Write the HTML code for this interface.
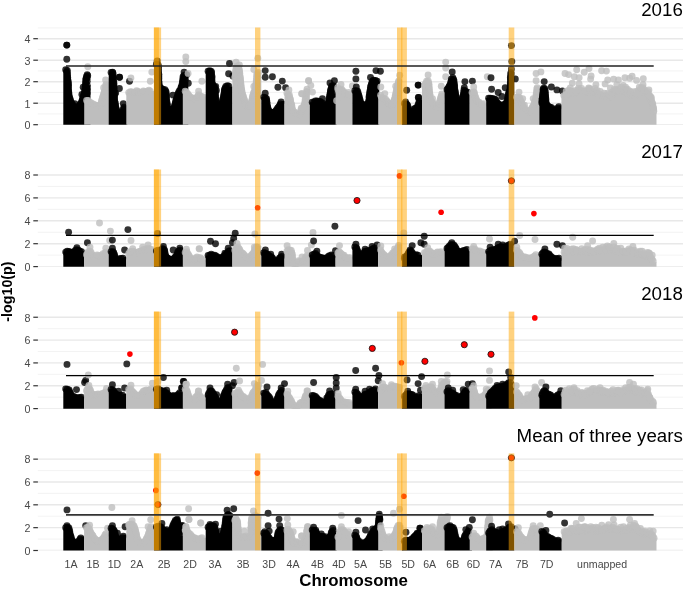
<!DOCTYPE html>
<html><head><meta charset="utf-8"><title>GWAS Manhattan plots</title>
<style>html,body{margin:0;padding:0;background:#fff}body{width:685px;height:589px;overflow:hidden}</style>
</head><body>
<svg width="685" height="589" viewBox="0 0 685 589" style="display:block">
<rect width="685" height="589" fill="#fff"/>
<defs>
<clipPath id="c0"><rect x="37" y="19.5" width="648" height="105.3"/></clipPath>
<clipPath id="c1"><rect x="37" y="161.5" width="648" height="105.2"/></clipPath>
<clipPath id="c2"><rect x="37" y="303.6" width="648" height="105.1"/></clipPath>
<clipPath id="c3"><rect x="37" y="445.4" width="648" height="105.2"/></clipPath>
</defs>
<g clip-path="url(#c0)">
<path d="M37.8 113.95H683" stroke="#f0f0f0" stroke-width="0.8"/>
<path d="M37.8 92.45H683" stroke="#f0f0f0" stroke-width="0.8"/>
<path d="M37.8 70.95H683" stroke="#f0f0f0" stroke-width="0.8"/>
<path d="M37.8 49.45H683" stroke="#f0f0f0" stroke-width="0.8"/>
<path d="M37.8 27.95H683" stroke="#f0f0f0" stroke-width="0.8"/>
<path d="M37.8 124.70H683" stroke="#e8e8e8" stroke-width="1.4"/>
<path d="M37.8 103.20H683" stroke="#e8e8e8" stroke-width="1.4"/>
<path d="M37.8 81.70H683" stroke="#e8e8e8" stroke-width="1.4"/>
<path d="M37.8 60.20H683" stroke="#e8e8e8" stroke-width="1.4"/>
<path d="M37.8 38.70H683" stroke="#e8e8e8" stroke-width="1.4"/>
<g fill="#000"><path d="M63.3 125.8L63.3 69.7L64.1 69.7L64.9 69.7L65.7 69.7L66.5 70.1L67.3 70.3L68.1 70.3L68.9 94.5L69.7 97.4L70.5 100L71.3 102.4L72.1 103.5L72.9 104.1L73.7 105.9L74.5 107.3L75.3 107.7L76.1 108L76.9 107.8L77.7 107.4L78.5 106.6L79.3 105.4L80.1 103.8L80.9 102.9L81.7 101.4L82.5 98.8L83.3 96.3L84.1 93.5L84.9 90L85.7 84.4L86.5 75.5L87.3 75.4L88.1 85.3L88.9 85.3L89.7 85.3L90.5 85.3L90.5 85.3L90.5 125.8Z"/>
</g>
<g fill="#000" fill-opacity="0.8">
<circle cx="65.7" cy="69.8" r="3.45"/>
<circle cx="67.3" cy="70.5" r="3.45"/>
<circle cx="67.2" cy="72.3" r="3.45"/>
<circle cx="67.3" cy="74" r="3.45"/>
<circle cx="67.5" cy="75.4" r="3.45"/>
<circle cx="67.7" cy="77.6" r="3.45"/>
<circle cx="67.7" cy="78.9" r="3.45"/>
<circle cx="68.1" cy="81" r="3.45"/>
<circle cx="68.2" cy="82.4" r="3.45"/>
<circle cx="68.4" cy="83.9" r="3.45"/>
<circle cx="68.5" cy="85.7" r="3.45"/>
<circle cx="68.3" cy="87.3" r="3.45"/>
<circle cx="68.5" cy="89.4" r="3.45"/>
<circle cx="68.6" cy="91" r="3.45"/>
<circle cx="68.8" cy="92.6" r="3.45"/>
<circle cx="68.9" cy="94.1" r="3.45"/>
<circle cx="69" cy="95.8" r="3.45"/>
<circle cx="69.7" cy="97.6" r="3.45"/>
<circle cx="70.1" cy="99.3" r="3.45"/>
<circle cx="70.6" cy="100.8" r="3.45"/>
<circle cx="71.3" cy="102.6" r="3.45"/>
<circle cx="72.1" cy="103.9" r="3.45"/>
<circle cx="73.3" cy="105.4" r="3.45"/>
<circle cx="74" cy="106.7" r="3.45"/>
<circle cx="75.3" cy="107.8" r="3.45"/>
<circle cx="76.7" cy="108.2" r="3.45"/>
<circle cx="78.1" cy="107.2" r="3.45"/>
<circle cx="79" cy="105.9" r="3.45"/>
<circle cx="80.1" cy="104.3" r="3.45"/>
<circle cx="81.2" cy="102.9" r="3.45"/>
<circle cx="81.8" cy="101.5" r="3.45"/>
<circle cx="82.3" cy="99.8" r="3.45"/>
<circle cx="82.9" cy="98.5" r="3.45"/>
<circle cx="83.3" cy="96.7" r="3.45"/>
<circle cx="83.6" cy="95.1" r="3.45"/>
<circle cx="84.2" cy="93.6" r="3.45"/>
<circle cx="84.7" cy="91.5" r="3.45"/>
<circle cx="84.9" cy="90.1" r="3.45"/>
<circle cx="85.1" cy="88.3" r="3.45"/>
<circle cx="85.3" cy="86.4" r="3.45"/>
<circle cx="85.5" cy="85.1" r="3.45"/>
<circle cx="85.6" cy="83.1" r="3.45"/>
<circle cx="85.8" cy="81.8" r="3.45"/>
<circle cx="85.8" cy="79.8" r="3.45"/>
<circle cx="86.1" cy="78.4" r="3.45"/>
<circle cx="86.4" cy="76.7" r="3.45"/>
<circle cx="87.7" cy="75.8" r="3.45"/>
</g>
<g fill="#000" fill-opacity="0.8">
<circle cx="66.8" cy="45.1" r="3.45"/>
<circle cx="66.8" cy="45.1" r="3.45"/>
<circle cx="66.8" cy="59.2" r="3.45"/>
<circle cx="87.2" cy="74.7" r="3.45"/>
<circle cx="87.2" cy="78" r="3.45"/>
<circle cx="87.2" cy="81.3" r="3.45"/>
<circle cx="87.2" cy="85.2" r="3.45"/>
<circle cx="87.2" cy="89.2" r="3.45"/>
<circle cx="87.2" cy="93.1" r="3.45"/>
<circle cx="83.2" cy="87.2" r="3.45"/>
<circle cx="81.9" cy="94.4" r="3.45"/>
<circle cx="74.7" cy="103.6" r="3.45"/>
</g>
<g fill="#bebebe"><path d="M84.2 125.8L84.2 100.3L85 100.3L85.8 100.3L86.6 100.3L87.4 100.2L88.2 99.9L89 101.3L89.8 102.1L90.6 102.5L91.4 102.8L92.2 103.4L93 103.6L93.8 103.8L94.6 104.6L95.4 105.2L96.2 105.5L97 105.5L97.8 105.4L98.6 105.5L99.4 105.1L100.2 104.6L101 102.7L101.8 100.6L102.6 98L103.4 95.2L104.2 92.8L105 90.1L105.8 86L106.6 82.1L107.4 82.1L108.2 82.1L108.9 82.1L108.9 125.8Z"/>
</g>
<g fill="#bebebe" fill-opacity="0.8">
<circle cx="86.6" cy="100.4" r="3.45"/>
<circle cx="88.2" cy="100.5" r="3.45"/>
<circle cx="89.3" cy="102" r="3.45"/>
<circle cx="90.8" cy="102.7" r="3.45"/>
<circle cx="92.1" cy="103.6" r="3.45"/>
<circle cx="93.8" cy="104.3" r="3.45"/>
<circle cx="95.4" cy="105.5" r="3.45"/>
<circle cx="96.8" cy="105.9" r="3.45"/>
<circle cx="98.6" cy="105.5" r="3.45"/>
<circle cx="100.2" cy="105.1" r="3.45"/>
<circle cx="101" cy="103.6" r="3.45"/>
<circle cx="101.4" cy="101.8" r="3.45"/>
<circle cx="101.8" cy="100.3" r="3.45"/>
<circle cx="102.3" cy="98.4" r="3.45"/>
<circle cx="102.8" cy="96.8" r="3.45"/>
<circle cx="103.4" cy="95.1" r="3.45"/>
<circle cx="103.8" cy="93.5" r="3.45"/>
<circle cx="104.3" cy="92" r="3.45"/>
<circle cx="104.8" cy="90.7" r="3.45"/>
<circle cx="105.5" cy="88.6" r="3.45"/>
<circle cx="105.6" cy="87.1" r="3.45"/>
<circle cx="105.8" cy="85.3" r="3.45"/>
<circle cx="106.2" cy="84.1" r="3.45"/>
</g>
<g fill="#bebebe" fill-opacity="0.8">
<circle cx="87.8" cy="66.8" r="3.45"/>
<circle cx="105.6" cy="80" r="3.45"/>
<circle cx="103.6" cy="87.8" r="3.45"/>
</g>
<g fill="#000"><path d="M108.7 125.8L108.7 72.5L109.5 72.5L110.3 72.5L111.1 72.5L111.9 72.3L112.7 72.3L113.5 72.7L114.3 95.3L115.1 103.1L115.9 108.2L116.7 109.3L117.5 110.9L118.3 112.1L119.1 112.8L119.9 113.2L120.7 113.3L121.5 113.1L122.3 112.6L123.1 110.6L123.9 107.4L124.7 105.8L125.5 105.6L126.3 105.6L127.1 105.6L127.3 105.6L127.3 125.8Z"/>
</g>
<g fill="#000" fill-opacity="0.8">
<circle cx="111.1" cy="72.5" r="3.45"/>
<circle cx="112.8" cy="72.6" r="3.45"/>
<circle cx="113.1" cy="74.2" r="3.45"/>
<circle cx="112.9" cy="76.4" r="3.45"/>
<circle cx="113.3" cy="77.6" r="3.45"/>
<circle cx="113.4" cy="79.2" r="3.45"/>
<circle cx="113.6" cy="81.5" r="3.45"/>
<circle cx="113.9" cy="83" r="3.45"/>
<circle cx="113.8" cy="84.5" r="3.45"/>
<circle cx="113.9" cy="86.4" r="3.45"/>
<circle cx="114.1" cy="88.1" r="3.45"/>
<circle cx="114" cy="89.5" r="3.45"/>
<circle cx="114.3" cy="91.6" r="3.45"/>
<circle cx="114.4" cy="93.2" r="3.45"/>
<circle cx="114.4" cy="94.9" r="3.45"/>
<circle cx="114.3" cy="96.5" r="3.45"/>
<circle cx="114.5" cy="97.9" r="3.45"/>
<circle cx="114.5" cy="99.7" r="3.45"/>
<circle cx="114.8" cy="101.6" r="3.45"/>
<circle cx="115.3" cy="103.2" r="3.45"/>
<circle cx="115.4" cy="105.2" r="3.45"/>
<circle cx="115.6" cy="106.5" r="3.45"/>
<circle cx="115.7" cy="108.1" r="3.45"/>
<circle cx="116.6" cy="109.5" r="3.45"/>
<circle cx="117.5" cy="111.4" r="3.45"/>
<circle cx="118.6" cy="112.6" r="3.45"/>
<circle cx="120" cy="113.6" r="3.45"/>
<circle cx="121.5" cy="113.4" r="3.45"/>
<circle cx="122.9" cy="112.1" r="3.45"/>
<circle cx="123.3" cy="110.3" r="3.45"/>
<circle cx="123.5" cy="108.8" r="3.45"/>
<circle cx="124" cy="107.2" r="3.45"/>
</g>
<g fill="#000" fill-opacity="0.8">
<circle cx="112.5" cy="72.1" r="3.45"/>
<circle cx="119.4" cy="77.3" r="3.45"/>
<circle cx="119.6" cy="77.3" r="3.45"/>
<circle cx="119.4" cy="88.5" r="3.45"/>
<circle cx="115.7" cy="93.1" r="3.45"/>
<circle cx="129.5" cy="81.3" r="3.45"/>
<circle cx="123.3" cy="103.6" r="3.45"/>
</g>
<g fill="#bebebe"><path d="M126.3 125.8L126.3 92L127.1 92L127.9 92L128.7 92L129.5 91.5L130.3 91.4L131.1 91.8L131.9 91.9L132.7 91.8L133.5 92.1L134.3 92.1L135.1 91.7L135.9 90.9L136.7 90.1L137.5 90.1L138.3 91.4L139.1 92.2L139.9 92.6L140.7 92.6L141.5 92.3L142.3 91.7L143.1 90.8L143.9 90.3L144.7 91.3L145.5 91.7L146.3 91.9L147.1 91.8L147.9 91.3L148.7 90.3L149.5 90.1L150.3 90.7L151.1 91L151.9 91.1L152.7 91.1L153.5 91.1L154 91.1L154 125.8Z"/>
</g>
<g fill="#bebebe" fill-opacity="0.8">
<circle cx="128.7" cy="92.6" r="3.45"/>
<circle cx="130.4" cy="91.6" r="3.45"/>
<circle cx="131.8" cy="91.9" r="3.45"/>
<circle cx="133.8" cy="92.5" r="3.45"/>
<circle cx="135.1" cy="92.1" r="3.45"/>
<circle cx="136.6" cy="90.7" r="3.45"/>
<circle cx="137.9" cy="91.4" r="3.45"/>
<circle cx="139.1" cy="92.2" r="3.45"/>
<circle cx="141" cy="92.9" r="3.45"/>
<circle cx="142.3" cy="92.2" r="3.45"/>
<circle cx="143.4" cy="90.9" r="3.45"/>
<circle cx="144.9" cy="91.5" r="3.45"/>
<circle cx="146.3" cy="92.1" r="3.45"/>
<circle cx="147.8" cy="91.5" r="3.45"/>
<circle cx="148.9" cy="90.1" r="3.45"/>
<circle cx="150.3" cy="91.3" r="3.45"/>
</g>
<g fill="#bebebe" fill-opacity="0.8">
<circle cx="130.9" cy="78" r="3.45"/>
<circle cx="151.8" cy="72.1" r="3.45"/>
<circle cx="150.3" cy="81.3" r="3.45"/>
</g>
<g fill="#000"><path d="M154 125.8L154 63.7L154.8 63.7L155.6 63.7L156.4 63.7L157.2 64L158 64.1L158.8 73.5L159.6 86.6L160.4 87.4L161.2 87.8L162 88.6L162.8 89.1L163.6 89.3L164.4 89.2L165.2 89L166 92.5L166.8 100.2L167.6 107.6L168.4 109.1L169.2 109.8L170 109.8L170.8 109.6L171.6 109.2L172.4 109L173.2 108.7L174 107.8L174.8 105.2L175.6 101.7L176.4 99L177.2 96.6L178 93.9L178.8 91.7L179.6 90.5L180.4 89.2L181.2 87.1L182 84.6L182.8 81.3L183.6 74.9L184.4 75.9L185.2 79.3L186 81.6L186.8 81.6L187.6 81.6L188.3 81.6L188.3 125.8Z"/>
</g>
<g fill="#000" fill-opacity="0.8">
<circle cx="156.4" cy="64.2" r="3.45"/>
<circle cx="158" cy="64.6" r="3.45"/>
<circle cx="158.2" cy="66.1" r="3.45"/>
<circle cx="158.3" cy="67.5" r="3.45"/>
<circle cx="158.4" cy="69.3" r="3.45"/>
<circle cx="158.3" cy="71.3" r="3.45"/>
<circle cx="158.5" cy="72.8" r="3.45"/>
<circle cx="158.9" cy="74.6" r="3.45"/>
<circle cx="158.7" cy="76.3" r="3.45"/>
<circle cx="158.9" cy="78.1" r="3.45"/>
<circle cx="158.7" cy="79.7" r="3.45"/>
<circle cx="158.8" cy="81.2" r="3.45"/>
<circle cx="159.1" cy="83" r="3.45"/>
<circle cx="159" cy="84.9" r="3.45"/>
<circle cx="159.4" cy="86.4" r="3.45"/>
<circle cx="160.4" cy="87.7" r="3.45"/>
<circle cx="161.7" cy="88.8" r="3.45"/>
<circle cx="163.2" cy="89.5" r="3.45"/>
<circle cx="164.9" cy="89.6" r="3.45"/>
<circle cx="165.8" cy="91.1" r="3.45"/>
<circle cx="166.1" cy="92.4" r="3.45"/>
<circle cx="166.2" cy="94.5" r="3.45"/>
<circle cx="166.5" cy="95.7" r="3.45"/>
<circle cx="166.4" cy="97.6" r="3.45"/>
<circle cx="166.5" cy="99.2" r="3.45"/>
<circle cx="166.7" cy="101.1" r="3.45"/>
<circle cx="167.1" cy="102.9" r="3.45"/>
<circle cx="167.1" cy="104.5" r="3.45"/>
<circle cx="167.5" cy="105.9" r="3.45"/>
<circle cx="167.8" cy="108.1" r="3.45"/>
<circle cx="168.2" cy="109.6" r="3.45"/>
<circle cx="169.9" cy="110" r="3.45"/>
<circle cx="171.7" cy="109.7" r="3.45"/>
<circle cx="173" cy="108.9" r="3.45"/>
<circle cx="174.1" cy="107.4" r="3.45"/>
<circle cx="174.5" cy="105.8" r="3.45"/>
<circle cx="175.2" cy="104" r="3.45"/>
<circle cx="175.5" cy="102.6" r="3.45"/>
<circle cx="175.7" cy="100.9" r="3.45"/>
<circle cx="176.4" cy="99.4" r="3.45"/>
<circle cx="176.7" cy="98" r="3.45"/>
<circle cx="177.5" cy="96.4" r="3.45"/>
<circle cx="177.8" cy="94.4" r="3.45"/>
<circle cx="178.3" cy="93.1" r="3.45"/>
<circle cx="179.1" cy="91.1" r="3.45"/>
<circle cx="180.1" cy="90.2" r="3.45"/>
<circle cx="181" cy="88.2" r="3.45"/>
<circle cx="181.2" cy="87" r="3.45"/>
<circle cx="182" cy="85.3" r="3.45"/>
<circle cx="182.3" cy="83.3" r="3.45"/>
<circle cx="182.8" cy="81.8" r="3.45"/>
<circle cx="182.7" cy="80.4" r="3.45"/>
<circle cx="183.1" cy="78.7" r="3.45"/>
<circle cx="183" cy="77" r="3.45"/>
<circle cx="183.8" cy="75.5" r="3.45"/>
<circle cx="184.5" cy="76.8" r="3.45"/>
<circle cx="185" cy="78.8" r="3.45"/>
<circle cx="185.3" cy="80" r="3.45"/>
</g>
<g fill="#000" fill-opacity="0.8">
<circle cx="157.2" cy="60.9" r="3.45"/>
<circle cx="172.9" cy="95.1" r="3.45"/>
<circle cx="184.1" cy="72.1" r="3.45"/>
<circle cx="186.7" cy="74.7" r="3.45"/>
<circle cx="188.3" cy="83.2" r="3.45"/>
</g>
<g fill="#bebebe"><path d="M182.8 125.8L182.8 91.2L183.6 91.2L184.4 91.2L185.2 91.2L186 91.4L186.8 92.4L187.6 93.2L188.4 94.3L189.2 95.9L190 96.9L190.8 97.6L191.6 97.9L192.4 98L193.2 97.9L194 98.4L194.8 98.4L195.6 98.3L196.4 97.7L197.2 96.7L198 95.3L198.8 94.1L199.6 95L200.4 95.6L201.2 95.9L202 96.1L202.8 96.3L203.6 96.5L204.4 96.5L205.2 96.5L205.9 96.5L205.9 125.8Z"/>
</g>
<g fill="#bebebe" fill-opacity="0.8">
<circle cx="185.2" cy="91.3" r="3.45"/>
<circle cx="186.4" cy="92.3" r="3.45"/>
<circle cx="187.7" cy="93.6" r="3.45"/>
<circle cx="188.7" cy="95.1" r="3.45"/>
<circle cx="189.5" cy="96.4" r="3.45"/>
<circle cx="190.7" cy="97.5" r="3.45"/>
<circle cx="192.3" cy="98" r="3.45"/>
<circle cx="194.1" cy="98.7" r="3.45"/>
<circle cx="195.6" cy="98.4" r="3.45"/>
<circle cx="197.1" cy="97.1" r="3.45"/>
<circle cx="198" cy="95.8" r="3.45"/>
<circle cx="198.8" cy="94.6" r="3.45"/>
<circle cx="199.9" cy="95.6" r="3.45"/>
<circle cx="201.6" cy="96.6" r="3.45"/>
<circle cx="203.1" cy="96.9" r="3.45"/>
</g>
<g fill="#bebebe" fill-opacity="0.8">
<circle cx="185.8" cy="57" r="3.45"/>
<circle cx="185.8" cy="61.6" r="3.45"/>
<circle cx="188.1" cy="73.4" r="3.45"/>
<circle cx="201.9" cy="81.3" r="3.45"/>
<circle cx="198.6" cy="91.1" r="3.45"/>
</g>
<g fill="#000"><path d="M205.7 125.8L205.7 71L206.5 71L207.3 71L208.1 71L208.9 71.3L209.7 71.3L210.5 71.2L211.3 71L212.1 82.5L212.9 84.8L213.7 85.8L214.5 86.4L215.3 90.7L216.1 101.5L216.9 105.2L217.7 106.2L218.5 106.1L219.3 106.1L220.1 105.7L220.9 104.6L221.7 102.8L222.5 100.9L223.3 97.1L224.1 92.6L224.9 88.7L225.7 86.3L226.5 85.5L227.3 85.4L228.1 85.8L228.9 86.4L229.7 86.7L230.5 86.7L231.3 86.7L232.1 86.7L232.4 86.7L232.4 125.8Z"/>
</g>
<g fill="#000" fill-opacity="0.8">
<circle cx="208.1" cy="71.2" r="3.45"/>
<circle cx="209.6" cy="71.4" r="3.45"/>
<circle cx="211.3" cy="71.4" r="3.45"/>
<circle cx="211.5" cy="72.7" r="3.45"/>
<circle cx="211.5" cy="74.8" r="3.45"/>
<circle cx="212" cy="76.4" r="3.45"/>
<circle cx="211.8" cy="77.9" r="3.45"/>
<circle cx="211.9" cy="79.7" r="3.45"/>
<circle cx="211.9" cy="81.4" r="3.45"/>
<circle cx="212" cy="83.4" r="3.45"/>
<circle cx="212.9" cy="84.7" r="3.45"/>
<circle cx="213.6" cy="86.4" r="3.45"/>
<circle cx="214.7" cy="87.3" r="3.45"/>
<circle cx="214.8" cy="89" r="3.45"/>
<circle cx="215.2" cy="90.7" r="3.45"/>
<circle cx="215.2" cy="92.4" r="3.45"/>
<circle cx="215.3" cy="94" r="3.45"/>
<circle cx="215.4" cy="95.8" r="3.45"/>
<circle cx="215.6" cy="97.2" r="3.45"/>
<circle cx="215.8" cy="99.1" r="3.45"/>
<circle cx="216.1" cy="100.9" r="3.45"/>
<circle cx="216.3" cy="102.7" r="3.45"/>
<circle cx="216.4" cy="104.5" r="3.45"/>
<circle cx="217.1" cy="105.7" r="3.45"/>
<circle cx="218.9" cy="106.2" r="3.45"/>
<circle cx="220.4" cy="105.9" r="3.45"/>
<circle cx="220.9" cy="104.5" r="3.45"/>
<circle cx="222" cy="102.9" r="3.45"/>
<circle cx="222.6" cy="101.4" r="3.45"/>
<circle cx="222.7" cy="99.6" r="3.45"/>
<circle cx="223.2" cy="98.1" r="3.45"/>
<circle cx="223.6" cy="96.4" r="3.45"/>
<circle cx="223.8" cy="94.8" r="3.45"/>
<circle cx="224.2" cy="93" r="3.45"/>
<circle cx="224.3" cy="90.9" r="3.45"/>
<circle cx="224.6" cy="89.4" r="3.45"/>
<circle cx="225.1" cy="88.1" r="3.45"/>
<circle cx="225.8" cy="86.4" r="3.45"/>
<circle cx="227.4" cy="85.8" r="3.45"/>
<circle cx="228.8" cy="86.3" r="3.45"/>
</g>
<g fill="#000" fill-opacity="0.8">
<circle cx="209.8" cy="70.8" r="3.45"/>
<circle cx="209.8" cy="76" r="3.45"/>
<circle cx="209.8" cy="80" r="3.45"/>
<circle cx="211.8" cy="85.2" r="3.45"/>
<circle cx="215.7" cy="86.5" r="3.45"/>
<circle cx="216.4" cy="90.5" r="3.45"/>
<circle cx="229.5" cy="63.5" r="3.45"/>
<circle cx="228.6" cy="73.8" r="3.45"/>
<circle cx="232.8" cy="76" r="3.45"/>
</g>
<g fill="#bebebe"><path d="M232.4 125.8L232.4 77.5L233.2 77.5L234 77.5L234.8 77.5L235.6 71.9L236.4 65.7L237.2 65.3L238 65.6L238.8 68.5L239.6 72L240.4 79.5L241.2 87L242 91.3L242.8 94.7L243.6 97.7L244.4 99.8L245.2 102L246 103.9L246.8 105.2L247.6 105.8L248.4 105.9L249.2 105.9L250 105.5L250.8 104.1L251.6 100.4L252.4 96.8L253.2 94.1L254 92.2L254.8 90.8L255.6 87.7L256.4 78.7L257.2 71.8L258 72.2L258.8 72.4L259.6 72.5L260.4 72.5L261.2 72.5L261.3 72.5L261.3 125.8Z"/>
</g>
<g fill="#bebebe" fill-opacity="0.8">
<circle cx="234.8" cy="77.8" r="3.45"/>
<circle cx="235.2" cy="75.9" r="3.45"/>
<circle cx="235.5" cy="74.3" r="3.45"/>
<circle cx="235.4" cy="72.6" r="3.45"/>
<circle cx="235.8" cy="70.9" r="3.45"/>
<circle cx="236" cy="69.7" r="3.45"/>
<circle cx="236.1" cy="67.6" r="3.45"/>
<circle cx="236.6" cy="66.2" r="3.45"/>
<circle cx="238.1" cy="67" r="3.45"/>
<circle cx="238.7" cy="68.3" r="3.45"/>
<circle cx="239" cy="70" r="3.45"/>
<circle cx="239.6" cy="71.7" r="3.45"/>
<circle cx="239.8" cy="73.2" r="3.45"/>
<circle cx="239.8" cy="75.1" r="3.45"/>
<circle cx="240.2" cy="77" r="3.45"/>
<circle cx="240.4" cy="78.5" r="3.45"/>
<circle cx="240.5" cy="80.3" r="3.45"/>
<circle cx="240.6" cy="81.7" r="3.45"/>
<circle cx="240.9" cy="83.5" r="3.45"/>
<circle cx="241.1" cy="85.6" r="3.45"/>
<circle cx="241" cy="87" r="3.45"/>
<circle cx="241.6" cy="89" r="3.45"/>
<circle cx="241.7" cy="90.2" r="3.45"/>
<circle cx="242" cy="92.3" r="3.45"/>
<circle cx="242.4" cy="93.8" r="3.45"/>
<circle cx="242.8" cy="95.4" r="3.45"/>
<circle cx="243.5" cy="96.8" r="3.45"/>
<circle cx="243.9" cy="98.6" r="3.45"/>
<circle cx="244.6" cy="100.3" r="3.45"/>
<circle cx="244.9" cy="102" r="3.45"/>
<circle cx="245.6" cy="103.1" r="3.45"/>
<circle cx="246.2" cy="104.9" r="3.45"/>
<circle cx="247.5" cy="106" r="3.45"/>
<circle cx="249.1" cy="106" r="3.45"/>
<circle cx="250.3" cy="105" r="3.45"/>
<circle cx="250.8" cy="103.4" r="3.45"/>
<circle cx="251.5" cy="101.4" r="3.45"/>
<circle cx="251.9" cy="100.1" r="3.45"/>
<circle cx="252.3" cy="98.1" r="3.45"/>
<circle cx="252.5" cy="96.5" r="3.45"/>
<circle cx="253.2" cy="95" r="3.45"/>
<circle cx="253.5" cy="93.3" r="3.45"/>
<circle cx="254.2" cy="91.6" r="3.45"/>
<circle cx="255" cy="90.6" r="3.45"/>
<circle cx="255.4" cy="89" r="3.45"/>
<circle cx="255.6" cy="86.9" r="3.45"/>
<circle cx="255.8" cy="85.1" r="3.45"/>
<circle cx="255.9" cy="83.9" r="3.45"/>
<circle cx="256.3" cy="82.1" r="3.45"/>
<circle cx="256.3" cy="80.5" r="3.45"/>
<circle cx="256.6" cy="78.6" r="3.45"/>
<circle cx="256.7" cy="76.6" r="3.45"/>
<circle cx="256.8" cy="75.1" r="3.45"/>
<circle cx="257" cy="73.6" r="3.45"/>
<circle cx="258.3" cy="72.4" r="3.45"/>
</g>
<g fill="#bebebe" fill-opacity="0.8">
<circle cx="236.1" cy="62.2" r="3.45"/>
<circle cx="239.4" cy="64.9" r="3.45"/>
<circle cx="239.1" cy="69.5" r="3.45"/>
<circle cx="253.8" cy="69.5" r="3.45"/>
<circle cx="253.8" cy="86.5" r="3.45"/>
<circle cx="257.8" cy="58.3" r="3.45"/>
</g>
<g fill="#000"><path d="M261.3 125.8L261.3 96.9L262.1 96.9L262.9 96.9L263.7 96.9L264.5 96.8L265.3 97.1L266.1 97.3L266.9 102.1L267.7 107.1L268.5 110.3L269.3 111L270.1 111.8L270.9 112.2L271.7 112.4L272.5 112.4L273.3 112.2L274.1 111.9L274.9 111.6L275.7 110.7L276.5 109.7L277.3 108.5L278.1 107.5L278.9 106.7L279.7 105.3L280.5 103.2L281.3 101.4L282.1 100.9L282.9 100.9L283.7 100.9L284.5 100.9L284.5 100.9L284.5 125.8Z"/>
</g>
<g fill="#000" fill-opacity="0.8">
<circle cx="263.7" cy="97.1" r="3.45"/>
<circle cx="265.3" cy="97.6" r="3.45"/>
<circle cx="266.5" cy="98.8" r="3.45"/>
<circle cx="266.7" cy="100.5" r="3.45"/>
<circle cx="266.9" cy="102.2" r="3.45"/>
<circle cx="267" cy="103.7" r="3.45"/>
<circle cx="267.3" cy="105.9" r="3.45"/>
<circle cx="267.7" cy="107.1" r="3.45"/>
<circle cx="268.2" cy="109.3" r="3.45"/>
<circle cx="268.5" cy="110.4" r="3.45"/>
<circle cx="269.6" cy="111.5" r="3.45"/>
<circle cx="271.2" cy="112.4" r="3.45"/>
<circle cx="272.8" cy="112.4" r="3.45"/>
<circle cx="274.6" cy="112.3" r="3.45"/>
<circle cx="275.9" cy="110.8" r="3.45"/>
<circle cx="276.8" cy="109.5" r="3.45"/>
<circle cx="277.8" cy="108" r="3.45"/>
<circle cx="278.8" cy="106.7" r="3.45"/>
<circle cx="279.9" cy="105.1" r="3.45"/>
<circle cx="280.4" cy="103.9" r="3.45"/>
<circle cx="281.1" cy="102" r="3.45"/>
</g>
<g fill="#000" fill-opacity="0.8">
<circle cx="265.2" cy="70.6" r="3.45"/>
<circle cx="265.2" cy="77.2" r="3.45"/>
<circle cx="272.4" cy="76.7" r="3.45"/>
<circle cx="282.3" cy="81.1" r="3.45"/>
<circle cx="277.9" cy="87.3" r="3.45"/>
<circle cx="285.6" cy="87.7" r="3.45"/>
<circle cx="265.2" cy="93.2" r="3.45"/>
</g>
<g fill="#bebebe"><path d="M284.5 125.8L284.5 92.9L285.3 92.9L286.1 92.9L286.9 92.9L287.7 93.7L288.5 94.5L289.3 94.9L290.1 98.4L290.9 102L291.7 105.5L292.5 109.1L293.3 111.2L294.1 112.1L294.9 111.9L295.7 112.2L296.5 113.1L297.3 114.2L298.1 114.4L298.9 114.6L299.7 114.1L300.5 113.7L301.3 107.6L302.1 107.3L302.9 107.5L303.7 106.7L304.5 104.3L305.3 99.1L306.1 94.5L306.9 89.9L307.7 89L308.5 89L309.3 89L309.8 89L309.8 125.8Z"/>
</g>
<g fill="#bebebe" fill-opacity="0.8">
<circle cx="286.9" cy="93.1" r="3.45"/>
<circle cx="288.2" cy="94.6" r="3.45"/>
<circle cx="289.4" cy="95.3" r="3.45"/>
<circle cx="289.6" cy="97.4" r="3.45"/>
<circle cx="290.3" cy="98.9" r="3.45"/>
<circle cx="290.5" cy="100.3" r="3.45"/>
<circle cx="290.8" cy="102.5" r="3.45"/>
<circle cx="291.4" cy="104.1" r="3.45"/>
<circle cx="291.8" cy="105.4" r="3.45"/>
<circle cx="291.8" cy="107" r="3.45"/>
<circle cx="292.4" cy="109" r="3.45"/>
<circle cx="292.9" cy="110.6" r="3.45"/>
<circle cx="293.8" cy="112" r="3.45"/>
<circle cx="295.4" cy="112.4" r="3.45"/>
<circle cx="296.4" cy="113.8" r="3.45"/>
<circle cx="297.8" cy="114.9" r="3.45"/>
<circle cx="299.6" cy="114.3" r="3.45"/>
<circle cx="300.4" cy="112.9" r="3.45"/>
<circle cx="301" cy="111.5" r="3.45"/>
<circle cx="301" cy="109.4" r="3.45"/>
<circle cx="301.3" cy="108.1" r="3.45"/>
<circle cx="302.9" cy="107.5" r="3.45"/>
<circle cx="304" cy="106" r="3.45"/>
<circle cx="304.4" cy="104.6" r="3.45"/>
<circle cx="304.9" cy="103" r="3.45"/>
<circle cx="305.1" cy="101.3" r="3.45"/>
<circle cx="305.2" cy="99.5" r="3.45"/>
<circle cx="305.7" cy="98" r="3.45"/>
<circle cx="305.8" cy="96" r="3.45"/>
<circle cx="306.1" cy="94.7" r="3.45"/>
<circle cx="306.4" cy="92.8" r="3.45"/>
<circle cx="306.8" cy="91.5" r="3.45"/>
<circle cx="307" cy="89.3" r="3.45"/>
</g>
<g fill="#bebebe" fill-opacity="0.8">
<circle cx="288.9" cy="89.9" r="3.45"/>
<circle cx="301.6" cy="93.8" r="3.45"/>
<circle cx="308.6" cy="80.7" r="3.45"/>
<circle cx="310.8" cy="85.5" r="3.45"/>
<circle cx="312.5" cy="92.1" r="3.45"/>
<circle cx="308.6" cy="80.7" r="3.45"/>
<circle cx="302" cy="93.8" r="3.45"/>
</g>
<g fill="#000"><path d="M309.8 125.8L309.8 102.2L310.6 102.2L311.4 102.2L312.2 102.2L313 101.8L313.8 101.6L314.6 101.3L315.4 100.6L316.2 100.2L317 100.8L317.8 101.2L318.6 101.4L319.4 101.2L320.2 100.9L321 100.5L321.8 101.4L322.6 104L323.4 105.9L324.2 107L325 107.4L325.8 107.5L326.6 107.3L327.4 106.5L328.2 103.8L329 99.2L329.8 95L330.6 91L331.4 87L332.2 85.1L333 85.3L333.8 88.4L334.6 93.4L335.4 93.4L336.2 93.4L336.6 93.4L336.6 125.8Z"/>
</g>
<g fill="#000" fill-opacity="0.8">
<circle cx="312.2" cy="102.3" r="3.45"/>
<circle cx="313.9" cy="102.1" r="3.45"/>
<circle cx="315.3" cy="100.9" r="3.45"/>
<circle cx="317.1" cy="101" r="3.45"/>
<circle cx="318.7" cy="101.5" r="3.45"/>
<circle cx="320.1" cy="101.4" r="3.45"/>
<circle cx="321.5" cy="102.4" r="3.45"/>
<circle cx="322.4" cy="103.5" r="3.45"/>
<circle cx="322.9" cy="105.2" r="3.45"/>
<circle cx="323.8" cy="107.1" r="3.45"/>
<circle cx="325" cy="107.7" r="3.45"/>
<circle cx="326.7" cy="107.8" r="3.45"/>
<circle cx="327.7" cy="105.8" r="3.45"/>
<circle cx="328" cy="104.4" r="3.45"/>
<circle cx="328.6" cy="103" r="3.45"/>
<circle cx="328.8" cy="101.4" r="3.45"/>
<circle cx="329.2" cy="99.3" r="3.45"/>
<circle cx="329.2" cy="98" r="3.45"/>
<circle cx="329.8" cy="95.8" r="3.45"/>
<circle cx="330" cy="94.3" r="3.45"/>
<circle cx="330.3" cy="92.7" r="3.45"/>
<circle cx="330.5" cy="90.8" r="3.45"/>
<circle cx="330.9" cy="89.3" r="3.45"/>
<circle cx="331.5" cy="87.5" r="3.45"/>
<circle cx="331.8" cy="85.9" r="3.45"/>
<circle cx="333.2" cy="85.8" r="3.45"/>
<circle cx="333.7" cy="87.3" r="3.45"/>
<circle cx="333.6" cy="89" r="3.45"/>
<circle cx="333.9" cy="91" r="3.45"/>
</g>
<g fill="#000" fill-opacity="0.8">
<circle cx="322.4" cy="98.6" r="3.45"/>
<circle cx="330" cy="82.9" r="3.45"/>
<circle cx="334.4" cy="80.7" r="3.45"/>
<circle cx="327.4" cy="103.5" r="3.45"/>
</g>
<g fill="#bebebe"><path d="M335.6 125.8L335.6 89.8L336.4 89.8L337.2 89.8L338 89.8L338.8 89.7L339.6 89.5L340.4 89.1L341.2 88.9L342 89.8L342.8 90.7L343.6 91.4L344.4 91.9L345.2 92.8L346 94L346.8 94.4L347.6 94.7L348.4 94.5L349.2 94L350 93.2L350.8 93.2L351.6 93.2L352.4 93.2L352.4 93.2L352.4 125.8Z"/>
</g>
<g fill="#bebebe" fill-opacity="0.8">
<circle cx="338" cy="89.8" r="3.45"/>
<circle cx="339.7" cy="89.9" r="3.45"/>
<circle cx="341.5" cy="89.2" r="3.45"/>
<circle cx="342.3" cy="90.4" r="3.45"/>
<circle cx="343.9" cy="91.7" r="3.45"/>
<circle cx="345.1" cy="93.2" r="3.45"/>
<circle cx="346" cy="94.2" r="3.45"/>
<circle cx="347.9" cy="95" r="3.45"/>
<circle cx="349.1" cy="94.4" r="3.45"/>
</g>
<g fill="#bebebe" fill-opacity="0.8">
<circle cx="341" cy="84.4" r="3.45"/>
<circle cx="337.7" cy="87.7" r="3.45"/>
<circle cx="348.6" cy="92.5" r="3.45"/>
<circle cx="336.6" cy="100.8" r="3.45"/>
<circle cx="352.4" cy="85.9" r="3.45"/>
</g>
<g fill="#000"><path d="M352.4 125.8L352.4 90.3L353.2 90.3L354 90.3L354.8 90.3L355.6 89.7L356.4 90.2L357.2 90.4L358 92.3L358.8 95.2L359.6 98.4L360.4 101.6L361.2 103.4L362 104.1L362.8 104.3L363.6 104.2L364.4 104.8L365.2 105.4L366 105.5L366.8 105.5L367.6 105L368.4 103.3L369.2 97.5L370 91L370.8 85.7L371.6 83.3L372.4 81.4L373.2 80.1L374 79.4L374.8 78.9L375.6 80.4L376.4 83.1L377.2 85L378 85L378.8 85L379.3 85L379.3 125.8Z"/>
</g>
<g fill="#000" fill-opacity="0.8">
<circle cx="354.8" cy="90.7" r="3.45"/>
<circle cx="356.7" cy="90.6" r="3.45"/>
<circle cx="357.8" cy="91.5" r="3.45"/>
<circle cx="358.1" cy="93.4" r="3.45"/>
<circle cx="358.8" cy="95.3" r="3.45"/>
<circle cx="359" cy="96.5" r="3.45"/>
<circle cx="359.5" cy="98.3" r="3.45"/>
<circle cx="360" cy="99.8" r="3.45"/>
<circle cx="360.4" cy="101.8" r="3.45"/>
<circle cx="361" cy="103.4" r="3.45"/>
<circle cx="362.2" cy="104.3" r="3.45"/>
<circle cx="363.7" cy="104.6" r="3.45"/>
<circle cx="365.3" cy="105.4" r="3.45"/>
<circle cx="366.8" cy="105.8" r="3.45"/>
<circle cx="367.8" cy="104" r="3.45"/>
<circle cx="368.4" cy="102.7" r="3.45"/>
<circle cx="368.7" cy="101.3" r="3.45"/>
<circle cx="369.1" cy="99.6" r="3.45"/>
<circle cx="369.1" cy="97.4" r="3.45"/>
<circle cx="369.2" cy="96" r="3.45"/>
<circle cx="369.7" cy="94.2" r="3.45"/>
<circle cx="369.7" cy="92.5" r="3.45"/>
<circle cx="370.1" cy="91" r="3.45"/>
<circle cx="370.3" cy="89.4" r="3.45"/>
<circle cx="370.5" cy="87.3" r="3.45"/>
<circle cx="371" cy="85.7" r="3.45"/>
<circle cx="371.4" cy="84.2" r="3.45"/>
<circle cx="372" cy="82.5" r="3.45"/>
<circle cx="372.6" cy="81" r="3.45"/>
<circle cx="373.7" cy="80.1" r="3.45"/>
<circle cx="375.4" cy="80.5" r="3.45"/>
<circle cx="375.9" cy="82.5" r="3.45"/>
<circle cx="376.5" cy="83.6" r="3.45"/>
</g>
<g fill="#000" fill-opacity="0.8">
<circle cx="355.9" cy="71.3" r="3.45"/>
<circle cx="355.9" cy="78.9" r="3.45"/>
<circle cx="376" cy="70.6" r="3.45"/>
<circle cx="380.4" cy="71.3" r="3.45"/>
<circle cx="370.5" cy="77.4" r="3.45"/>
<circle cx="377.1" cy="81.1" r="3.45"/>
<circle cx="356.3" cy="87" r="3.45"/>
</g>
<g fill="#bebebe"><path d="M378.2 125.8L378.2 95.1L379 95.1L379.8 95.1L380.6 95.1L381.4 96.5L382.2 97.5L383 98.1L383.8 98.3L384.6 98.4L385.4 98.6L386.2 99.7L387 101L387.8 102.2L388.6 102.9L389.4 103.5L390.2 104.3L391 104.4L391.8 104.5L392.6 103.9L393.4 103.3L394.2 100.5L395 97.5L395.8 93.9L396.6 89.9L397.4 86.5L398.2 83.1L399 79.7L399.8 79.4L400.6 79.4L401.4 79.4L402 79.4L402 125.8Z"/>
</g>
<g fill="#bebebe" fill-opacity="0.8">
<circle cx="380.6" cy="95.2" r="3.45"/>
<circle cx="381.5" cy="97.1" r="3.45"/>
<circle cx="382.8" cy="98.4" r="3.45"/>
<circle cx="384.1" cy="98.5" r="3.45"/>
<circle cx="385.6" cy="99.3" r="3.45"/>
<circle cx="386.9" cy="100.9" r="3.45"/>
<circle cx="387.8" cy="102.2" r="3.45"/>
<circle cx="389.1" cy="103.4" r="3.45"/>
<circle cx="390.1" cy="104.7" r="3.45"/>
<circle cx="392.1" cy="104.5" r="3.45"/>
<circle cx="393.3" cy="103.8" r="3.45"/>
<circle cx="393.7" cy="102" r="3.45"/>
<circle cx="394.1" cy="100.3" r="3.45"/>
<circle cx="394.6" cy="98.9" r="3.45"/>
<circle cx="395.2" cy="97" r="3.45"/>
<circle cx="395.3" cy="95.4" r="3.45"/>
<circle cx="395.9" cy="93.7" r="3.45"/>
<circle cx="396.1" cy="92" r="3.45"/>
<circle cx="396.7" cy="90.6" r="3.45"/>
<circle cx="396.7" cy="88.6" r="3.45"/>
<circle cx="397.3" cy="87.3" r="3.45"/>
<circle cx="397.8" cy="85.3" r="3.45"/>
<circle cx="398" cy="84" r="3.45"/>
<circle cx="398.4" cy="82.1" r="3.45"/>
<circle cx="398.8" cy="80.9" r="3.45"/>
</g>
<g fill="#bebebe" fill-opacity="0.8">
<circle cx="380.8" cy="87" r="3.45"/>
<circle cx="384.8" cy="93.6" r="3.45"/>
<circle cx="395.7" cy="86.2" r="3.45"/>
<circle cx="399.7" cy="75.2" r="3.45"/>
</g>
<g fill="#000"><path d="M402 125.8L402 103.4L402.8 103.4L403.6 103.4L404.4 103.4L405.2 103.4L406 103.4L406.8 103.3L407.6 104.9L408.4 108.4L409.2 111.3L410 111.7L410.8 112.1L411.6 112L412.4 111.6L413.2 110.8L414 108.6L414.8 108.2L415.6 107.9L416.4 108.1L417.2 107.3L418 105.5L418.8 102.4L419.6 99.9L420.4 99.9L421.2 99.9L422 99.9L422 99.9L422 125.8Z"/>
</g>
<g fill="#000" fill-opacity="0.8">
<circle cx="404.4" cy="103.6" r="3.45"/>
<circle cx="406.3" cy="104" r="3.45"/>
<circle cx="407.2" cy="104.7" r="3.45"/>
<circle cx="407.9" cy="106.3" r="3.45"/>
<circle cx="408.1" cy="108.4" r="3.45"/>
<circle cx="408.6" cy="110" r="3.45"/>
<circle cx="409.1" cy="111.7" r="3.45"/>
<circle cx="410.5" cy="112.2" r="3.45"/>
<circle cx="412" cy="112.1" r="3.45"/>
<circle cx="413.3" cy="111" r="3.45"/>
<circle cx="413.7" cy="109.2" r="3.45"/>
<circle cx="415.3" cy="108.3" r="3.45"/>
<circle cx="416.8" cy="107.6" r="3.45"/>
<circle cx="417.8" cy="106.4" r="3.45"/>
<circle cx="418.1" cy="104.6" r="3.45"/>
<circle cx="418.9" cy="103.2" r="3.45"/>
<circle cx="419.1" cy="101.1" r="3.45"/>
</g>
<g fill="#000" fill-opacity="0.8">
<circle cx="406.7" cy="90.3" r="3.45"/>
<circle cx="418.1" cy="85.1" r="3.45"/>
<circle cx="418.7" cy="97.5" r="3.45"/>
<circle cx="405.6" cy="101.9" r="3.45"/>
<circle cx="418.3" cy="85.1" r="3.45"/>
<circle cx="418.3" cy="97.5" r="3.45"/>
</g>
<g fill="#bebebe"><path d="M422 125.8L422 85.8L422.8 85.8L423.6 85.8L424.4 85.8L425.2 83.8L426 82.1L426.8 80.9L427.6 80.9L428.4 80.7L429.2 87.2L430 96.3L430.8 100.3L431.6 101.1L432.4 101.6L433.2 102.9L434 104.5L434.8 105.5L435.6 106L436.4 106.2L437.2 106.2L438 106L438.8 105.1L439.6 102.1L440.4 98.9L441.2 96.1L442 93.2L442.8 92.5L443.6 92.5L444.4 92.5L444.6 92.5L444.6 125.8Z"/>
</g>
<g fill="#bebebe" fill-opacity="0.8">
<circle cx="424.4" cy="85.9" r="3.45"/>
<circle cx="425.2" cy="84.5" r="3.45"/>
<circle cx="425.9" cy="83.1" r="3.45"/>
<circle cx="426.6" cy="81.3" r="3.45"/>
<circle cx="428.2" cy="80.9" r="3.45"/>
<circle cx="428.6" cy="82.9" r="3.45"/>
<circle cx="429" cy="84.2" r="3.45"/>
<circle cx="428.9" cy="86" r="3.45"/>
<circle cx="429.2" cy="87.7" r="3.45"/>
<circle cx="429.2" cy="89.3" r="3.45"/>
<circle cx="429.6" cy="91.4" r="3.45"/>
<circle cx="429.5" cy="92.9" r="3.45"/>
<circle cx="429.9" cy="94.2" r="3.45"/>
<circle cx="430.1" cy="96" r="3.45"/>
<circle cx="430.2" cy="97.9" r="3.45"/>
<circle cx="430.4" cy="99.5" r="3.45"/>
<circle cx="431.2" cy="101.1" r="3.45"/>
<circle cx="432.6" cy="102.1" r="3.45"/>
<circle cx="433.3" cy="103.5" r="3.45"/>
<circle cx="434" cy="105.1" r="3.45"/>
<circle cx="435.5" cy="106" r="3.45"/>
<circle cx="437.2" cy="106.7" r="3.45"/>
<circle cx="438.6" cy="105.5" r="3.45"/>
<circle cx="439.1" cy="103.8" r="3.45"/>
<circle cx="439.5" cy="102.4" r="3.45"/>
<circle cx="439.8" cy="100.7" r="3.45"/>
<circle cx="440.4" cy="98.8" r="3.45"/>
<circle cx="440.9" cy="97.2" r="3.45"/>
<circle cx="441.4" cy="96" r="3.45"/>
<circle cx="441.8" cy="93.9" r="3.45"/>
</g>
<g fill="#bebebe" fill-opacity="0.8">
<circle cx="428.1" cy="75" r="3.45"/>
<circle cx="445.7" cy="62.1" r="3.45"/>
<circle cx="445.7" cy="68" r="3.45"/>
<circle cx="445.7" cy="76.7" r="3.45"/>
<circle cx="441.3" cy="86.2" r="3.45"/>
<circle cx="432.5" cy="98.6" r="3.45"/>
</g>
<g fill="#000"><path d="M444.6 125.8L444.6 89.8L445.4 89.8L446.2 89.8L447 89.8L447.8 87.9L448.6 86.9L449.4 85.7L450.2 83.8L451 80.9L451.8 77.7L452.6 77.6L453.4 77.6L454.2 82.1L455 89L455.8 94.6L456.6 98L457.4 100.5L458.2 102.1L459 102.9L459.8 102.7L460.6 103L461.4 102.1L462.2 100.7L463 96.1L463.8 91.8L464.6 89L465.4 90.4L466.2 92.3L467 93.5L467.8 94.3L468.6 94.3L469.4 94.3L469.7 94.3L469.7 125.8Z"/>
</g>
<g fill="#000" fill-opacity="0.8">
<circle cx="447" cy="89.8" r="3.45"/>
<circle cx="447.8" cy="88.8" r="3.45"/>
<circle cx="448.7" cy="87.3" r="3.45"/>
<circle cx="449.4" cy="86" r="3.45"/>
<circle cx="450.2" cy="84.4" r="3.45"/>
<circle cx="450.8" cy="82.3" r="3.45"/>
<circle cx="451.2" cy="81.1" r="3.45"/>
<circle cx="451.3" cy="79.1" r="3.45"/>
<circle cx="452.8" cy="77.8" r="3.45"/>
<circle cx="453.6" cy="79.4" r="3.45"/>
<circle cx="454" cy="81" r="3.45"/>
<circle cx="454.1" cy="83.1" r="3.45"/>
<circle cx="454.3" cy="84.4" r="3.45"/>
<circle cx="454.6" cy="86.1" r="3.45"/>
<circle cx="454.6" cy="87.8" r="3.45"/>
<circle cx="454.9" cy="89.9" r="3.45"/>
<circle cx="455.3" cy="91.6" r="3.45"/>
<circle cx="455.3" cy="93.2" r="3.45"/>
<circle cx="455.6" cy="94.7" r="3.45"/>
<circle cx="456.1" cy="96.3" r="3.45"/>
<circle cx="456.6" cy="98" r="3.45"/>
<circle cx="457" cy="99.9" r="3.45"/>
<circle cx="457.4" cy="101.5" r="3.45"/>
<circle cx="458.6" cy="102.5" r="3.45"/>
<circle cx="460.3" cy="103" r="3.45"/>
<circle cx="461.8" cy="102.3" r="3.45"/>
<circle cx="462.1" cy="100.8" r="3.45"/>
<circle cx="462.5" cy="98.8" r="3.45"/>
<circle cx="462.9" cy="97" r="3.45"/>
<circle cx="463.2" cy="95.5" r="3.45"/>
<circle cx="463.5" cy="94.3" r="3.45"/>
<circle cx="463.8" cy="92.4" r="3.45"/>
<circle cx="463.9" cy="90.3" r="3.45"/>
<circle cx="465.4" cy="91.1" r="3.45"/>
<circle cx="466.4" cy="92.8" r="3.45"/>
</g>
<g fill="#000" fill-opacity="0.8">
<circle cx="452.2" cy="71.9" r="3.45"/>
<circle cx="464.9" cy="81.6" r="3.45"/>
<circle cx="472.4" cy="81.1" r="3.45"/>
<circle cx="464.3" cy="87.7" r="3.45"/>
<circle cx="467.6" cy="92.1" r="3.45"/>
</g>
<g fill="#bebebe"><path d="M469.7 125.8L469.7 92.2L470.5 92.2L471.3 92.2L472.1 92.2L472.9 92.2L473.7 92L474.5 93.5L475.3 96L476.1 98.7L476.9 100.5L477.7 101.1L478.5 101.4L479.3 102.1L480.1 103.1L480.9 103.7L481.7 103.9L482.5 104L483.3 103.8L484.1 103.5L484.9 103.5L485.7 103.5L486.2 103.5L486.2 125.8Z"/>
</g>
<g fill="#bebebe" fill-opacity="0.8">
<circle cx="472.1" cy="92.4" r="3.45"/>
<circle cx="473.8" cy="91.9" r="3.45"/>
<circle cx="474.3" cy="93.7" r="3.45"/>
<circle cx="474.8" cy="95.3" r="3.45"/>
<circle cx="475.4" cy="97" r="3.45"/>
<circle cx="476" cy="98.4" r="3.45"/>
<circle cx="476.6" cy="100.2" r="3.45"/>
<circle cx="477.7" cy="101.6" r="3.45"/>
<circle cx="479.1" cy="102.1" r="3.45"/>
<circle cx="480.2" cy="103.7" r="3.45"/>
<circle cx="482.1" cy="104.4" r="3.45"/>
<circle cx="483.6" cy="103.8" r="3.45"/>
</g>
<g fill="#bebebe" fill-opacity="0.8">
<circle cx="473.7" cy="87" r="3.45"/>
<circle cx="474.1" cy="92.1" r="3.45"/>
<circle cx="487.3" cy="76.7" r="3.45"/>
</g>
<g fill="#000"><path d="M486.2 125.8L486.2 98.1L487 98.1L487.8 98.1L488.6 98.1L489.4 98.2L490.2 98.1L491 97.8L491.8 97.8L492.6 98.2L493.4 98.5L494.2 98.7L495 98.9L495.8 99.4L496.6 101.3L497.4 102.5L498.2 103.2L499 103.8L499.8 104.9L500.6 105.5L501.4 105.7L502.2 105.6L503 105.2L503.8 104.6L504.6 104.1L505.4 103.7L506.2 103L507 101.5L507.8 97.5L508.6 93.8L509.4 91.3L510.2 87.9L511 71.8L511.8 71.5L512.6 71.5L513.4 71.5L514.2 71.5L514.3 71.5L514.3 125.8Z"/>
</g>
<g fill="#000" fill-opacity="0.8">
<circle cx="488.6" cy="98.3" r="3.45"/>
<circle cx="490.3" cy="98.3" r="3.45"/>
<circle cx="492.2" cy="98.4" r="3.45"/>
<circle cx="493.5" cy="99" r="3.45"/>
<circle cx="495.1" cy="99.2" r="3.45"/>
<circle cx="496.1" cy="100.5" r="3.45"/>
<circle cx="496.7" cy="102.3" r="3.45"/>
<circle cx="497.9" cy="103.4" r="3.45"/>
<circle cx="499.5" cy="104.4" r="3.45"/>
<circle cx="500.4" cy="105.8" r="3.45"/>
<circle cx="502.2" cy="105.9" r="3.45"/>
<circle cx="503.8" cy="104.8" r="3.45"/>
<circle cx="505.1" cy="104" r="3.45"/>
<circle cx="506.3" cy="103.2" r="3.45"/>
<circle cx="507.1" cy="101.5" r="3.45"/>
<circle cx="507.2" cy="99.9" r="3.45"/>
<circle cx="507.8" cy="98" r="3.45"/>
<circle cx="508.1" cy="96.3" r="3.45"/>
<circle cx="508.3" cy="94.5" r="3.45"/>
<circle cx="508.8" cy="92.8" r="3.45"/>
<circle cx="509.3" cy="91.6" r="3.45"/>
<circle cx="509.9" cy="90" r="3.45"/>
<circle cx="510.2" cy="88" r="3.45"/>
<circle cx="510.2" cy="86.4" r="3.45"/>
<circle cx="510.4" cy="84.8" r="3.45"/>
<circle cx="510.3" cy="83.1" r="3.45"/>
<circle cx="510.6" cy="81.2" r="3.45"/>
<circle cx="510.6" cy="79.4" r="3.45"/>
<circle cx="510.4" cy="77.8" r="3.45"/>
<circle cx="510.7" cy="76.5" r="3.45"/>
<circle cx="510.8" cy="74.5" r="3.45"/>
<circle cx="510.9" cy="72.8" r="3.45"/>
</g>
<g fill="#000" fill-opacity="0.8">
<circle cx="491" cy="77.8" r="3.45"/>
<circle cx="491.6" cy="89.2" r="3.45"/>
<circle cx="498.2" cy="92.5" r="3.45"/>
<circle cx="505.2" cy="87.7" r="3.45"/>
<circle cx="501.9" cy="96.5" r="3.45"/>
<circle cx="511.4" cy="45.6" r="3.45"/>
<circle cx="511.8" cy="61.4" r="3.45"/>
<circle cx="511.4" cy="69.1" r="3.45"/>
<circle cx="511.4" cy="78.9" r="3.45"/>
<circle cx="515.3" cy="78.9" r="3.45"/>
</g>
<g fill="#bebebe"><path d="M514.2 125.8L514.2 96.9L515 96.9L515.8 96.9L516.6 96.9L517.4 96.7L518.2 96.3L519 95.6L519.8 98L520.6 100.2L521.4 101.6L522.2 103.4L523 105.4L523.8 107L524.6 108.1L525.4 109L526.2 110L527 110.8L527.8 111.3L528.6 111.5L529.4 111.4L530.2 111.1L531 110.1L531.8 107.7L532.6 106.4L533.4 105.2L534.2 103.2L535 100.7L535.8 97.2L536.6 92.1L537.4 86.8L538.2 86.7L539 86.7L539.8 86.7L539.8 86.7L539.8 125.8Z"/>
</g>
<g fill="#bebebe" fill-opacity="0.8">
<circle cx="516.6" cy="97.3" r="3.45"/>
<circle cx="518.3" cy="96.9" r="3.45"/>
<circle cx="519.5" cy="97.8" r="3.45"/>
<circle cx="520.2" cy="99.4" r="3.45"/>
<circle cx="520.7" cy="100.9" r="3.45"/>
<circle cx="521.6" cy="102.1" r="3.45"/>
<circle cx="522.1" cy="103.9" r="3.45"/>
<circle cx="522.7" cy="105.6" r="3.45"/>
<circle cx="523.5" cy="106.7" r="3.45"/>
<circle cx="524.4" cy="108.6" r="3.45"/>
<circle cx="525.6" cy="109.4" r="3.45"/>
<circle cx="526.6" cy="110.6" r="3.45"/>
<circle cx="528.4" cy="111.8" r="3.45"/>
<circle cx="530.1" cy="111.7" r="3.45"/>
<circle cx="530.7" cy="110.2" r="3.45"/>
<circle cx="531.5" cy="108.8" r="3.45"/>
<circle cx="532.5" cy="107.3" r="3.45"/>
<circle cx="533.1" cy="105.9" r="3.45"/>
<circle cx="534.2" cy="104.4" r="3.45"/>
<circle cx="534.4" cy="102.3" r="3.45"/>
<circle cx="534.9" cy="100.6" r="3.45"/>
<circle cx="535.6" cy="99.4" r="3.45"/>
<circle cx="535.8" cy="97.7" r="3.45"/>
<circle cx="536.1" cy="95.7" r="3.45"/>
<circle cx="536.2" cy="93.9" r="3.45"/>
<circle cx="536.7" cy="92.3" r="3.45"/>
<circle cx="536.8" cy="90.8" r="3.45"/>
<circle cx="536.9" cy="89" r="3.45"/>
<circle cx="537.2" cy="87.6" r="3.45"/>
</g>
<g fill="#bebebe" fill-opacity="0.8">
<circle cx="519" cy="92.1" r="3.45"/>
<circle cx="522.7" cy="98.6" r="3.45"/>
<circle cx="524.5" cy="105.2" r="3.45"/>
<circle cx="533.2" cy="98.6" r="3.45"/>
<circle cx="536.1" cy="73.5" r="3.45"/>
<circle cx="540.9" cy="71.9" r="3.45"/>
<circle cx="536.1" cy="80.7" r="3.45"/>
</g>
<g fill="#000"><path d="M539.4 125.8L539.4 102.8L540.2 102.8L541 102.8L541.8 102.8L542.6 95.8L543.4 88.2L544.2 87.6L545 88.4L545.8 97.7L546.6 104.6L547.4 105.5L548.2 106L549 106.7L549.8 107.3L550.6 107.6L551.4 107.7L552.2 108.6L553 109.7L553.8 110.3L554.6 110.4L555.4 110.4L556.2 109.9L557 109L557.8 107.7L558.6 106.6L559.4 105.4L560.2 105.4L561 105.4L561.8 105.4L561.8 105.4L561.8 125.8Z"/>
</g>
<g fill="#000" fill-opacity="0.8">
<circle cx="541.8" cy="103.1" r="3.45"/>
<circle cx="542.1" cy="101.5" r="3.45"/>
<circle cx="542" cy="99.7" r="3.45"/>
<circle cx="542.3" cy="98.2" r="3.45"/>
<circle cx="542.5" cy="96.5" r="3.45"/>
<circle cx="542.7" cy="94.5" r="3.45"/>
<circle cx="543" cy="92.8" r="3.45"/>
<circle cx="543.2" cy="91.1" r="3.45"/>
<circle cx="543.1" cy="89.4" r="3.45"/>
<circle cx="543.6" cy="88.2" r="3.45"/>
<circle cx="544.8" cy="88.8" r="3.45"/>
<circle cx="545.1" cy="90.7" r="3.45"/>
<circle cx="545.2" cy="92.2" r="3.45"/>
<circle cx="545.4" cy="94.1" r="3.45"/>
<circle cx="545.5" cy="95.9" r="3.45"/>
<circle cx="545.6" cy="97.1" r="3.45"/>
<circle cx="545.9" cy="99" r="3.45"/>
<circle cx="545.8" cy="100.8" r="3.45"/>
<circle cx="546" cy="102.5" r="3.45"/>
<circle cx="546.5" cy="104.2" r="3.45"/>
<circle cx="547.2" cy="105.5" r="3.45"/>
<circle cx="548.5" cy="106.5" r="3.45"/>
<circle cx="550.1" cy="107.3" r="3.45"/>
<circle cx="551.7" cy="107.7" r="3.45"/>
<circle cx="552.4" cy="109.2" r="3.45"/>
<circle cx="553.9" cy="110.5" r="3.45"/>
<circle cx="555.4" cy="110.8" r="3.45"/>
<circle cx="556.6" cy="109.5" r="3.45"/>
<circle cx="557.7" cy="108.3" r="3.45"/>
<circle cx="558.8" cy="106.8" r="3.45"/>
</g>
<g fill="#000" fill-opacity="0.8">
<circle cx="544.2" cy="81.6" r="3.45"/>
<circle cx="551.4" cy="87" r="3.45"/>
<circle cx="556.9" cy="89.9" r="3.45"/>
<circle cx="562.4" cy="91" r="3.45"/>
</g>
<g fill="#bebebe"><path d="M561.4 125.8L561.4 95.1L562.2 95.1L563 95.1L563.8 95.1L564.6 95.4L565.4 95.4L566.2 95.2L567 94.8L567.8 94L568.6 93.1L569.4 93L570.2 92.7L571 92.2L571.8 91.7L572.6 91.6L573.4 92.1L574.2 92.4L575 92.4L575.8 92.1L576.6 91.6L577.4 90.6L578.2 90.3L579 90.1L579.8 90.2L580.6 90.2L581.4 90L582.2 90.8L583 91.3L583.8 91.5L584.6 91.5L585.4 91.3L586.2 91.3L587 91.5L587.8 91.8L588.6 92.2L589.4 92.3L590.2 92.3L591 92L591.8 91.9L592.6 92.1L593.4 92.1L594.2 91.9L595 91.5L595.8 91.2L596.6 92.5L597.4 93.3L598.2 93.7L599 93.9L599.8 93.9L600.6 94.5L601.4 94.9L602.2 95.2L603 95.5L603.8 95.6L604.6 95.6L605.4 95.4L606.2 95.7L607 96.2L607.8 96.5L608.6 96.5L609.4 96.3L610.2 96.3L611 96.2L611.8 95.7L612.6 94L613.4 90.8L614.2 90.7L615 90.4L615.8 90.5L616.6 90.8L617.4 90.9L618.2 91.1L619 91.1L619.8 91L620.6 90.7L621.4 90.5L622.2 90.7L623 90.7L623.8 90.5L624.6 90.1L625.4 90.4L626.2 91.5L627 92.3L627.8 92.8L628.6 93L629.4 93.5L630.2 94.2L631 94.6L631.8 94.8L632.6 94.8L633.4 94.9L634.2 95.1L635 95.1L635.8 95L636.6 94.7L637.4 93.7L638.2 92.8L639 92L639.8 90.6L640.6 89.6L641.4 90L642.2 90.4L643 90.7L643.8 90.6L644.6 91.6L645.4 92.4L646.2 92.8L647 93L647.8 93L648.6 94L649.4 95.9L650.2 97.7L651 98.9L651.8 100.9L652.6 103.7L653.4 108.1L654.2 112.6L655 112.6L655.8 112.6L656.5 112.6L656.5 125.8Z"/>
</g>
<g fill="#bebebe" fill-opacity="0.8">
<circle cx="563.8" cy="95.6" r="3.45"/>
<circle cx="565.6" cy="95.8" r="3.45"/>
<circle cx="567" cy="95" r="3.45"/>
<circle cx="568.3" cy="93.8" r="3.45"/>
<circle cx="569.7" cy="93.2" r="3.45"/>
<circle cx="571.4" cy="92.1" r="3.45"/>
<circle cx="572.8" cy="92.1" r="3.45"/>
<circle cx="574.7" cy="92.9" r="3.45"/>
<circle cx="576.1" cy="92" r="3.45"/>
<circle cx="577.3" cy="90.8" r="3.45"/>
<circle cx="579" cy="90.2" r="3.45"/>
<circle cx="580.6" cy="90.3" r="3.45"/>
<circle cx="582.5" cy="91.3" r="3.45"/>
<circle cx="583.7" cy="92" r="3.45"/>
<circle cx="585.4" cy="91.4" r="3.45"/>
<circle cx="587.4" cy="91.9" r="3.45"/>
<circle cx="588.9" cy="92.4" r="3.45"/>
<circle cx="590.3" cy="92.5" r="3.45"/>
<circle cx="592" cy="92.2" r="3.45"/>
<circle cx="593.8" cy="92" r="3.45"/>
<circle cx="595.4" cy="91.8" r="3.45"/>
<circle cx="596.7" cy="92.8" r="3.45"/>
<circle cx="598" cy="93.9" r="3.45"/>
<circle cx="599.5" cy="94.2" r="3.45"/>
<circle cx="601" cy="95.2" r="3.45"/>
<circle cx="602.8" cy="95.6" r="3.45"/>
<circle cx="604.4" cy="96.1" r="3.45"/>
<circle cx="606" cy="95.7" r="3.45"/>
<circle cx="607.6" cy="96.9" r="3.45"/>
<circle cx="609.3" cy="96.8" r="3.45"/>
<circle cx="611.1" cy="96.7" r="3.45"/>
<circle cx="612.3" cy="95.5" r="3.45"/>
<circle cx="612.6" cy="93.9" r="3.45"/>
<circle cx="612.8" cy="92.1" r="3.45"/>
<circle cx="614.3" cy="91.1" r="3.45"/>
<circle cx="616" cy="90.7" r="3.45"/>
<circle cx="617.6" cy="91.2" r="3.45"/>
<circle cx="619.3" cy="91.3" r="3.45"/>
<circle cx="620.9" cy="91.1" r="3.45"/>
<circle cx="622.4" cy="91.1" r="3.45"/>
<circle cx="624.3" cy="90.6" r="3.45"/>
<circle cx="625.8" cy="91.4" r="3.45"/>
<circle cx="626.7" cy="92.5" r="3.45"/>
<circle cx="628.3" cy="93.5" r="3.45"/>
<circle cx="630" cy="94.2" r="3.45"/>
<circle cx="631.2" cy="95" r="3.45"/>
<circle cx="633.1" cy="95.2" r="3.45"/>
<circle cx="634.7" cy="95.5" r="3.45"/>
<circle cx="636.5" cy="95.2" r="3.45"/>
<circle cx="637.4" cy="94.1" r="3.45"/>
<circle cx="638.6" cy="92.8" r="3.45"/>
<circle cx="639.6" cy="91.4" r="3.45"/>
<circle cx="640.7" cy="90.3" r="3.45"/>
<circle cx="642.3" cy="90.5" r="3.45"/>
<circle cx="643.9" cy="91" r="3.45"/>
<circle cx="644.9" cy="92.3" r="3.45"/>
<circle cx="646.5" cy="93.3" r="3.45"/>
<circle cx="648.1" cy="93.6" r="3.45"/>
<circle cx="648.9" cy="95.3" r="3.45"/>
<circle cx="649.8" cy="96.8" r="3.45"/>
<circle cx="650.3" cy="98.5" r="3.45"/>
<circle cx="651.2" cy="99.6" r="3.45"/>
<circle cx="651.7" cy="101.5" r="3.45"/>
<circle cx="652.5" cy="103.1" r="3.45"/>
<circle cx="652.8" cy="104.7" r="3.45"/>
<circle cx="653" cy="106.6" r="3.45"/>
<circle cx="653.3" cy="108.1" r="3.45"/>
<circle cx="653.7" cy="109.9" r="3.45"/>
<circle cx="653.8" cy="111.2" r="3.45"/>
</g>
<g fill="#bebebe" fill-opacity="0.8">
<circle cx="565" cy="73.5" r="3.45"/>
<circle cx="568.6" cy="74.6" r="3.45"/>
<circle cx="576.7" cy="69.8" r="3.45"/>
<circle cx="584.2" cy="72.3" r="3.45"/>
<circle cx="589" cy="68.6" r="3.45"/>
<circle cx="601.6" cy="70.7" r="3.45"/>
<circle cx="606.4" cy="71.1" r="3.45"/>
<circle cx="574.3" cy="76.7" r="3.45"/>
<circle cx="579.1" cy="77.8" r="3.45"/>
<circle cx="591.1" cy="75.9" r="3.45"/>
<circle cx="590.6" cy="79.1" r="3.45"/>
<circle cx="572.3" cy="83.1" r="3.45"/>
<circle cx="579.1" cy="83.9" r="3.45"/>
<circle cx="570.3" cy="87.9" r="3.45"/>
<circle cx="595.9" cy="84.7" r="3.45"/>
<circle cx="588.7" cy="87.9" r="3.45"/>
<circle cx="607.7" cy="79.9" r="3.45"/>
<circle cx="605.1" cy="83.9" r="3.45"/>
<circle cx="613.6" cy="79.1" r="3.45"/>
<circle cx="618.4" cy="79.9" r="3.45"/>
<circle cx="624.9" cy="77.8" r="3.45"/>
<circle cx="629.7" cy="78.3" r="3.45"/>
<circle cx="632.1" cy="76.2" r="3.45"/>
<circle cx="636.6" cy="80.4" r="3.45"/>
<circle cx="643.3" cy="78.8" r="3.45"/>
<circle cx="643" cy="84.7" r="3.45"/>
<circle cx="639.3" cy="87.1" r="3.45"/>
<circle cx="648.9" cy="90" r="3.45"/>
<circle cx="651.4" cy="97.6" r="3.45"/>
<circle cx="653.3" cy="108" r="3.45"/>
<circle cx="623.2" cy="85.5" r="3.45"/>
<circle cx="616.8" cy="84.7" r="3.45"/>
<circle cx="610.4" cy="87.9" r="3.45"/>
<circle cx="625.7" cy="89.5" r="3.45"/>
<circle cx="566.2" cy="91.1" r="3.45"/>
<circle cx="566" cy="94.5" r="3.45"/>
<circle cx="568.8" cy="90.1" r="3.45"/>
<circle cx="570.8" cy="90.9" r="3.45"/>
<circle cx="572.8" cy="91.6" r="3.45"/>
<circle cx="575.9" cy="90.5" r="3.45"/>
<circle cx="578.4" cy="88.5" r="3.45"/>
<circle cx="581.6" cy="88.5" r="3.45"/>
<circle cx="585.3" cy="90.8" r="3.45"/>
<circle cx="588.6" cy="88.9" r="3.45"/>
<circle cx="590.2" cy="89.9" r="3.45"/>
<circle cx="590.1" cy="88.6" r="3.45"/>
<circle cx="593.4" cy="91.2" r="3.45"/>
<circle cx="595.1" cy="88.4" r="3.45"/>
<circle cx="597.2" cy="90.4" r="3.45"/>
<circle cx="600.3" cy="91.5" r="3.45"/>
<circle cx="604.2" cy="93.1" r="3.45"/>
<circle cx="607.5" cy="93.2" r="3.45"/>
<circle cx="609.2" cy="94.4" r="3.45"/>
<circle cx="611.7" cy="92.5" r="3.45"/>
<circle cx="614" cy="89.4" r="3.45"/>
<circle cx="616.2" cy="90" r="3.45"/>
<circle cx="617.9" cy="89.2" r="3.45"/>
<circle cx="621.2" cy="87.3" r="3.45"/>
<circle cx="623.3" cy="88.9" r="3.45"/>
<circle cx="625.6" cy="87.3" r="3.45"/>
<circle cx="627.4" cy="89.3" r="3.45"/>
<circle cx="629.5" cy="90.9" r="3.45"/>
<circle cx="631" cy="91.9" r="3.45"/>
<circle cx="633.8" cy="91.7" r="3.45"/>
<circle cx="636.6" cy="91.5" r="3.45"/>
<circle cx="638.6" cy="90.4" r="3.45"/>
<circle cx="641.1" cy="88" r="3.45"/>
<circle cx="642.9" cy="87.8" r="3.45"/>
<circle cx="644.6" cy="90" r="3.45"/>
<circle cx="648" cy="91.6" r="3.45"/>
<circle cx="650.3" cy="96.2" r="3.45"/>
</g>
<rect x="153.8" y="27.5" width="7.3" height="97.3" fill="#ffa500" fill-opacity="0.5"/>
<rect x="154.0" y="27.5" width="4.9" height="97.3" fill="#ffa500" fill-opacity="0.5"/>
<rect x="255.0" y="27.5" width="5.4" height="97.3" fill="#ffa500" fill-opacity="0.5"/>
<rect x="397.0" y="27.5" width="5.4" height="97.3" fill="#ffa500" fill-opacity="0.5"/>
<rect x="401.2" y="27.5" width="5.7" height="97.3" fill="#ffa500" fill-opacity="0.5"/>
<rect x="508.7" y="27.5" width="5.6" height="97.3" fill="#ffa500" fill-opacity="0.5"/>
<path d="M66 65.95H653.7" stroke="#222" stroke-width="1.4"/>
</g>
<g font-family="Liberation Sans, Arial, sans-serif" font-size="10.7" fill="#484848" text-anchor="end">
<path d="M33.3 124.70H37.9" stroke="#333" stroke-width="1.2"/>
<text x="30.4" y="129.00">0</text>
<path d="M33.3 103.20H37.9" stroke="#333" stroke-width="1.2"/>
<text x="30.4" y="107.50">1</text>
<path d="M33.3 81.70H37.9" stroke="#333" stroke-width="1.2"/>
<text x="30.4" y="86.00">2</text>
<path d="M33.3 60.20H37.9" stroke="#333" stroke-width="1.2"/>
<text x="30.4" y="64.50">3</text>
<path d="M33.3 38.70H37.9" stroke="#333" stroke-width="1.2"/>
<text x="30.4" y="43.00">4</text>
</g>
<text x="682.8" y="15.9" font-family="Liberation Sans, Arial, sans-serif" font-size="18.7" fill="#000" text-anchor="end">2016</text>
<g clip-path="url(#c1)">
<path d="M37.8 255.15H683" stroke="#f0f0f0" stroke-width="0.8"/>
<path d="M37.8 232.25H683" stroke="#f0f0f0" stroke-width="0.8"/>
<path d="M37.8 209.35H683" stroke="#f0f0f0" stroke-width="0.8"/>
<path d="M37.8 186.45H683" stroke="#f0f0f0" stroke-width="0.8"/>
<path d="M37.8 266.60H683" stroke="#e8e8e8" stroke-width="1.4"/>
<path d="M37.8 243.70H683" stroke="#e8e8e8" stroke-width="1.4"/>
<path d="M37.8 220.80H683" stroke="#e8e8e8" stroke-width="1.4"/>
<path d="M37.8 197.90H683" stroke="#e8e8e8" stroke-width="1.4"/>
<path d="M37.8 175.00H683" stroke="#e8e8e8" stroke-width="1.4"/>
<g fill="#000"><path d="M63.3 267.7L63.3 251.6L64.1 251.6L64.9 251.6L65.7 251.6L66.5 251.3L67.3 251L68.1 250.7L68.9 250.9L69.7 251.5L70.5 251.9L71.3 252L72.1 252L72.9 252L73.7 251.7L74.5 251.1L75.3 250.5L76.1 249.7L76.9 249.4L77.7 249L78.5 249.9L79.3 250.5L80.1 251L80.9 251.2L81.7 251.2L82.5 251.2L83.3 251.2L84.1 251.2L84.2 251.2L84.2 267.7Z"/>
</g>
<g fill="#000" fill-opacity="0.8">
<circle cx="65.7" cy="252.1" r="3.45"/>
<circle cx="67.2" cy="251.2" r="3.45"/>
<circle cx="68.9" cy="251.4" r="3.45"/>
<circle cx="70.6" cy="252.3" r="3.45"/>
<circle cx="72" cy="252.4" r="3.45"/>
<circle cx="74" cy="251.9" r="3.45"/>
<circle cx="75" cy="250.7" r="3.45"/>
<circle cx="76.4" cy="249.7" r="3.45"/>
<circle cx="78.5" cy="250.1" r="3.45"/>
<circle cx="79.8" cy="251.2" r="3.45"/>
<circle cx="81.5" cy="251.6" r="3.45"/>
</g>
<g fill="#000" fill-opacity="0.8">
<circle cx="68.6" cy="232.2" r="3.45"/>
<circle cx="87.4" cy="242.7" r="3.45"/>
<circle cx="76.9" cy="247.8" r="3.45"/>
</g>
<g fill="#bebebe"><path d="M84.1 267.7L84.1 254.3L84.9 254.3L85.7 254.3L86.5 254.3L87.3 253.4L88.1 251.8L88.9 249.9L89.7 250.9L90.5 251.5L91.3 252.7L92.1 254.5L92.9 255.5L93.7 256L94.5 256.2L95.3 256L96.1 255.7L96.9 255L97.7 254.6L98.5 255L99.3 255.5L100.1 255.6L100.9 255.5L101.7 255.2L102.5 254.7L103.3 253.5L104.1 253.3L104.9 252.8L105.7 252L106.5 251.2L107.3 251.2L108.1 251.2L108.7 251.2L108.7 267.7Z"/>
</g>
<g fill="#bebebe" fill-opacity="0.8">
<circle cx="86.5" cy="254.7" r="3.45"/>
<circle cx="87.6" cy="253.1" r="3.45"/>
<circle cx="88.3" cy="251.7" r="3.45"/>
<circle cx="90" cy="251.1" r="3.45"/>
<circle cx="91" cy="252.3" r="3.45"/>
<circle cx="91.9" cy="254.4" r="3.45"/>
<circle cx="92.7" cy="255.5" r="3.45"/>
<circle cx="94.3" cy="256.5" r="3.45"/>
<circle cx="95.9" cy="256" r="3.45"/>
<circle cx="97.1" cy="255" r="3.45"/>
<circle cx="98.8" cy="255.5" r="3.45"/>
<circle cx="100.6" cy="256.2" r="3.45"/>
<circle cx="101.9" cy="255.4" r="3.45"/>
<circle cx="103" cy="253.8" r="3.45"/>
<circle cx="104.8" cy="253.3" r="3.45"/>
<circle cx="106.1" cy="252" r="3.45"/>
</g>
<g fill="#bebebe" fill-opacity="0.8">
<circle cx="99.5" cy="223" r="3.45"/>
<circle cx="110.4" cy="231.1" r="3.45"/>
<circle cx="109.7" cy="240.5" r="3.45"/>
<circle cx="90" cy="247.1" r="3.45"/>
<circle cx="105.8" cy="248.2" r="3.45"/>
</g>
<g fill="#000"><path d="M108.7 267.7L108.7 251L109.5 251L110.3 251L111.1 251L111.9 251.3L112.7 251.4L113.5 251.3L114.3 254L115.1 257.1L115.9 258.7L116.7 259.2L117.5 259.3L118.3 259.2L119.1 258.8L119.9 258.3L120.7 258.2L121.5 258.3L122.3 258.3L123.1 257.9L123.9 257.1L124.7 257.1L125.5 257.1L126.3 257.1L126.3 257.1L126.3 267.7Z"/>
</g>
<g fill="#000" fill-opacity="0.8">
<circle cx="111.1" cy="251.6" r="3.45"/>
<circle cx="113" cy="251.7" r="3.45"/>
<circle cx="113.7" cy="252.8" r="3.45"/>
<circle cx="114.4" cy="254.5" r="3.45"/>
<circle cx="114.7" cy="256" r="3.45"/>
<circle cx="115" cy="258.1" r="3.45"/>
<circle cx="116.1" cy="259.6" r="3.45"/>
<circle cx="117.8" cy="259.8" r="3.45"/>
<circle cx="119.3" cy="258.6" r="3.45"/>
<circle cx="121.3" cy="258.5" r="3.45"/>
<circle cx="122.9" cy="258.2" r="3.45"/>
</g>
<g fill="#000" fill-opacity="0.8">
<circle cx="112.4" cy="240.1" r="3.45"/>
<circle cx="127.9" cy="229.6" r="3.45"/>
<circle cx="112.4" cy="248.2" r="3.45"/>
<circle cx="124.6" cy="250" r="3.45"/>
</g>
<g fill="#bebebe"><path d="M126.3 267.7L126.3 253L127.1 253L127.9 253L128.7 253L129.5 252.2L130.3 251.6L131.1 251.5L131.9 251.1L132.7 250.6L133.5 250.7L134.3 251.7L135.1 252.3L135.9 252.6L136.7 252.6L137.5 252.4L138.3 251.9L139.1 251.4L139.9 251.1L140.7 250.8L141.5 250.3L142.3 250.1L143.1 249.7L143.9 249.1L144.7 249.3L145.5 249.4L146.3 249.2L147.1 248.8L147.9 248.2L148.7 247.6L149.5 248.5L150.3 249L151.1 249.3L151.9 249.3L152.7 249.3L153.5 249.3L154 249.3L154 267.7Z"/>
</g>
<g fill="#bebebe" fill-opacity="0.8">
<circle cx="128.7" cy="253.6" r="3.45"/>
<circle cx="129.9" cy="251.8" r="3.45"/>
<circle cx="131.5" cy="251.8" r="3.45"/>
<circle cx="133" cy="251.2" r="3.45"/>
<circle cx="134.3" cy="252.3" r="3.45"/>
<circle cx="135.9" cy="252.5" r="3.45"/>
<circle cx="137.3" cy="252.7" r="3.45"/>
<circle cx="139.2" cy="251.5" r="3.45"/>
<circle cx="140.5" cy="251.2" r="3.45"/>
<circle cx="142" cy="250.7" r="3.45"/>
<circle cx="143.6" cy="249.4" r="3.45"/>
<circle cx="145.3" cy="249.7" r="3.45"/>
<circle cx="146.9" cy="249.3" r="3.45"/>
<circle cx="148.1" cy="248.3" r="3.45"/>
<circle cx="149.7" cy="249.1" r="3.45"/>
<circle cx="151.4" cy="249.5" r="3.45"/>
</g>
<g fill="#bebebe" fill-opacity="0.8">
<circle cx="131" cy="240.5" r="3.45"/>
<circle cx="148.1" cy="244.9" r="3.45"/>
<circle cx="142.6" cy="247.1" r="3.45"/>
<circle cx="132.7" cy="248.6" r="3.45"/>
</g>
<g fill="#000"><path d="M154 267.7L154 250.4L154.8 250.4L155.6 250.4L156.4 250.4L157.2 250.1L158 249.9L158.8 250.1L159.6 250.1L160.4 249.9L161.2 249.4L162 248.6L162.8 248.3L163.6 248.2L164.4 249.3L165.2 253.3L166 256.4L166.8 257.4L167.6 258L168.4 258.3L169.2 258.5L170 259.2L170.8 259.4L171.6 259.4L172.4 259.1L173.2 258.6L174 257.9L174.8 257.1L175.6 256.2L176.4 255L177.2 253.5L178 251.6L178.8 250.2L179.6 249.7L180.4 249.8L181.2 250L182 250L182.8 250L183.3 250L183.3 267.7Z"/>
</g>
<g fill="#000" fill-opacity="0.8">
<circle cx="156.4" cy="250.9" r="3.45"/>
<circle cx="158.1" cy="250.2" r="3.45"/>
<circle cx="159.6" cy="250.6" r="3.45"/>
<circle cx="161.3" cy="249.8" r="3.45"/>
<circle cx="162.6" cy="248.7" r="3.45"/>
<circle cx="164.3" cy="249.7" r="3.45"/>
<circle cx="164.7" cy="251" r="3.45"/>
<circle cx="165" cy="253" r="3.45"/>
<circle cx="165.3" cy="254.6" r="3.45"/>
<circle cx="165.8" cy="256.4" r="3.45"/>
<circle cx="166.8" cy="257.4" r="3.45"/>
<circle cx="167.9" cy="258.3" r="3.45"/>
<circle cx="169.6" cy="259.3" r="3.45"/>
<circle cx="171.4" cy="259.9" r="3.45"/>
<circle cx="172.7" cy="259.3" r="3.45"/>
<circle cx="174.2" cy="258.2" r="3.45"/>
<circle cx="175.4" cy="256.7" r="3.45"/>
<circle cx="176.5" cy="255.6" r="3.45"/>
<circle cx="177.2" cy="254.2" r="3.45"/>
<circle cx="177.7" cy="252.1" r="3.45"/>
<circle cx="178.6" cy="251" r="3.45"/>
<circle cx="180" cy="250.3" r="3.45"/>
</g>
<g fill="#000" fill-opacity="0.8">
<circle cx="157.5" cy="233.5" r="3.45"/>
<circle cx="163.4" cy="246.5" r="3.45"/>
<circle cx="173.2" cy="250" r="3.45"/>
<circle cx="179.8" cy="248.2" r="3.45"/>
</g>
<g fill="#bebebe"><path d="M182.8 267.7L182.8 252L183.6 252L184.4 252L185.2 252L186 251.8L186.8 251.7L187.6 252.7L188.4 254.5L189.2 255.6L190 256.6L190.8 258.2L191.6 258.9L192.4 259.3L193.2 259.4L194 259.3L194.8 258.9L195.6 258.3L196.4 257.4L197.2 256.5L198 257L198.8 257.5L199.6 257.4L200.4 257.4L201.2 258.8L202 259.3L202.8 259.8L203.6 259.7L204.4 259.7L205.2 259.7L205.7 259.7L205.7 267.7Z"/>
</g>
<g fill="#bebebe" fill-opacity="0.8">
<circle cx="185.2" cy="252.4" r="3.45"/>
<circle cx="186.9" cy="251.8" r="3.45"/>
<circle cx="187.7" cy="253.6" r="3.45"/>
<circle cx="188.7" cy="255" r="3.45"/>
<circle cx="189.4" cy="256.5" r="3.45"/>
<circle cx="190.5" cy="257.7" r="3.45"/>
<circle cx="191.5" cy="259.3" r="3.45"/>
<circle cx="193.3" cy="259.7" r="3.45"/>
<circle cx="194.7" cy="259.3" r="3.45"/>
<circle cx="195.9" cy="257.9" r="3.45"/>
<circle cx="197" cy="257" r="3.45"/>
<circle cx="198.6" cy="257.7" r="3.45"/>
<circle cx="200.3" cy="257.7" r="3.45"/>
<circle cx="201.1" cy="258.9" r="3.45"/>
<circle cx="202.9" cy="259.9" r="3.45"/>
</g>
<g fill="#bebebe" fill-opacity="0.8">
<circle cx="199.1" cy="248.6" r="3.45"/>
<circle cx="186.4" cy="249.3" r="3.45"/>
<circle cx="199.5" cy="248.9" r="3.45"/>
</g>
<g fill="#000"><path d="M205.7 267.7L205.7 255.4L206.5 255.4L207.3 255.4L208.1 255.4L208.9 255.3L209.7 255L210.5 254.4L211.3 254.1L212.1 254.4L212.9 254.8L213.7 254.9L214.5 254.8L215.3 255.2L216.1 256L216.9 256.5L217.7 257L218.5 257.4L219.3 257.6L220.1 257.6L220.9 257.5L221.7 257.5L222.5 257L223.3 256.6L224.1 256.2L224.9 255.4L225.7 254.1L226.5 252.8L227.3 252.3L228.1 251.5L228.9 250.9L229.7 250.3L230.5 250L231.3 250L232.1 250L232.4 250L232.4 267.7Z"/>
</g>
<g fill="#000" fill-opacity="0.8">
<circle cx="208.1" cy="255.5" r="3.45"/>
<circle cx="209.7" cy="255.1" r="3.45"/>
<circle cx="211.2" cy="254.1" r="3.45"/>
<circle cx="212.6" cy="255.3" r="3.45"/>
<circle cx="214.6" cy="255.1" r="3.45"/>
<circle cx="215.9" cy="256" r="3.45"/>
<circle cx="217.4" cy="257" r="3.45"/>
<circle cx="219" cy="257.9" r="3.45"/>
<circle cx="220.6" cy="258.1" r="3.45"/>
<circle cx="222" cy="257.2" r="3.45"/>
<circle cx="223.6" cy="256.5" r="3.45"/>
<circle cx="224.7" cy="255.3" r="3.45"/>
<circle cx="225.8" cy="254.3" r="3.45"/>
<circle cx="227" cy="253.1" r="3.45"/>
<circle cx="228.4" cy="251.4" r="3.45"/>
<circle cx="229.6" cy="250.6" r="3.45"/>
</g>
<g fill="#000" fill-opacity="0.8">
<circle cx="210.5" cy="241.2" r="3.45"/>
<circle cx="215.5" cy="243.8" r="3.45"/>
<circle cx="235.2" cy="233.3" r="3.45"/>
<circle cx="233.7" cy="238.4" r="3.45"/>
<circle cx="232.4" cy="242.7" r="3.45"/>
<circle cx="228.2" cy="248.2" r="3.45"/>
<circle cx="224.9" cy="253.2" r="3.45"/>
</g>
<g fill="#bebebe"><path d="M232.4 267.7L232.4 250.2L233.2 250.2L234 250.2L234.8 250.2L235.6 249L236.4 247.2L237.2 246.3L238 246.7L238.8 247.5L239.6 249.4L240.4 251L241.2 251.8L242 252.3L242.8 252.9L243.6 254.1L244.4 254.8L245.2 255.4L246 256.4L246.8 257.1L247.6 257.5L248.4 257.6L249.2 257.4L250 257L250.8 255.7L251.6 254.5L252.4 254.1L253.2 253.3L254 251.9L254.8 249.9L255.6 248.1L256.4 246.6L257.2 246.7L258 246.6L258.8 246.2L259.6 246.1L260.4 246.1L261.2 246.1L261.3 246.1L261.3 267.7Z"/>
</g>
<g fill="#bebebe" fill-opacity="0.8">
<circle cx="234.8" cy="250.5" r="3.45"/>
<circle cx="235.7" cy="249.3" r="3.45"/>
<circle cx="236.4" cy="247.4" r="3.45"/>
<circle cx="238" cy="247" r="3.45"/>
<circle cx="239.2" cy="248.9" r="3.45"/>
<circle cx="239.6" cy="249.8" r="3.45"/>
<circle cx="240.5" cy="251.5" r="3.45"/>
<circle cx="242.1" cy="252.9" r="3.45"/>
<circle cx="243.3" cy="253.6" r="3.45"/>
<circle cx="244.4" cy="255.2" r="3.45"/>
<circle cx="245.6" cy="256.5" r="3.45"/>
<circle cx="246.6" cy="257.2" r="3.45"/>
<circle cx="248.6" cy="258.1" r="3.45"/>
<circle cx="250" cy="257" r="3.45"/>
<circle cx="250.9" cy="255.8" r="3.45"/>
<circle cx="252" cy="254.4" r="3.45"/>
<circle cx="253.3" cy="253.1" r="3.45"/>
<circle cx="254.1" cy="251.6" r="3.45"/>
<circle cx="254.6" cy="250" r="3.45"/>
<circle cx="255.5" cy="248.4" r="3.45"/>
<circle cx="256.3" cy="247" r="3.45"/>
<circle cx="257.7" cy="247.1" r="3.45"/>
</g>
<g fill="#bebebe" fill-opacity="0.8">
<circle cx="237" cy="243.4" r="3.45"/>
<circle cx="254.9" cy="234" r="3.45"/>
<circle cx="254.3" cy="247.1" r="3.45"/>
</g>
<g fill="#000"><path d="M261.3 267.7L261.3 252.3L262.1 252.3L262.9 252.3L263.7 252.3L264.5 252L265.3 252.5L266.1 253.1L266.9 253.5L267.7 254L268.5 255.2L269.3 255.9L270.1 256.2L270.9 256.3L271.7 257L272.5 258L273.3 259.4L274.1 260.6L274.9 261.1L275.7 261.3L276.5 261.2L277.3 260.8L278.1 260L278.9 258.8L279.7 257.4L280.5 257L281.3 256.3L282.1 255.5L282.9 255.5L283.7 255.5L284.5 255.5L284.5 255.5L284.5 267.7Z"/>
</g>
<g fill="#000" fill-opacity="0.8">
<circle cx="263.7" cy="252.8" r="3.45"/>
<circle cx="265.2" cy="252.9" r="3.45"/>
<circle cx="266.7" cy="254" r="3.45"/>
<circle cx="268.2" cy="255" r="3.45"/>
<circle cx="269.3" cy="256.1" r="3.45"/>
<circle cx="271.1" cy="256.6" r="3.45"/>
<circle cx="272.2" cy="257.6" r="3.45"/>
<circle cx="272.9" cy="259" r="3.45"/>
<circle cx="274" cy="260.7" r="3.45"/>
<circle cx="275.3" cy="261.8" r="3.45"/>
<circle cx="277" cy="261.2" r="3.45"/>
<circle cx="278.1" cy="259.9" r="3.45"/>
<circle cx="279.3" cy="258.4" r="3.45"/>
<circle cx="280.3" cy="257.4" r="3.45"/>
<circle cx="281.6" cy="256.5" r="3.45"/>
</g>
<g fill="#000" fill-opacity="0.8">
<circle cx="265.4" cy="250" r="3.45"/>
<circle cx="270.7" cy="254.1" r="3.45"/>
<circle cx="281.6" cy="254.3" r="3.45"/>
</g>
<g fill="#bebebe"><path d="M284.5 267.7L284.5 250.6L285.3 250.6L286.1 250.6L286.9 250.6L287.7 249.9L288.5 249.2L289.3 249.5L290.1 250L290.9 250.2L291.7 250.6L292.5 258.3L293.3 263.3L294.1 264.2L294.9 264.2L295.7 264.3L296.5 263.8L297.3 262.8L298.1 261.4L298.9 260.2L299.7 260.6L300.5 261.1L301.3 261.5L302.1 261.5L302.9 261.4L303.7 260.9L304.5 259.6L305.3 257.8L306.1 255.9L306.9 255.3L307.7 255L308.5 255L309.3 255L309.8 255L309.8 267.7Z"/>
</g>
<g fill="#bebebe" fill-opacity="0.8">
<circle cx="286.9" cy="251.2" r="3.45"/>
<circle cx="288.2" cy="249.6" r="3.45"/>
<circle cx="289.8" cy="250" r="3.45"/>
<circle cx="291.3" cy="250.4" r="3.45"/>
<circle cx="291.7" cy="252.6" r="3.45"/>
<circle cx="292.3" cy="254.2" r="3.45"/>
<circle cx="292.1" cy="255.5" r="3.45"/>
<circle cx="292.5" cy="257.1" r="3.45"/>
<circle cx="292.6" cy="258.9" r="3.45"/>
<circle cx="292.8" cy="260.5" r="3.45"/>
<circle cx="293" cy="262.3" r="3.45"/>
<circle cx="293.5" cy="263.6" r="3.45"/>
<circle cx="295.3" cy="264.6" r="3.45"/>
<circle cx="296.6" cy="263.8" r="3.45"/>
<circle cx="297.9" cy="262.2" r="3.45"/>
<circle cx="298.5" cy="260.7" r="3.45"/>
<circle cx="300" cy="261.4" r="3.45"/>
<circle cx="301.8" cy="261.7" r="3.45"/>
<circle cx="303.1" cy="261.1" r="3.45"/>
<circle cx="304.4" cy="260" r="3.45"/>
<circle cx="305" cy="258.3" r="3.45"/>
<circle cx="305.8" cy="257.1" r="3.45"/>
<circle cx="307" cy="255.7" r="3.45"/>
</g>
<g fill="#bebebe" fill-opacity="0.8">
<circle cx="287.1" cy="245.6" r="3.45"/>
<circle cx="313" cy="232.4" r="3.45"/>
<circle cx="307.5" cy="250.4" r="3.45"/>
<circle cx="302" cy="257" r="3.45"/>
<circle cx="311.4" cy="244.9" r="3.45"/>
</g>
<g fill="#000"><path d="M309.8 267.7L309.8 254.6L310.6 254.6L311.4 254.6L312.2 254.6L313 254.3L313.8 254.1L314.6 253.7L315.4 253.2L316.2 254L317 255.3L317.8 256.1L318.6 256.5L319.4 256.7L320.2 257.1L321 257.4L321.8 257.4L322.6 257.7L323.4 258.1L324.2 258.3L325 258.3L325.8 258.1L326.6 257.6L327.4 256.9L328.2 256.2L329 255.8L329.8 255.1L330.6 254.7L331.4 254.5L332.2 255L333 255.2L333.8 255.2L334.6 255.2L335.4 255.2L335.6 255.2L335.6 267.7Z"/>
</g>
<g fill="#000" fill-opacity="0.8">
<circle cx="312.2" cy="254.9" r="3.45"/>
<circle cx="313.9" cy="254.1" r="3.45"/>
<circle cx="315.5" cy="253.5" r="3.45"/>
<circle cx="316.6" cy="255.1" r="3.45"/>
<circle cx="317.5" cy="255.9" r="3.45"/>
<circle cx="319.3" cy="256.9" r="3.45"/>
<circle cx="320.8" cy="257.4" r="3.45"/>
<circle cx="322.2" cy="258" r="3.45"/>
<circle cx="323.8" cy="258.3" r="3.45"/>
<circle cx="325.5" cy="258.5" r="3.45"/>
<circle cx="326.8" cy="257.6" r="3.45"/>
<circle cx="328.3" cy="256.5" r="3.45"/>
<circle cx="329.5" cy="255.6" r="3.45"/>
<circle cx="331.4" cy="255" r="3.45"/>
<circle cx="332.7" cy="255.7" r="3.45"/>
</g>
<g fill="#000" fill-opacity="0.8">
<circle cx="313.6" cy="241" r="3.45"/>
<circle cx="334.9" cy="226.3" r="3.45"/>
<circle cx="335.5" cy="250.8" r="3.45"/>
<circle cx="316.9" cy="251.1" r="3.45"/>
</g>
<g fill="#bebebe"><path d="M335.5 267.7L335.5 252.8L336.3 252.8L337.1 252.8L337.9 252.8L338.7 251.5L339.5 250.8L340.3 252.6L341.1 253.8L341.9 254.6L342.7 255.1L343.5 255.1L344.3 255.3L345.1 256.4L345.9 257.4L346.7 257.9L347.5 258L348.3 257.9L349.1 257.5L349.9 256.8L350.7 256.7L351.5 256.7L352.3 256.7L352.4 256.7L352.4 267.7Z"/>
</g>
<g fill="#bebebe" fill-opacity="0.8">
<circle cx="337.9" cy="253.3" r="3.45"/>
<circle cx="339" cy="251.6" r="3.45"/>
<circle cx="340.1" cy="252.8" r="3.45"/>
<circle cx="341.1" cy="253.8" r="3.45"/>
<circle cx="342.6" cy="255" r="3.45"/>
<circle cx="344" cy="255.3" r="3.45"/>
<circle cx="345.1" cy="257.1" r="3.45"/>
<circle cx="346.2" cy="257.8" r="3.45"/>
<circle cx="348.2" cy="258.1" r="3.45"/>
<circle cx="349.4" cy="257.5" r="3.45"/>
</g>
<g fill="#bebebe" fill-opacity="0.8">
<circle cx="339.5" cy="245.6" r="3.45"/>
</g>
<g fill="#000"><path d="M352.4 267.7L352.4 246.9L353.2 246.9L354 246.9L354.8 246.9L355.6 246.8L356.4 247.1L357.2 249.1L358 251.9L358.8 254L359.6 254.8L360.4 255L361.2 255.1L362 254.7L362.8 254L363.6 252.7L364.4 251.4L365.2 250.8L366 250.8L366.8 250.7L367.6 250.5L368.4 250L369.2 250.3L370 250.3L370.8 250.1L371.6 249.7L372.4 248.8L373.2 247.9L374 247.2L374.8 247.5L375.6 247.6L376.4 247.6L377.2 247.6L378 247.6L378.2 247.6L378.2 267.7Z"/>
</g>
<g fill="#000" fill-opacity="0.8">
<circle cx="354.8" cy="246.9" r="3.45"/>
<circle cx="356.5" cy="247.9" r="3.45"/>
<circle cx="356.9" cy="249.1" r="3.45"/>
<circle cx="357.6" cy="250.9" r="3.45"/>
<circle cx="358" cy="252.3" r="3.45"/>
<circle cx="358.7" cy="253.9" r="3.45"/>
<circle cx="360.1" cy="255.4" r="3.45"/>
<circle cx="361.6" cy="255.1" r="3.45"/>
<circle cx="363.1" cy="253.7" r="3.45"/>
<circle cx="364" cy="252.7" r="3.45"/>
<circle cx="365" cy="251.2" r="3.45"/>
<circle cx="366.9" cy="251" r="3.45"/>
<circle cx="368.3" cy="250.6" r="3.45"/>
<circle cx="370.1" cy="250.5" r="3.45"/>
<circle cx="371.5" cy="249.8" r="3.45"/>
<circle cx="372.7" cy="248.9" r="3.45"/>
<circle cx="374.2" cy="247.9" r="3.45"/>
</g>
<g fill="#000" fill-opacity="0.8">
<circle cx="355.9" cy="244.3" r="3.45"/>
<circle cx="365.1" cy="249.3" r="3.45"/>
<circle cx="372.1" cy="246.5" r="3.45"/>
<circle cx="377.1" cy="244.9" r="3.45"/>
</g>
<g fill="#bebebe"><path d="M378.2 267.7L378.2 249.7L379 249.7L379.8 249.7L380.6 249.7L381.4 251.8L382.2 253L383 253.7L383.8 254.2L384.6 255.4L385.4 256.3L386.2 256.8L387 257L387.8 256.7L388.6 256.3L389.4 255.5L390.2 255.1L391 254.5L391.8 253.4L392.6 252.8L393.4 252.6L394.2 252.2L395 251.5L395.8 250.5L396.6 249.6L397.4 248.6L398.2 246.5L399 244.6L399.8 244.4L400.6 244.4L401.4 244.4L402 244.4L402 267.7Z"/>
</g>
<g fill="#bebebe" fill-opacity="0.8">
<circle cx="380.6" cy="250" r="3.45"/>
<circle cx="381.4" cy="251.9" r="3.45"/>
<circle cx="382" cy="253" r="3.45"/>
<circle cx="383.4" cy="254.1" r="3.45"/>
<circle cx="384.5" cy="255.2" r="3.45"/>
<circle cx="385.6" cy="256.8" r="3.45"/>
<circle cx="387" cy="257.1" r="3.45"/>
<circle cx="388.9" cy="256.6" r="3.45"/>
<circle cx="390.3" cy="255.6" r="3.45"/>
<circle cx="391.5" cy="254.6" r="3.45"/>
<circle cx="392.7" cy="252.9" r="3.45"/>
<circle cx="394.2" cy="252.4" r="3.45"/>
<circle cx="395.4" cy="251.2" r="3.45"/>
<circle cx="396.5" cy="250.3" r="3.45"/>
<circle cx="397.6" cy="248.6" r="3.45"/>
<circle cx="398.1" cy="247.1" r="3.45"/>
<circle cx="398.7" cy="245.4" r="3.45"/>
</g>
<g fill="#bebebe" fill-opacity="0.8">
<circle cx="380.8" cy="246" r="3.45"/>
<circle cx="394.6" cy="248.9" r="3.45"/>
<circle cx="403.8" cy="232.9" r="3.45"/>
</g>
<g fill="#000"><path d="M402 267.7L402 258.1L402.8 258.1L403.6 258.1L404.4 258.1L405.2 257.4L406 256.8L406.8 255.8L407.6 254.5L408.4 253.3L409.2 251.9L410 250.1L410.8 249.8L411.6 251.4L412.4 252.8L413.2 254.1L414 254.8L414.8 254.9L415.6 254.9L416.4 254.6L417.2 254.3L418 254.8L418.8 254.9L419.6 254.7L420.4 254.7L421.2 254.7L422 254.7L422 254.7L422 267.7Z"/>
</g>
<g fill="#000" fill-opacity="0.8">
<circle cx="404.4" cy="258.5" r="3.45"/>
<circle cx="405.9" cy="257.3" r="3.45"/>
<circle cx="406.7" cy="256" r="3.45"/>
<circle cx="407.7" cy="254.4" r="3.45"/>
<circle cx="408.5" cy="252.9" r="3.45"/>
<circle cx="409.3" cy="251.6" r="3.45"/>
<circle cx="410.1" cy="250" r="3.45"/>
<circle cx="411.2" cy="251.3" r="3.45"/>
<circle cx="412.3" cy="252.8" r="3.45"/>
<circle cx="413" cy="254.4" r="3.45"/>
<circle cx="414.4" cy="255.2" r="3.45"/>
<circle cx="416.1" cy="254.7" r="3.45"/>
<circle cx="417.9" cy="255.1" r="3.45"/>
</g>
<g fill="#000" fill-opacity="0.8">
<circle cx="412.2" cy="245.6" r="3.45"/>
<circle cx="424.2" cy="236.2" r="3.45"/>
<circle cx="420.9" cy="242.7" r="3.45"/>
<circle cx="424.2" cy="244.3" r="3.45"/>
<circle cx="404.5" cy="257" r="3.45"/>
</g>
<g fill="#bebebe"><path d="M422 267.7L422 252.5L422.8 252.5L423.6 252.5L424.4 252.5L425.2 252.5L426 252.2L426.8 251.6L427.6 250.6L428.4 250.1L429.2 250.9L430 251.3L430.8 251.5L431.6 252.4L432.4 253.3L433.2 253.7L434 253.8L434.8 253.7L435.6 253.4L436.4 252.7L437.2 252L438 251.6L438.8 251.9L439.6 252L440.4 251.9L441.2 251.5L442 250.8L442.8 250.6L443.6 250.6L444.4 250.6L444.6 250.6L444.6 267.7Z"/>
</g>
<g fill="#bebebe" fill-opacity="0.8">
<circle cx="424.4" cy="252.8" r="3.45"/>
<circle cx="426" cy="252.5" r="3.45"/>
<circle cx="427.1" cy="251.2" r="3.45"/>
<circle cx="429.1" cy="250.9" r="3.45"/>
<circle cx="430.6" cy="251.8" r="3.45"/>
<circle cx="431.7" cy="253.3" r="3.45"/>
<circle cx="433.1" cy="254.1" r="3.45"/>
<circle cx="434.7" cy="253.7" r="3.45"/>
<circle cx="436.5" cy="253" r="3.45"/>
<circle cx="437.5" cy="252" r="3.45"/>
<circle cx="439.3" cy="252.4" r="3.45"/>
<circle cx="440.9" cy="251.7" r="3.45"/>
</g>
<g fill="#bebebe" fill-opacity="0.8">
<circle cx="427.7" cy="247.8" r="3.45"/>
</g>
<g fill="#000"><path d="M444.6 267.7L444.6 248.2L445.4 248.2L446.2 248.2L447 248.2L447.8 247.7L448.6 246.7L449.4 245.3L450.2 244.7L451 244.1L451.8 244.2L452.6 244.1L453.4 244.4L454.2 245.1L455 246.5L455.8 248.2L456.6 249.7L457.4 250.8L458.2 251.2L459 251.3L459.8 251.2L460.6 251.3L461.4 251.3L462.2 250.9L463 250.3L463.8 250.3L464.6 250.3L465.4 250.1L466.2 249.7L467 249.2L467.8 249L468.6 249L469.4 249L469.7 249L469.7 267.7Z"/>
</g>
<g fill="#000" fill-opacity="0.8">
<circle cx="447" cy="248.4" r="3.45"/>
<circle cx="448.2" cy="247.5" r="3.45"/>
<circle cx="449.2" cy="246.1" r="3.45"/>
<circle cx="450.6" cy="244.8" r="3.45"/>
<circle cx="452.2" cy="244.6" r="3.45"/>
<circle cx="453.8" cy="244.9" r="3.45"/>
<circle cx="454.8" cy="246.5" r="3.45"/>
<circle cx="455.6" cy="247.6" r="3.45"/>
<circle cx="456.4" cy="249.1" r="3.45"/>
<circle cx="457.2" cy="250.9" r="3.45"/>
<circle cx="458.6" cy="251.8" r="3.45"/>
<circle cx="460.4" cy="251.6" r="3.45"/>
<circle cx="462.1" cy="251.5" r="3.45"/>
<circle cx="463.6" cy="250.5" r="3.45"/>
<circle cx="465.2" cy="250.4" r="3.45"/>
<circle cx="466.8" cy="249.5" r="3.45"/>
</g>
<g fill="#000" fill-opacity="0.8">
<circle cx="451.8" cy="242.7" r="3.45"/>
</g>
<g fill="#bebebe"><path d="M469.7 267.7L469.7 248.7L470.5 248.7L471.3 248.7L472.1 248.7L472.9 248.7L473.7 248.5L474.5 248.5L475.3 249.1L476.1 250.1L476.9 250.8L477.7 251.1L478.5 251.2L479.3 251.1L480.1 251.3L480.9 251.7L481.7 251.8L482.5 251.8L483.3 251.8L484.1 251.7L484.9 251.7L485.7 251.7L486.2 251.7L486.2 267.7Z"/>
</g>
<g fill="#bebebe" fill-opacity="0.8">
<circle cx="472.1" cy="248.9" r="3.45"/>
<circle cx="473.9" cy="248.9" r="3.45"/>
<circle cx="475.3" cy="249.4" r="3.45"/>
<circle cx="476.3" cy="250.6" r="3.45"/>
<circle cx="477.8" cy="251.5" r="3.45"/>
<circle cx="479.7" cy="251" r="3.45"/>
<circle cx="481.4" cy="251.9" r="3.45"/>
<circle cx="483.1" cy="252.3" r="3.45"/>
</g>
<g fill="#bebebe" fill-opacity="0.8">
<circle cx="473.7" cy="246.5" r="3.45"/>
<circle cx="489.5" cy="239" r="3.45"/>
</g>
<g fill="#000"><path d="M486.2 267.7L486.2 251.1L487 251.1L487.8 251.1L488.6 251.1L489.4 250.7L490.2 250.5L491 250.2L491.8 249.6L492.6 249L493.4 249.2L494.2 249.2L495 249L495.8 248.8L496.6 248.5L497.4 248L498.2 247.2L499 247L499.8 246.8L500.6 246.4L501.4 246L502.2 246.4L503 246.7L503.8 246.8L504.6 246.9L505.4 246.7L506.2 246.3L507 245.6L507.8 244.7L508.6 244.6L509.4 244.3L510.2 243.8L511 243.4L511.8 243.3L512.6 243.4L513.4 243.4L514.2 243.4L514.3 243.4L514.3 267.7Z"/>
</g>
<g fill="#000" fill-opacity="0.8">
<circle cx="488.6" cy="251.6" r="3.45"/>
<circle cx="490" cy="250.6" r="3.45"/>
<circle cx="491.7" cy="249.9" r="3.45"/>
<circle cx="493.5" cy="249.7" r="3.45"/>
<circle cx="495" cy="249.6" r="3.45"/>
<circle cx="496.6" cy="248.8" r="3.45"/>
<circle cx="498" cy="247.7" r="3.45"/>
<circle cx="499.5" cy="247.3" r="3.45"/>
<circle cx="501" cy="246.6" r="3.45"/>
<circle cx="502.7" cy="246.9" r="3.45"/>
<circle cx="504.1" cy="247.1" r="3.45"/>
<circle cx="505.9" cy="246.8" r="3.45"/>
<circle cx="507.2" cy="245.8" r="3.45"/>
<circle cx="508.9" cy="244.9" r="3.45"/>
<circle cx="510.2" cy="244.1" r="3.45"/>
</g>
<g fill="#000" fill-opacity="0.8">
<circle cx="490.1" cy="247.1" r="3.45"/>
<circle cx="498.2" cy="244.3" r="3.45"/>
<circle cx="502.6" cy="244.9" r="3.45"/>
<circle cx="514.6" cy="241.2" r="3.45"/>
</g>
<g fill="#bebebe"><path d="M514.2 267.7L514.2 249.8L515 249.8L515.8 249.8L516.6 249.8L517.4 250.5L518.2 251.4L519 252L519.8 253.1L520.6 254.7L521.4 255.7L522.2 256.2L523 256.5L523.8 256.7L524.6 256.8L525.4 256.7L526.2 257L527 257.6L527.8 258L528.6 258.1L529.4 258L530.2 257.6L531 257.4L531.8 257.4L532.6 257.2L533.4 256.8L534.2 256.1L535 255.1L535.8 254.5L536.6 253.9L537.4 254L538.2 254L539 254L539.8 254L539.8 254L539.8 267.7Z"/>
</g>
<g fill="#bebebe" fill-opacity="0.8">
<circle cx="516.6" cy="250.2" r="3.45"/>
<circle cx="517.7" cy="251.2" r="3.45"/>
<circle cx="519.3" cy="252.5" r="3.45"/>
<circle cx="520" cy="253.6" r="3.45"/>
<circle cx="521" cy="255.4" r="3.45"/>
<circle cx="522.2" cy="256.7" r="3.45"/>
<circle cx="523.8" cy="256.9" r="3.45"/>
<circle cx="525.2" cy="256.9" r="3.45"/>
<circle cx="526.9" cy="257.8" r="3.45"/>
<circle cx="528.4" cy="258.2" r="3.45"/>
<circle cx="530.2" cy="258" r="3.45"/>
<circle cx="531.8" cy="258" r="3.45"/>
<circle cx="533.5" cy="256.8" r="3.45"/>
<circle cx="534.6" cy="256.1" r="3.45"/>
<circle cx="535.8" cy="254.8" r="3.45"/>
</g>
<g fill="#bebebe" fill-opacity="0.8">
<circle cx="519.7" cy="235.5" r="3.45"/>
<circle cx="535" cy="239.5" r="3.45"/>
<circle cx="516.8" cy="247.1" r="3.45"/>
</g>
<g fill="#000"><path d="M539.4 267.7L539.4 253.8L540.2 253.8L541 253.8L541.8 253.8L542.6 252.7L543.4 252.3L544.2 251.7L545 251.7L545.8 252.2L546.6 252.7L547.4 253.1L548.2 253.3L549 253.8L549.8 255.3L550.6 256.2L551.4 256.7L552.2 257.3L553 257.7L553.8 257.8L554.6 258L555.4 258.1L556.2 258.4L557 258.6L557.8 258.6L558.6 258.3L559.4 257.8L560.2 257.8L561 257.8L561.8 257.8L561.8 257.8L561.8 267.7Z"/>
</g>
<g fill="#000" fill-opacity="0.8">
<circle cx="541.8" cy="254.2" r="3.45"/>
<circle cx="543" cy="252.7" r="3.45"/>
<circle cx="544.3" cy="251.9" r="3.45"/>
<circle cx="545.8" cy="252.6" r="3.45"/>
<circle cx="547.4" cy="253.7" r="3.45"/>
<circle cx="548.9" cy="254" r="3.45"/>
<circle cx="549.6" cy="255.3" r="3.45"/>
<circle cx="551" cy="256.5" r="3.45"/>
<circle cx="552.2" cy="257.5" r="3.45"/>
<circle cx="554" cy="258.4" r="3.45"/>
<circle cx="555.7" cy="258.7" r="3.45"/>
<circle cx="557.1" cy="258.6" r="3.45"/>
<circle cx="559" cy="258.3" r="3.45"/>
</g>
<g fill="#000" fill-opacity="0.8">
<circle cx="556.9" cy="244.3" r="3.45"/>
<circle cx="562.4" cy="245.6" r="3.45"/>
<circle cx="544.9" cy="248.9" r="3.45"/>
</g>
<g fill="#bebebe"><path d="M561.7 267.7L561.7 252L562.5 252L563.3 252L564.1 252L564.9 251.6L565.7 251.5L566.5 251.4L567.3 251.3L568.1 251.4L568.9 251.3L569.7 251L570.5 250.6L571.3 251L572.1 251.2L572.9 251.2L573.7 251.2L574.5 251.2L575.3 251L576.1 250.8L576.9 251.1L577.7 251.2L578.5 251L579.3 250.6L580.1 250.9L580.9 251.3L581.7 251.7L582.5 252L583.3 252.2L584.1 252L584.9 251.7L585.7 251.7L586.5 252L587.3 252L588.1 251.8L588.9 251.4L589.7 251.4L590.5 251.7L591.3 252.1L592.1 252.3L592.9 252.2L593.7 251.9L594.5 251.4L595.3 250.6L596.1 250.7L596.9 250.6L597.7 250.6L598.5 250.6L599.3 250.4L600.1 250.7L600.9 251L601.7 251.1L602.5 251L603.3 250.5L604.1 249.8L604.9 249.2L605.7 249.6L606.5 250L607.3 250.1L608.1 250.1L608.9 249.8L609.7 250.2L610.5 250.4L611.3 250.4L612.1 250.2L612.9 249.7L613.7 249.2L614.5 250.1L615.3 250.7L616.1 251.1L616.9 251.1L617.7 251L618.5 251.1L619.3 251.5L620.1 251.6L620.9 251.6L621.7 251.7L622.5 251.7L623.3 251.5L624.1 251.7L624.9 252.1L625.7 252.3L626.5 252.2L627.3 251.9L628.1 251.3L628.9 251.2L629.7 250.9L630.5 251L631.3 251L632.1 250.9L632.9 251.7L633.7 252.4L634.5 252.8L635.3 253L636.1 253.2L636.9 253.3L637.7 253.3L638.5 253.6L639.3 254.1L640.1 254.4L640.9 254.4L641.7 254.2L642.5 254.3L643.3 254.7L644.1 255L644.9 255.4L645.7 255.5L646.5 255.5L647.3 255.3L648.1 255.4L648.9 256L649.7 256.3L650.5 257L651.3 257.8L652.1 258.5L652.9 260.4L653.7 261.8L654.5 262.3L655.3 262.3L656.1 262.3L656.5 262.3L656.5 267.7Z"/>
</g>
<g fill="#bebebe" fill-opacity="0.8">
<circle cx="564.1" cy="252.2" r="3.45"/>
<circle cx="565.6" cy="252.1" r="3.45"/>
<circle cx="567.5" cy="251.6" r="3.45"/>
<circle cx="569.1" cy="251.4" r="3.45"/>
<circle cx="570.6" cy="251.4" r="3.45"/>
<circle cx="572.5" cy="251.8" r="3.45"/>
<circle cx="574.1" cy="251.6" r="3.45"/>
<circle cx="575.7" cy="250.8" r="3.45"/>
<circle cx="577.6" cy="251.7" r="3.45"/>
<circle cx="579" cy="251.3" r="3.45"/>
<circle cx="580.9" cy="251.4" r="3.45"/>
<circle cx="582.3" cy="252.5" r="3.45"/>
<circle cx="584" cy="252.6" r="3.45"/>
<circle cx="585.5" cy="252" r="3.45"/>
<circle cx="587.4" cy="252.1" r="3.45"/>
<circle cx="588.8" cy="251.9" r="3.45"/>
<circle cx="590.6" cy="252.2" r="3.45"/>
<circle cx="592.1" cy="252.4" r="3.45"/>
<circle cx="593.8" cy="252" r="3.45"/>
<circle cx="595.3" cy="250.8" r="3.45"/>
<circle cx="596.8" cy="250.7" r="3.45"/>
<circle cx="598.5" cy="250.8" r="3.45"/>
<circle cx="600.1" cy="250.8" r="3.45"/>
<circle cx="601.7" cy="251.6" r="3.45"/>
<circle cx="603.3" cy="250.6" r="3.45"/>
<circle cx="604.5" cy="249.4" r="3.45"/>
<circle cx="606.1" cy="249.9" r="3.45"/>
<circle cx="608" cy="250.3" r="3.45"/>
<circle cx="609.5" cy="250.6" r="3.45"/>
<circle cx="611.1" cy="250.5" r="3.45"/>
<circle cx="613" cy="249.8" r="3.45"/>
<circle cx="614.5" cy="250.6" r="3.45"/>
<circle cx="616.1" cy="251.1" r="3.45"/>
<circle cx="617.6" cy="251.4" r="3.45"/>
<circle cx="619.3" cy="252" r="3.45"/>
<circle cx="620.9" cy="252.2" r="3.45"/>
<circle cx="622.7" cy="251.8" r="3.45"/>
<circle cx="624.4" cy="252" r="3.45"/>
<circle cx="626.1" cy="252.4" r="3.45"/>
<circle cx="627.8" cy="252" r="3.45"/>
<circle cx="629.2" cy="251.2" r="3.45"/>
<circle cx="631" cy="251.2" r="3.45"/>
<circle cx="632.7" cy="251.5" r="3.45"/>
<circle cx="633.9" cy="252.8" r="3.45"/>
<circle cx="635.5" cy="253.5" r="3.45"/>
<circle cx="637.2" cy="253.7" r="3.45"/>
<circle cx="638.9" cy="254" r="3.45"/>
<circle cx="640.4" cy="254.4" r="3.45"/>
<circle cx="642" cy="254.6" r="3.45"/>
<circle cx="643.6" cy="255.2" r="3.45"/>
<circle cx="645.1" cy="255.8" r="3.45"/>
<circle cx="646.9" cy="255.6" r="3.45"/>
<circle cx="648.5" cy="255.8" r="3.45"/>
<circle cx="650" cy="256.7" r="3.45"/>
<circle cx="651.2" cy="258.2" r="3.45"/>
<circle cx="652.2" cy="259.4" r="3.45"/>
<circle cx="653.2" cy="261.1" r="3.45"/>
</g>
<g fill="#bebebe" fill-opacity="0.8">
<circle cx="572.7" cy="237.3" r="3.45"/>
<circle cx="592.6" cy="241" r="3.45"/>
<circle cx="587.6" cy="245.6" r="3.45"/>
<circle cx="613.8" cy="243.4" r="3.45"/>
<circle cx="632.9" cy="246.5" r="3.45"/>
<circle cx="564.6" cy="248.2" r="3.45"/>
<circle cx="607.3" cy="246" r="3.45"/>
<circle cx="648.9" cy="253" r="3.45"/>
<circle cx="566.9" cy="248.4" r="3.45"/>
<circle cx="567.5" cy="250.8" r="3.45"/>
<circle cx="571.1" cy="249.2" r="3.45"/>
<circle cx="573.4" cy="248.6" r="3.45"/>
<circle cx="575.8" cy="249.5" r="3.45"/>
<circle cx="577.2" cy="250.3" r="3.45"/>
<circle cx="581.7" cy="248.8" r="3.45"/>
<circle cx="581.9" cy="251.1" r="3.45"/>
<circle cx="584.3" cy="250.2" r="3.45"/>
<circle cx="585.9" cy="249.5" r="3.45"/>
<circle cx="588.8" cy="249.6" r="3.45"/>
<circle cx="590.6" cy="250.2" r="3.45"/>
<circle cx="593.6" cy="251.3" r="3.45"/>
<circle cx="597.6" cy="249.2" r="3.45"/>
<circle cx="599.4" cy="248.2" r="3.45"/>
<circle cx="599.7" cy="249.9" r="3.45"/>
<circle cx="602.8" cy="247.3" r="3.45"/>
<circle cx="605.5" cy="247.4" r="3.45"/>
<circle cx="609.1" cy="246.9" r="3.45"/>
<circle cx="609.9" cy="247.1" r="3.45"/>
<circle cx="613.9" cy="247" r="3.45"/>
<circle cx="616.7" cy="248.7" r="3.45"/>
<circle cx="617.5" cy="248.5" r="3.45"/>
<circle cx="620.8" cy="248.3" r="3.45"/>
<circle cx="623.1" cy="251.1" r="3.45"/>
<circle cx="626.1" cy="250.9" r="3.45"/>
<circle cx="629" cy="249" r="3.45"/>
<circle cx="630.1" cy="250.3" r="3.45"/>
<circle cx="632.7" cy="250.5" r="3.45"/>
<circle cx="634.2" cy="250.3" r="3.45"/>
<circle cx="637.3" cy="252" r="3.45"/>
<circle cx="640.2" cy="251.1" r="3.45"/>
<circle cx="642.1" cy="251.2" r="3.45"/>
<circle cx="644.4" cy="253.6" r="3.45"/>
<circle cx="647.5" cy="252.4" r="3.45"/>
<circle cx="649.6" cy="253.8" r="3.45"/>
<circle cx="652.2" cy="255.1" r="3.45"/>
</g>
<circle cx="257.6" cy="207.7" r="2.8" fill="#f00"/>
<circle cx="357" cy="200.5" r="3.1" fill="#f00" stroke="#111" stroke-width="0.8"/>
<circle cx="399.5" cy="175.9" r="2.8" fill="#f00"/>
<circle cx="441.1" cy="212.3" r="2.8" fill="#f00"/>
<circle cx="511.4" cy="180.8" r="3.1" fill="#f00" stroke="#111" stroke-width="0.8"/>
<circle cx="533.9" cy="213.6" r="2.8" fill="#f00"/>
<rect x="153.8" y="169.5" width="7.3" height="97.2" fill="#ffa500" fill-opacity="0.5"/>
<rect x="154.0" y="169.5" width="4.9" height="97.2" fill="#ffa500" fill-opacity="0.5"/>
<rect x="255.0" y="169.5" width="5.4" height="97.2" fill="#ffa500" fill-opacity="0.5"/>
<rect x="397.0" y="169.5" width="5.4" height="97.2" fill="#ffa500" fill-opacity="0.5"/>
<rect x="401.2" y="169.5" width="5.7" height="97.2" fill="#ffa500" fill-opacity="0.5"/>
<rect x="508.7" y="169.5" width="5.6" height="97.2" fill="#ffa500" fill-opacity="0.5"/>
<path d="M66 235.4H653.7" stroke="#000" stroke-width="1.25"/>
</g>
<g font-family="Liberation Sans, Arial, sans-serif" font-size="10.7" fill="#484848" text-anchor="end">
<path d="M33.3 266.60H37.9" stroke="#333" stroke-width="1.2"/>
<text x="30.4" y="270.90">0</text>
<path d="M33.3 243.70H37.9" stroke="#333" stroke-width="1.2"/>
<text x="30.4" y="248.00">2</text>
<path d="M33.3 220.80H37.9" stroke="#333" stroke-width="1.2"/>
<text x="30.4" y="225.10">4</text>
<path d="M33.3 197.90H37.9" stroke="#333" stroke-width="1.2"/>
<text x="30.4" y="202.20">6</text>
<path d="M33.3 175.00H37.9" stroke="#333" stroke-width="1.2"/>
<text x="30.4" y="179.30">8</text>
</g>
<text x="682.8" y="157.9" font-family="Liberation Sans, Arial, sans-serif" font-size="18.7" fill="#000" text-anchor="end">2017</text>
<g clip-path="url(#c2)">
<path d="M37.8 397.18H683" stroke="#f0f0f0" stroke-width="0.8"/>
<path d="M37.8 374.34H683" stroke="#f0f0f0" stroke-width="0.8"/>
<path d="M37.8 351.50H683" stroke="#f0f0f0" stroke-width="0.8"/>
<path d="M37.8 328.66H683" stroke="#f0f0f0" stroke-width="0.8"/>
<path d="M37.8 408.60H683" stroke="#e8e8e8" stroke-width="1.4"/>
<path d="M37.8 385.76H683" stroke="#e8e8e8" stroke-width="1.4"/>
<path d="M37.8 362.92H683" stroke="#e8e8e8" stroke-width="1.4"/>
<path d="M37.8 340.08H683" stroke="#e8e8e8" stroke-width="1.4"/>
<path d="M37.8 317.24H683" stroke="#e8e8e8" stroke-width="1.4"/>
<g fill="#000"><path d="M63.3 409.7L63.3 388.8L64.1 388.8L64.9 388.8L65.7 388.8L66.5 388.9L67.3 389L68.1 389.1L68.9 389.1L69.7 391.6L70.5 393.4L71.3 394.7L72.1 395.8L72.9 396.3L73.7 396.5L74.5 396.6L75.3 396.9L76.1 397.5L76.9 397.9L77.7 398L78.5 397.9L79.3 397.5L80.1 397L80.9 396.8L81.7 396.3L82.5 396.4L83.3 396.4L84.1 396.4L84.2 396.4L84.2 409.7Z"/>
</g>
<g fill="#000" fill-opacity="0.8">
<circle cx="65.7" cy="388.9" r="3.45"/>
<circle cx="67.3" cy="389.2" r="3.45"/>
<circle cx="69.1" cy="389.9" r="3.45"/>
<circle cx="69.4" cy="391.4" r="3.45"/>
<circle cx="70.2" cy="393" r="3.45"/>
<circle cx="70.9" cy="394.3" r="3.45"/>
<circle cx="71.8" cy="396.2" r="3.45"/>
<circle cx="73.7" cy="396.4" r="3.45"/>
<circle cx="75.3" cy="397.5" r="3.45"/>
<circle cx="76.7" cy="397.8" r="3.45"/>
<circle cx="78.3" cy="398.1" r="3.45"/>
<circle cx="79.7" cy="397.4" r="3.45"/>
<circle cx="81.3" cy="397.1" r="3.45"/>
</g>
<g fill="#000" fill-opacity="0.8">
<circle cx="67" cy="364.4" r="3.45"/>
<circle cx="76.5" cy="389.6" r="3.45"/>
<circle cx="85.7" cy="380.4" r="3.45"/>
<circle cx="84.6" cy="382.5" r="3.45"/>
</g>
<g fill="#bebebe"><path d="M84.1 409.7L84.1 390.4L84.9 390.4L85.7 390.4L86.5 390.4L87.3 389.4L88.1 388.1L88.9 387.3L89.7 388.5L90.5 390.5L91.3 393L92.1 394L92.9 394.5L93.7 394.7L94.5 394.7L95.3 394.5L96.1 394.1L96.9 393.7L97.7 393.5L98.5 394L99.3 394.3L100.1 394.3L100.9 394.1L101.7 393.6L102.5 393L103.3 392.8L104.1 392.5L104.9 392L105.7 391.3L106.5 390.9L107.3 390.9L108.1 390.9L108.7 390.9L108.7 409.7Z"/>
</g>
<g fill="#bebebe" fill-opacity="0.8">
<circle cx="86.5" cy="390.8" r="3.45"/>
<circle cx="87.4" cy="389.2" r="3.45"/>
<circle cx="88.4" cy="387.6" r="3.45"/>
<circle cx="89.9" cy="389.3" r="3.45"/>
<circle cx="90.4" cy="390.5" r="3.45"/>
<circle cx="91" cy="392.5" r="3.45"/>
<circle cx="91.9" cy="393.6" r="3.45"/>
<circle cx="93.2" cy="395" r="3.45"/>
<circle cx="94.9" cy="394.8" r="3.45"/>
<circle cx="96.2" cy="394.4" r="3.45"/>
<circle cx="98" cy="394" r="3.45"/>
<circle cx="99.7" cy="394.5" r="3.45"/>
<circle cx="101.4" cy="394" r="3.45"/>
<circle cx="102.6" cy="393.4" r="3.45"/>
<circle cx="104.4" cy="392.8" r="3.45"/>
<circle cx="105.8" cy="391.9" r="3.45"/>
</g>
<g fill="#bebebe" fill-opacity="0.8">
<circle cx="88.3" cy="374.9" r="3.45"/>
<circle cx="88.9" cy="385.4" r="3.45"/>
<circle cx="106.5" cy="388.5" r="3.45"/>
</g>
<g fill="#000"><path d="M108.7 409.7L108.7 389.3L109.5 389.3L110.3 389.3L111.1 389.3L111.9 389.6L112.7 389.8L113.5 389.7L114.3 391.5L115.1 393L115.9 394.1L116.7 394.6L117.5 394.7L118.3 394.7L119.1 394.6L119.9 394.3L120.7 394.6L121.5 394.8L122.3 394.8L123.1 394.5L123.9 393.8L124.7 393.8L125.5 393.8L126.3 393.8L126.3 393.8L126.3 409.7Z"/>
</g>
<g fill="#000" fill-opacity="0.8">
<circle cx="111.1" cy="389.4" r="3.45"/>
<circle cx="112.7" cy="390" r="3.45"/>
<circle cx="113.8" cy="391.3" r="3.45"/>
<circle cx="114.6" cy="392.7" r="3.45"/>
<circle cx="115.9" cy="393.9" r="3.45"/>
<circle cx="117" cy="394.9" r="3.45"/>
<circle cx="118.7" cy="395.1" r="3.45"/>
<circle cx="120.4" cy="395.1" r="3.45"/>
<circle cx="122.4" cy="395.2" r="3.45"/>
</g>
<g fill="#000" fill-opacity="0.8">
<circle cx="112.4" cy="384.7" r="3.45"/>
<circle cx="126.8" cy="363.9" r="3.45"/>
<circle cx="124.6" cy="388" r="3.45"/>
<circle cx="118.5" cy="391.3" r="3.45"/>
</g>
<g fill="#bebebe"><path d="M126.3 409.7L126.3 389.1L127.1 389.1L127.9 389.1L128.7 389.1L129.5 388.9L130.3 388.8L131.1 388.9L131.9 390.4L132.7 391.4L133.5 392.1L134.3 393.2L135.1 394.1L135.9 394.8L136.7 395.1L137.5 395.1L138.3 394.9L139.1 394.7L139.9 394.6L140.7 394.1L141.5 393.4L142.3 392L143.1 391L143.9 390.6L144.7 390.3L145.5 390.1L146.3 389.7L147.1 389.7L147.9 389.9L148.7 390L149.5 389.8L150.3 389.3L151.1 388.6L151.9 388L152.7 388L153.5 388L154 388L154 409.7Z"/>
</g>
<g fill="#bebebe" fill-opacity="0.8">
<circle cx="128.7" cy="389.4" r="3.45"/>
<circle cx="130.4" cy="389" r="3.45"/>
<circle cx="131.6" cy="390.4" r="3.45"/>
<circle cx="132.8" cy="391.9" r="3.45"/>
<circle cx="133.7" cy="392.8" r="3.45"/>
<circle cx="134.9" cy="394.2" r="3.45"/>
<circle cx="136.2" cy="395.1" r="3.45"/>
<circle cx="137.8" cy="395.1" r="3.45"/>
<circle cx="139.6" cy="395.2" r="3.45"/>
<circle cx="141.3" cy="394.3" r="3.45"/>
<circle cx="142.3" cy="393" r="3.45"/>
<circle cx="143.1" cy="391.5" r="3.45"/>
<circle cx="144.4" cy="390.7" r="3.45"/>
<circle cx="146.3" cy="389.9" r="3.45"/>
<circle cx="147.9" cy="390.5" r="3.45"/>
<circle cx="149.6" cy="390.1" r="3.45"/>
<circle cx="150.9" cy="388.9" r="3.45"/>
</g>
<g fill="#bebebe" fill-opacity="0.8">
<circle cx="131" cy="385.2" r="3.45"/>
<circle cx="152.4" cy="383.2" r="3.45"/>
<circle cx="157.9" cy="381.5" r="3.45"/>
</g>
<g fill="#000"><path d="M154 409.7L154 388.9L154.8 388.9L155.6 388.9L156.4 388.9L157.2 388.7L158 388.7L158.8 389L159.6 389.8L160.4 390.4L161.2 390.7L162 390.7L162.8 390.5L163.6 390.8L164.4 391.3L165.2 391.8L166 392.5L166.8 393L167.6 393.6L168.4 394.9L169.2 395.6L170 396L170.8 396.2L171.6 396.1L172.4 395.7L173.2 395.2L174 395.4L174.8 395.8L175.6 395.9L176.4 395.7L177.2 395.3L178 394.8L178.8 393.8L179.6 392.5L180.4 392.3L181.2 392.2L182 392.2L182.8 392.2L183.3 392.2L183.3 409.7Z"/>
</g>
<g fill="#000" fill-opacity="0.8">
<circle cx="156.4" cy="389.3" r="3.45"/>
<circle cx="158.1" cy="388.8" r="3.45"/>
<circle cx="159.6" cy="389.9" r="3.45"/>
<circle cx="161" cy="390.8" r="3.45"/>
<circle cx="162.7" cy="390.9" r="3.45"/>
<circle cx="164.2" cy="391.3" r="3.45"/>
<circle cx="165.5" cy="392.8" r="3.45"/>
<circle cx="167" cy="393.2" r="3.45"/>
<circle cx="168.2" cy="394.6" r="3.45"/>
<circle cx="169.1" cy="396" r="3.45"/>
<circle cx="170.8" cy="396.4" r="3.45"/>
<circle cx="172.5" cy="395.8" r="3.45"/>
<circle cx="174.3" cy="395.7" r="3.45"/>
<circle cx="175.9" cy="396.2" r="3.45"/>
<circle cx="177.3" cy="395.4" r="3.45"/>
<circle cx="178.5" cy="394.2" r="3.45"/>
<circle cx="179.7" cy="392.8" r="3.45"/>
</g>
<g fill="#000" fill-opacity="0.8">
<circle cx="163.4" cy="377.5" r="3.45"/>
<circle cx="166.7" cy="390.2" r="3.45"/>
<circle cx="183.8" cy="381.5" r="3.45"/>
<circle cx="182" cy="388" r="3.45"/>
<circle cx="183.3" cy="381.5" r="3.45"/>
<circle cx="181.6" cy="388" r="3.45"/>
</g>
<g fill="#bebebe"><path d="M182.8 409.7L182.8 388.7L183.6 388.7L184.4 388.7L185.2 388.7L186 389L186.8 390.1L187.6 392.2L188.4 394.5L189.2 396.8L190 398.5L190.8 399.5L191.6 400.1L192.4 400.2L193.2 400.2L194 399.5L194.8 398.2L195.6 396.6L196.4 396L197.2 395.2L198 394.5L198.8 394.9L199.6 395.1L200.4 395.9L201.2 397.5L202 398L202.8 398.5L203.6 398.4L204.4 398.4L205.2 398.4L205.7 398.4L205.7 409.7Z"/>
</g>
<g fill="#bebebe" fill-opacity="0.8">
<circle cx="185.2" cy="389.3" r="3.45"/>
<circle cx="186.6" cy="389.9" r="3.45"/>
<circle cx="187.4" cy="391.6" r="3.45"/>
<circle cx="187.7" cy="393.5" r="3.45"/>
<circle cx="188.4" cy="395" r="3.45"/>
<circle cx="188.8" cy="396.6" r="3.45"/>
<circle cx="189.4" cy="397.9" r="3.45"/>
<circle cx="190.5" cy="399.2" r="3.45"/>
<circle cx="191.9" cy="400.3" r="3.45"/>
<circle cx="193.5" cy="400.4" r="3.45"/>
<circle cx="194.5" cy="399.1" r="3.45"/>
<circle cx="195.2" cy="397.5" r="3.45"/>
<circle cx="196.5" cy="396.5" r="3.45"/>
<circle cx="197.7" cy="394.7" r="3.45"/>
<circle cx="199.4" cy="395.1" r="3.45"/>
<circle cx="200.6" cy="396.6" r="3.45"/>
<circle cx="201.4" cy="397.7" r="3.45"/>
<circle cx="202.8" cy="398.8" r="3.45"/>
</g>
<g fill="#bebebe" fill-opacity="0.8">
<circle cx="186.4" cy="384.3" r="3.45"/>
<circle cx="198.4" cy="391.3" r="3.45"/>
<circle cx="185.9" cy="384.3" r="3.45"/>
<circle cx="198.6" cy="390.9" r="3.45"/>
</g>
<g fill="#000"><path d="M205.7 409.7L205.7 394.7L206.5 394.7L207.3 394.7L208.1 394.7L208.9 393.2L209.7 391.5L210.5 390.3L211.3 390L212.1 391L212.9 392.6L213.7 394.3L214.5 395.7L215.3 397L216.1 398.8L216.9 400.5L217.7 401.6L218.5 402.1L219.3 402.4L220.1 402.5L220.9 402.2L221.7 401.6L222.5 399.2L223.3 396.6L224.1 394.6L224.9 392.5L225.7 390.8L226.5 389.6L227.3 387.9L228.1 387.4L228.9 387.3L229.7 387L230.5 386.9L231.3 386.9L232.1 386.9L232.4 386.9L232.4 409.7Z"/>
</g>
<g fill="#000" fill-opacity="0.8">
<circle cx="208.1" cy="395.1" r="3.45"/>
<circle cx="208.7" cy="393.5" r="3.45"/>
<circle cx="209.7" cy="391.7" r="3.45"/>
<circle cx="210.8" cy="390.7" r="3.45"/>
<circle cx="212" cy="391.4" r="3.45"/>
<circle cx="212.9" cy="393.2" r="3.45"/>
<circle cx="213.7" cy="394.3" r="3.45"/>
<circle cx="214.3" cy="395.8" r="3.45"/>
<circle cx="215.5" cy="397.3" r="3.45"/>
<circle cx="216.1" cy="398.9" r="3.45"/>
<circle cx="216.8" cy="400.5" r="3.45"/>
<circle cx="217.7" cy="402.2" r="3.45"/>
<circle cx="219.3" cy="402.8" r="3.45"/>
<circle cx="221.1" cy="402.7" r="3.45"/>
<circle cx="221.9" cy="401" r="3.45"/>
<circle cx="222.3" cy="399.4" r="3.45"/>
<circle cx="223.1" cy="398" r="3.45"/>
<circle cx="223.3" cy="396" r="3.45"/>
<circle cx="224.3" cy="394.7" r="3.45"/>
<circle cx="224.7" cy="393" r="3.45"/>
<circle cx="225.3" cy="391.7" r="3.45"/>
<circle cx="226.3" cy="390.3" r="3.45"/>
<circle cx="227.1" cy="388.3" r="3.45"/>
<circle cx="228.5" cy="387.5" r="3.45"/>
</g>
<g fill="#000" fill-opacity="0.8">
<circle cx="210" cy="388" r="3.45"/>
<circle cx="216.6" cy="394.6" r="3.45"/>
<circle cx="227.6" cy="384.1" r="3.45"/>
<circle cx="234.1" cy="382.5" r="3.45"/>
<circle cx="232.4" cy="385.8" r="3.45"/>
</g>
<g fill="#bebebe"><path d="M232.4 409.7L232.4 393.7L233.2 393.7L234 393.7L234.8 393.7L235.6 393.3L236.4 392.5L237.2 392.2L238 392.1L238.8 392.2L239.6 392.3L240.4 393.4L241.2 394.9L242 395.8L242.8 396.3L243.6 396.6L244.4 397.2L245.2 397.7L246 398.1L246.8 398.9L247.6 399.3L248.4 399.5L249.2 399.2L250 398.9L250.8 397.5L251.6 395.4L252.4 393.2L253.2 392.3L254 391.5L254.8 390.1L255.6 388.4L256.4 386.7L257.2 384.9L258 384.9L258.8 384.7L259.6 384.7L260.4 384.7L261.2 384.7L261.3 384.7L261.3 409.7Z"/>
</g>
<g fill="#bebebe" fill-opacity="0.8">
<circle cx="234.8" cy="393.8" r="3.45"/>
<circle cx="236.1" cy="393" r="3.45"/>
<circle cx="237.8" cy="392.4" r="3.45"/>
<circle cx="239.4" cy="392.3" r="3.45"/>
<circle cx="240.5" cy="393.9" r="3.45"/>
<circle cx="241.1" cy="395.4" r="3.45"/>
<circle cx="242.9" cy="396.2" r="3.45"/>
<circle cx="244" cy="397.5" r="3.45"/>
<circle cx="245.5" cy="398" r="3.45"/>
<circle cx="246.9" cy="399.1" r="3.45"/>
<circle cx="248.6" cy="399.8" r="3.45"/>
<circle cx="250.2" cy="399.3" r="3.45"/>
<circle cx="250.7" cy="397.6" r="3.45"/>
<circle cx="251.6" cy="396.2" r="3.45"/>
<circle cx="252.2" cy="394.4" r="3.45"/>
<circle cx="253" cy="392.8" r="3.45"/>
<circle cx="254" cy="391.8" r="3.45"/>
<circle cx="255" cy="390.4" r="3.45"/>
<circle cx="255.7" cy="388.5" r="3.45"/>
<circle cx="256.4" cy="387.2" r="3.45"/>
<circle cx="257" cy="385.6" r="3.45"/>
<circle cx="258.6" cy="385.1" r="3.45"/>
</g>
<g fill="#bebebe" fill-opacity="0.8">
<circle cx="236.3" cy="368.3" r="3.45"/>
<circle cx="239.6" cy="381" r="3.45"/>
<circle cx="238.5" cy="390.2" r="3.45"/>
<circle cx="254.3" cy="383.6" r="3.45"/>
<circle cx="262.6" cy="364.4" r="3.45"/>
<circle cx="261.5" cy="380.4" r="3.45"/>
</g>
<g fill="#000"><path d="M261.3 409.7L261.3 392.9L262.1 392.9L262.9 392.9L263.7 392.9L264.5 393.3L265.3 393.5L266.1 393.6L266.9 394.4L267.7 395.3L268.5 395.7L269.3 396.9L270.1 398.6L270.9 400.5L271.7 402.5L272.5 402.9L273.3 403.3L274.1 403.2L274.9 402.9L275.7 402L276.5 400.7L277.3 398.8L278.1 396L278.9 393.5L279.7 392.8L280.5 391.8L281.3 390.6L282.1 389.7L282.9 389.7L283.7 389.7L284.5 389.7L284.5 389.7L284.5 409.7Z"/>
</g>
<g fill="#000" fill-opacity="0.8">
<circle cx="263.7" cy="393.1" r="3.45"/>
<circle cx="265.5" cy="393.7" r="3.45"/>
<circle cx="266.7" cy="394.5" r="3.45"/>
<circle cx="267.9" cy="395.7" r="3.45"/>
<circle cx="269" cy="396.8" r="3.45"/>
<circle cx="270.1" cy="398.5" r="3.45"/>
<circle cx="270.6" cy="400.2" r="3.45"/>
<circle cx="271.2" cy="401.5" r="3.45"/>
<circle cx="272.1" cy="403" r="3.45"/>
<circle cx="273.8" cy="403.5" r="3.45"/>
<circle cx="275.4" cy="402.9" r="3.45"/>
<circle cx="276.3" cy="401.4" r="3.45"/>
<circle cx="277.1" cy="399.4" r="3.45"/>
<circle cx="277.5" cy="398.1" r="3.45"/>
<circle cx="278.3" cy="396.3" r="3.45"/>
<circle cx="278.7" cy="394.7" r="3.45"/>
<circle cx="279.6" cy="393.1" r="3.45"/>
<circle cx="280.5" cy="392.3" r="3.45"/>
<circle cx="281.5" cy="390.5" r="3.45"/>
</g>
<g fill="#000" fill-opacity="0.8">
<circle cx="267" cy="386.9" r="3.45"/>
<circle cx="284.5" cy="383.6" r="3.45"/>
<circle cx="281.2" cy="388" r="3.45"/>
<circle cx="265.9" cy="392.4" r="3.45"/>
</g>
<g fill="#bebebe"><path d="M284.5 409.7L284.5 393.7L285.3 393.7L286.1 393.7L286.9 393.7L287.7 394L288.5 396L289.3 397.4L290.1 398.6L290.9 400L291.7 401.5L292.5 403.3L293.3 405L294.1 405.7L294.9 406.1L295.7 406.3L296.5 406.3L297.3 406L298.1 405.4L298.9 404.6L299.7 403.7L300.5 402.1L301.3 402.2L302.1 402.2L302.9 402L303.7 401.3L304.5 399.4L305.3 396.5L306.1 394.4L306.9 393.7L307.7 393.3L308.5 393.3L309.3 393.3L309.8 393.3L309.8 409.7Z"/>
</g>
<g fill="#bebebe" fill-opacity="0.8">
<circle cx="286.9" cy="394.1" r="3.45"/>
<circle cx="287.9" cy="395.2" r="3.45"/>
<circle cx="288.6" cy="396.9" r="3.45"/>
<circle cx="289.8" cy="398.3" r="3.45"/>
<circle cx="290.4" cy="399.8" r="3.45"/>
<circle cx="291.6" cy="401.2" r="3.45"/>
<circle cx="291.9" cy="402.9" r="3.45"/>
<circle cx="292.9" cy="404.2" r="3.45"/>
<circle cx="293.5" cy="405.5" r="3.45"/>
<circle cx="295.2" cy="406.7" r="3.45"/>
<circle cx="296.9" cy="406.7" r="3.45"/>
<circle cx="298.2" cy="405.4" r="3.45"/>
<circle cx="299.6" cy="404.4" r="3.45"/>
<circle cx="300.2" cy="402.9" r="3.45"/>
<circle cx="301.8" cy="402.3" r="3.45"/>
<circle cx="303.4" cy="401.6" r="3.45"/>
<circle cx="304.4" cy="400.3" r="3.45"/>
<circle cx="304.8" cy="398.8" r="3.45"/>
<circle cx="305.1" cy="397.1" r="3.45"/>
<circle cx="305.6" cy="395.7" r="3.45"/>
<circle cx="306.8" cy="394.4" r="3.45"/>
</g>
<g fill="#bebebe" fill-opacity="0.8">
<circle cx="307.5" cy="390.9" r="3.45"/>
<circle cx="287.8" cy="391.3" r="3.45"/>
<circle cx="307" cy="390.9" r="3.45"/>
</g>
<g fill="#000"><path d="M309.8 409.7L309.8 395.2L310.6 395.2L311.4 395.2L312.2 395.2L313 395.2L313.8 395.6L314.6 395.9L315.4 396L316.2 396.4L317 397.8L317.8 398.8L318.6 399.6L319.4 400L320.2 400.3L321 400.6L321.8 400.7L322.6 401.6L323.4 402.3L324.2 402.5L325 402.5L325.8 402.1L326.6 401.3L327.4 399.1L328.2 396.3L329 394.1L329.8 393.6L330.6 393.6L331.4 393.4L332.2 393L333 393.3L333.8 393.3L334.6 393.3L335.4 393.3L335.6 393.3L335.6 409.7Z"/>
</g>
<g fill="#000" fill-opacity="0.8">
<circle cx="312.2" cy="395.4" r="3.45"/>
<circle cx="313.7" cy="395.8" r="3.45"/>
<circle cx="315.4" cy="396.5" r="3.45"/>
<circle cx="316.5" cy="397.8" r="3.45"/>
<circle cx="317.6" cy="399" r="3.45"/>
<circle cx="318.9" cy="400.1" r="3.45"/>
<circle cx="320.6" cy="400.8" r="3.45"/>
<circle cx="322" cy="401.6" r="3.45"/>
<circle cx="323.3" cy="402.6" r="3.45"/>
<circle cx="325.1" cy="402.9" r="3.45"/>
<circle cx="326.3" cy="401.9" r="3.45"/>
<circle cx="327.3" cy="400.2" r="3.45"/>
<circle cx="327.5" cy="398.6" r="3.45"/>
<circle cx="328.3" cy="396.7" r="3.45"/>
<circle cx="328.5" cy="395.3" r="3.45"/>
<circle cx="329.7" cy="394.1" r="3.45"/>
<circle cx="331.2" cy="394" r="3.45"/>
<circle cx="332.9" cy="393.8" r="3.45"/>
</g>
<g fill="#000" fill-opacity="0.8">
<circle cx="313.6" cy="382.5" r="3.45"/>
<circle cx="336.2" cy="377.5" r="3.45"/>
<circle cx="336.2" cy="383" r="3.45"/>
<circle cx="336.2" cy="388" r="3.45"/>
<circle cx="329.6" cy="390.9" r="3.45"/>
<circle cx="326.8" cy="397.9" r="3.45"/>
</g>
<g fill="#bebebe"><path d="M335.5 409.7L335.5 396.1L336.3 396.1L337.1 396.1L337.9 396.1L338.7 396.4L339.5 397.4L340.3 398.4L341.1 399.9L341.9 400.8L342.7 401.5L343.5 401.9L344.3 402L345.1 401.9L345.9 401.6L346.7 402L347.5 402.2L348.3 402.1L349.1 401.9L349.9 401.5L350.7 401.5L351.5 401.5L352.3 401.5L352.4 401.5L352.4 409.7Z"/>
</g>
<g fill="#bebebe" fill-opacity="0.8">
<circle cx="337.9" cy="396.2" r="3.45"/>
<circle cx="339.3" cy="397.5" r="3.45"/>
<circle cx="340.2" cy="399" r="3.45"/>
<circle cx="341.1" cy="400.1" r="3.45"/>
<circle cx="342.2" cy="401.6" r="3.45"/>
<circle cx="344" cy="402" r="3.45"/>
<circle cx="345.4" cy="402.2" r="3.45"/>
<circle cx="347.1" cy="402.7" r="3.45"/>
<circle cx="348.9" cy="402.4" r="3.45"/>
</g>
<g fill="#bebebe" fill-opacity="0.8">
<circle cx="338.1" cy="393.5" r="3.45"/>
</g>
<g fill="#000"><path d="M352.4 409.7L352.4 391.9L353.2 391.9L354 391.9L354.8 391.9L355.6 392.1L356.4 392.8L357.2 393.6L358 394.2L358.8 395.8L359.6 396.6L360.4 396.9L361.2 396.9L362 396.8L362.8 396.4L363.6 395.7L364.4 394.6L365.2 394L366 393.8L366.8 393.9L367.6 393.8L368.4 393.5L369.2 392.8L370 391.7L370.8 391L371.6 390.8L372.4 390.4L373.2 390L374 389.7L374.8 389.2L375.6 388.5L376.4 388.2L377.2 388.2L378 388.2L378.2 388.2L378.2 409.7Z"/>
</g>
<g fill="#000" fill-opacity="0.8">
<circle cx="354.8" cy="392.1" r="3.45"/>
<circle cx="356.4" cy="392.8" r="3.45"/>
<circle cx="357.6" cy="393.9" r="3.45"/>
<circle cx="358.5" cy="395.5" r="3.45"/>
<circle cx="359.7" cy="396.6" r="3.45"/>
<circle cx="361.2" cy="397.1" r="3.45"/>
<circle cx="363" cy="396.9" r="3.45"/>
<circle cx="364" cy="395.2" r="3.45"/>
<circle cx="365.2" cy="394.1" r="3.45"/>
<circle cx="366.9" cy="394" r="3.45"/>
<circle cx="368.5" cy="393.8" r="3.45"/>
<circle cx="369.7" cy="392.2" r="3.45"/>
<circle cx="371.2" cy="391.2" r="3.45"/>
<circle cx="372.6" cy="390.4" r="3.45"/>
<circle cx="374.3" cy="390.1" r="3.45"/>
<circle cx="375.4" cy="389" r="3.45"/>
</g>
<g fill="#000" fill-opacity="0.8">
<circle cx="355.7" cy="370.5" r="3.45"/>
<circle cx="375.6" cy="368.3" r="3.45"/>
<circle cx="378.9" cy="375.5" r="3.45"/>
<circle cx="378.2" cy="380.8" r="3.45"/>
<circle cx="355.7" cy="389.1" r="3.45"/>
<circle cx="365.1" cy="391.3" r="3.45"/>
<circle cx="369.5" cy="389.1" r="3.45"/>
</g>
<g fill="#bebebe"><path d="M378.2 409.7L378.2 389.7L379 389.7L379.8 389.7L380.6 389.7L381.4 388.9L382.2 387.5L383 385.8L383.8 386.3L384.6 386.8L385.4 387.2L386.2 387.7L387 388.2L387.8 388.5L388.6 388.6L389.4 388.5L390.2 388.1L391 387.3L391.8 386.1L392.6 386L393.4 386.1L394.2 386.3L395 386.2L395.8 386.2L396.6 386.8L397.4 387.1L398.2 387.2L399 387L399.8 386.6L400.6 386.5L401.4 386.5L402.2 386.5L402.3 386.5L402.3 409.7Z"/>
</g>
<g fill="#bebebe" fill-opacity="0.8">
<circle cx="380.6" cy="390" r="3.45"/>
<circle cx="381.9" cy="388.5" r="3.45"/>
<circle cx="382.5" cy="387.2" r="3.45"/>
<circle cx="384.1" cy="386.9" r="3.45"/>
<circle cx="385.8" cy="387.6" r="3.45"/>
<circle cx="387.2" cy="388.5" r="3.45"/>
<circle cx="388.9" cy="389.1" r="3.45"/>
<circle cx="390.2" cy="388.5" r="3.45"/>
<circle cx="391.6" cy="386.8" r="3.45"/>
<circle cx="392.8" cy="386.1" r="3.45"/>
<circle cx="394.9" cy="386.2" r="3.45"/>
<circle cx="396.5" cy="386.8" r="3.45"/>
<circle cx="398" cy="387.2" r="3.45"/>
<circle cx="399.4" cy="387.1" r="3.45"/>
</g>
<g fill="#bebebe" fill-opacity="0.8">
<circle cx="382.6" cy="383.6" r="3.45"/>
<circle cx="391.4" cy="384.7" r="3.45"/>
</g>
<g fill="#000"><path d="M402 409.7L402 396L402.8 396L403.6 396L404.4 396L405.2 394.7L406 394.4L406.8 393.9L407.6 393.6L408.4 393.5L409.2 393.2L410 393.8L410.8 394.1L411.6 394.2L412.4 394.2L413.2 395.2L414 396.7L414.8 397.3L415.6 397.3L416.4 397.2L417.2 396.9L418 396.4L418.8 395.4L419.6 393.8L420.4 393.8L421.2 393.8L422 393.8L422 393.8L422 409.7Z"/>
</g>
<g fill="#000" fill-opacity="0.8">
<circle cx="404.4" cy="396.4" r="3.45"/>
<circle cx="405.7" cy="395.3" r="3.45"/>
<circle cx="406.8" cy="393.9" r="3.45"/>
<circle cx="408.7" cy="393.8" r="3.45"/>
<circle cx="410.1" cy="394.2" r="3.45"/>
<circle cx="411.8" cy="394.4" r="3.45"/>
<circle cx="413" cy="395.3" r="3.45"/>
<circle cx="414.3" cy="396.9" r="3.45"/>
<circle cx="415.8" cy="397.4" r="3.45"/>
<circle cx="417.3" cy="396.9" r="3.45"/>
<circle cx="418.6" cy="395.8" r="3.45"/>
</g>
<g fill="#000" fill-opacity="0.8">
<circle cx="407.1" cy="379.9" r="3.45"/>
<circle cx="418.1" cy="383.6" r="3.45"/>
<circle cx="421.6" cy="376.6" r="3.45"/>
<circle cx="407.8" cy="391.3" r="3.45"/>
<circle cx="413.2" cy="397.9" r="3.45"/>
<circle cx="420.5" cy="390.2" r="3.45"/>
</g>
<g fill="#bebebe"><path d="M422 409.7L422 388.5L422.8 388.5L423.6 388.5L424.4 388.5L425.2 388.1L426 387.7L426.8 387.8L427.6 387.6L428.4 387.3L429.2 387L430 386.7L430.8 386.3L431.6 387.2L432.4 388L433.2 389.2L434 390.3L434.8 391.3L435.6 392.1L436.4 392.6L437.2 392.6L438 392.3L438.8 391.7L439.6 390.4L440.4 388.8L441.2 386.5L442 384.4L442.8 383.8L443.6 383.2L444.4 382.4L445.2 381.5L446 380.7L446.8 381L447.6 381L448.4 381L449.2 381L450 381L450 381L450 409.7Z"/>
</g>
<g fill="#bebebe" fill-opacity="0.8">
<circle cx="424.4" cy="388.8" r="3.45"/>
<circle cx="425.8" cy="388" r="3.45"/>
<circle cx="427.6" cy="388.1" r="3.45"/>
<circle cx="429.2" cy="387.1" r="3.45"/>
<circle cx="431" cy="386.8" r="3.45"/>
<circle cx="432.1" cy="387.7" r="3.45"/>
<circle cx="432.9" cy="389" r="3.45"/>
<circle cx="433.8" cy="390.3" r="3.45"/>
<circle cx="435" cy="391.9" r="3.45"/>
<circle cx="436.4" cy="392.8" r="3.45"/>
<circle cx="437.8" cy="392.6" r="3.45"/>
<circle cx="439.3" cy="391.2" r="3.45"/>
<circle cx="440.1" cy="389.9" r="3.45"/>
<circle cx="440.9" cy="388.4" r="3.45"/>
<circle cx="441.3" cy="386.5" r="3.45"/>
<circle cx="441.8" cy="385" r="3.45"/>
<circle cx="443.4" cy="383.8" r="3.45"/>
<circle cx="444.3" cy="382.6" r="3.45"/>
<circle cx="445.4" cy="381.7" r="3.45"/>
<circle cx="447" cy="381.4" r="3.45"/>
</g>
<g fill="#bebebe" fill-opacity="0.8">
<circle cx="447.4" cy="374.9" r="3.45"/>
<circle cx="425.9" cy="385.4" r="3.45"/>
<circle cx="432.5" cy="384.3" r="3.45"/>
<circle cx="441.3" cy="381.5" r="3.45"/>
</g>
<g fill="#000"><path d="M444.6 409.7L444.6 391.6L445.4 391.6L446.2 391.6L447 391.6L447.8 390.8L448.6 390.5L449.4 391.4L450.2 391.9L451 392.1L451.8 392.1L452.6 392.5L453.4 393L454.2 394.1L455 394.9L455.8 395.4L456.6 395.7L457.4 396.4L458.2 396.8L459 397L459.8 397L460.6 396.8L461.4 396.4L462.2 395.5L463 394.3L463.8 393.2L464.6 392.1L465.4 390.8L466.2 390.5L467 390L467.8 389.6L468.6 389.6L469.4 389.6L469.7 389.6L469.7 409.7Z"/>
</g>
<g fill="#000" fill-opacity="0.8">
<circle cx="447" cy="391.8" r="3.45"/>
<circle cx="448.2" cy="390.6" r="3.45"/>
<circle cx="449.4" cy="392.1" r="3.45"/>
<circle cx="451.3" cy="392.7" r="3.45"/>
<circle cx="452.6" cy="393.1" r="3.45"/>
<circle cx="453.9" cy="394.3" r="3.45"/>
<circle cx="455.2" cy="395.3" r="3.45"/>
<circle cx="456.9" cy="395.7" r="3.45"/>
<circle cx="458.2" cy="397.3" r="3.45"/>
<circle cx="459.8" cy="397.4" r="3.45"/>
<circle cx="461.5" cy="396.5" r="3.45"/>
<circle cx="462.5" cy="395.5" r="3.45"/>
<circle cx="463.4" cy="394.1" r="3.45"/>
<circle cx="464.3" cy="392.6" r="3.45"/>
<circle cx="465.3" cy="391.3" r="3.45"/>
<circle cx="466.7" cy="390.4" r="3.45"/>
</g>
<g fill="#000" fill-opacity="0.8">
<circle cx="448.3" cy="388" r="3.45"/>
<circle cx="452.7" cy="390.2" r="3.45"/>
<circle cx="463.2" cy="389.8" r="3.45"/>
<circle cx="468.2" cy="384.1" r="3.45"/>
<circle cx="472.4" cy="383.6" r="3.45"/>
</g>
<g fill="#bebebe"><path d="M469.7 409.7L469.7 388.4L470.5 388.4L471.3 388.4L472.1 388.4L472.9 388.1L473.7 389.4L474.5 391.9L475.3 394.3L476.1 395.7L476.9 396.7L477.7 397.1L478.5 397.3L479.3 397.1L480.1 396.7L480.9 396.7L481.7 396.6L482.5 396.2L483.3 395.8L484.1 395.4L484.9 394.6L485.7 393.2L486.5 391.6L487.3 391.1L488.1 390.6L488.9 389.5L489.7 389L490.5 389L491.3 389L491.6 389L491.6 409.7Z"/>
</g>
<g fill="#bebebe" fill-opacity="0.8">
<circle cx="472.1" cy="388.5" r="3.45"/>
<circle cx="473.7" cy="389.6" r="3.45"/>
<circle cx="474.3" cy="391.2" r="3.45"/>
<circle cx="474.7" cy="392.7" r="3.45"/>
<circle cx="475.1" cy="394.7" r="3.45"/>
<circle cx="476.1" cy="395.9" r="3.45"/>
<circle cx="477.2" cy="397.4" r="3.45"/>
<circle cx="478.8" cy="397.3" r="3.45"/>
<circle cx="480.6" cy="397" r="3.45"/>
<circle cx="482.2" cy="396.8" r="3.45"/>
<circle cx="483.9" cy="396.2" r="3.45"/>
<circle cx="484.7" cy="394.7" r="3.45"/>
<circle cx="485.9" cy="393.5" r="3.45"/>
<circle cx="486.5" cy="391.6" r="3.45"/>
<circle cx="488" cy="390.7" r="3.45"/>
<circle cx="489" cy="389.7" r="3.45"/>
</g>
<g fill="#bebebe" fill-opacity="0.8">
<circle cx="473.7" cy="385.8" r="3.45"/>
<circle cx="489.5" cy="370.9" r="3.45"/>
<circle cx="489.5" cy="380.4" r="3.45"/>
<circle cx="486.2" cy="389.1" r="3.45"/>
</g>
<g fill="#000"><path d="M486.2 409.7L486.2 395.8L487 395.8L487.8 395.8L488.6 395.8L489.4 394.7L490.2 393.4L491 391.7L491.8 391.5L492.6 391.1L493.4 390.4L494.2 389.3L495 388.3L495.8 387.6L496.6 387.3L497.4 387.2L498.2 386.9L499 386.2L499.8 386.5L500.6 386.6L501.4 386.5L502.2 386.3L503 386.1L503.8 385.8L504.6 385.3L505.4 384.7L506.2 384.6L507 384.3L507.8 383.7L508.6 382.6L509.4 382L510.2 382.3L511 382.6L511.8 382.6L512.6 382.6L513.4 382.6L514.2 382.6L514.3 382.6L514.3 409.7Z"/>
</g>
<g fill="#000" fill-opacity="0.8">
<circle cx="488.6" cy="396.1" r="3.45"/>
<circle cx="489.8" cy="394.8" r="3.45"/>
<circle cx="490.3" cy="393.2" r="3.45"/>
<circle cx="491.5" cy="392" r="3.45"/>
<circle cx="492.8" cy="391.2" r="3.45"/>
<circle cx="493.9" cy="389.8" r="3.45"/>
<circle cx="495" cy="388.4" r="3.45"/>
<circle cx="496.5" cy="387.6" r="3.45"/>
<circle cx="498" cy="386.9" r="3.45"/>
<circle cx="499.9" cy="386.6" r="3.45"/>
<circle cx="501.4" cy="386.9" r="3.45"/>
<circle cx="503.1" cy="386.2" r="3.45"/>
<circle cx="504.6" cy="385.7" r="3.45"/>
<circle cx="506.1" cy="385" r="3.45"/>
<circle cx="507.9" cy="383.8" r="3.45"/>
<circle cx="508.7" cy="382.8" r="3.45"/>
<circle cx="510.5" cy="382.7" r="3.45"/>
</g>
<g fill="#000" fill-opacity="0.8">
<circle cx="497.1" cy="385.4" r="3.45"/>
<circle cx="502.6" cy="384.1" r="3.45"/>
<circle cx="508.7" cy="372" r="3.45"/>
<circle cx="510.7" cy="377.5" r="3.45"/>
</g>
<g fill="#bebebe"><path d="M514.2 409.7L514.2 391.5L515 391.5L515.8 391.5L516.6 391.5L517.4 392.4L518.2 393.6L519 394.6L519.8 395.8L520.6 397.4L521.4 398.7L522.2 399.4L523 399.6L523.8 399.7L524.6 399.4L525.4 398.6L526.2 398.1L527 398.1L527.8 398L528.6 397.9L529.4 397.8L530.2 397.4L531 396.4L531.8 394.8L532.6 393.2L533.4 392.7L534.2 391.8L535 390.3L535.8 388.5L536.6 388L537.4 387.8L538.2 387.8L539 387.8L539.8 387.8L539.8 387.8L539.8 409.7Z"/>
</g>
<g fill="#bebebe" fill-opacity="0.8">
<circle cx="516.6" cy="392" r="3.45"/>
<circle cx="517.6" cy="393.1" r="3.45"/>
<circle cx="518.7" cy="394.7" r="3.45"/>
<circle cx="519.6" cy="395.8" r="3.45"/>
<circle cx="520.5" cy="397.7" r="3.45"/>
<circle cx="521.2" cy="399.2" r="3.45"/>
<circle cx="522.8" cy="399.8" r="3.45"/>
<circle cx="524.5" cy="399.6" r="3.45"/>
<circle cx="525.5" cy="398.6" r="3.45"/>
<circle cx="527.3" cy="398.4" r="3.45"/>
<circle cx="529" cy="398.4" r="3.45"/>
<circle cx="530.6" cy="397" r="3.45"/>
<circle cx="531.4" cy="395.8" r="3.45"/>
<circle cx="532.1" cy="394.5" r="3.45"/>
<circle cx="533.3" cy="393.1" r="3.45"/>
<circle cx="534.5" cy="391.7" r="3.45"/>
<circle cx="535.1" cy="390.2" r="3.45"/>
<circle cx="536" cy="388.8" r="3.45"/>
</g>
<g fill="#bebebe" fill-opacity="0.8">
<circle cx="516.2" cy="385.8" r="3.45"/>
<circle cx="535" cy="386.9" r="3.45"/>
<circle cx="541.6" cy="382.5" r="3.45"/>
<circle cx="527.8" cy="394.6" r="3.45"/>
</g>
<g fill="#000"><path d="M539.4 409.7L539.4 394.8L540.2 394.8L541 394.8L541.8 394.8L542.6 392.7L543.4 391.3L544.2 390.5L545 390.7L545.8 392.1L546.6 393.1L547.4 393.7L548.2 393.9L549 394L549.8 394.2L550.6 394.8L551.4 396L552.2 397.1L553 397.5L553.8 397.6L554.6 397.4L555.4 397L556.2 396.2L557 395.1L557.8 395L558.6 394.6L559.4 394L560.2 393.9L561 393.9L561.8 393.9L561.8 393.9L561.8 409.7Z"/>
</g>
<g fill="#000" fill-opacity="0.8">
<circle cx="541.8" cy="395.2" r="3.45"/>
<circle cx="542.4" cy="393.7" r="3.45"/>
<circle cx="543.2" cy="391.8" r="3.45"/>
<circle cx="544.3" cy="390.6" r="3.45"/>
<circle cx="545.7" cy="391.8" r="3.45"/>
<circle cx="546.5" cy="393.6" r="3.45"/>
<circle cx="548.2" cy="393.9" r="3.45"/>
<circle cx="549.9" cy="394.7" r="3.45"/>
<circle cx="551" cy="395.5" r="3.45"/>
<circle cx="552" cy="397.1" r="3.45"/>
<circle cx="553.6" cy="398.1" r="3.45"/>
<circle cx="555.3" cy="397.6" r="3.45"/>
<circle cx="556.2" cy="396.1" r="3.45"/>
<circle cx="557.8" cy="395" r="3.45"/>
<circle cx="559.4" cy="394.2" r="3.45"/>
</g>
<g fill="#000" fill-opacity="0.8">
<circle cx="545.9" cy="386.9" r="3.45"/>
<circle cx="560.8" cy="390.6" r="3.45"/>
</g>
<g fill="#bebebe"><path d="M561.7 409.7L561.7 394L562.5 394L563.3 394L564.1 394L564.9 394.2L565.7 394.3L566.5 394L567.3 393.5L568.1 392.7L568.9 392.3L569.7 392.1L570.5 391.8L571.3 391.7L572.1 391.5L572.9 391L573.7 391.5L574.5 391.8L575.3 391.9L576.1 391.9L576.9 392.2L577.7 393L578.5 394.1L579.3 394.7L580.1 395L580.9 395.1L581.7 394.9L582.5 394.4L583.3 394.6L584.1 394.6L584.9 394.3L585.7 393.9L586.5 393.3L587.3 392.7L588.1 392L588.9 392.2L589.7 392.3L590.5 392.1L591.3 391.6L592.1 391.6L592.9 391.6L593.7 391.5L594.5 391.5L595.3 391.4L596.1 391.1L596.9 390.5L597.7 390.8L598.5 391.1L599.3 391.2L600.1 391.3L600.9 391.5L601.7 391.5L602.5 391.9L603.3 392.3L604.1 392.5L604.9 392.4L605.7 392.1L606.5 392.6L607.3 392.9L608.1 393.1L608.9 393.3L609.7 393.4L610.5 393.4L611.3 393.1L612.1 392.8L612.9 393.1L613.7 393.1L614.5 392.9L615.3 392.5L616.1 392.5L616.9 392.9L617.7 393.3L618.5 393.5L619.3 393.4L620.1 393.2L620.9 392.6L621.7 391.6L622.5 391.2L623.3 391.1L624.1 390.7L624.9 390.1L625.7 389.9L626.5 389.8L627.3 390.2L628.1 390.3L628.9 390.2L629.7 389.9L630.5 389.2L631.3 388.4L632.1 388.3L632.9 388.7L633.7 389L634.5 389.5L635.3 390.7L636.1 391.5L636.9 391.9L637.7 392L638.5 392L639.3 392.1L640.1 392.3L640.9 392.3L641.7 393L642.5 393.3L643.3 393.4L644.1 393.2L644.9 392.9L645.7 393.2L646.5 393.3L647.3 393.6L648.1 394.4L648.9 395.6L649.7 397.8L650.5 399.4L651.3 400.1L652.1 400.6L652.9 401.1L653.7 402L654.5 402.4L655.3 402.4L656.1 402.4L656.5 402.4L656.5 409.7Z"/>
</g>
<g fill="#bebebe" fill-opacity="0.8">
<circle cx="564.1" cy="394.5" r="3.45"/>
<circle cx="565.8" cy="394.5" r="3.45"/>
<circle cx="567.3" cy="393.5" r="3.45"/>
<circle cx="568.6" cy="392.9" r="3.45"/>
<circle cx="570.4" cy="392.4" r="3.45"/>
<circle cx="571.9" cy="391.7" r="3.45"/>
<circle cx="573.5" cy="391.9" r="3.45"/>
<circle cx="575.3" cy="392.2" r="3.45"/>
<circle cx="577" cy="392.6" r="3.45"/>
<circle cx="578" cy="394" r="3.45"/>
<circle cx="579.2" cy="395.2" r="3.45"/>
<circle cx="581" cy="395" r="3.45"/>
<circle cx="582.5" cy="394.9" r="3.45"/>
<circle cx="584.3" cy="394.9" r="3.45"/>
<circle cx="585.8" cy="393.9" r="3.45"/>
<circle cx="587.3" cy="393" r="3.45"/>
<circle cx="588.9" cy="392.7" r="3.45"/>
<circle cx="590.6" cy="392.3" r="3.45"/>
<circle cx="592.4" cy="391.9" r="3.45"/>
<circle cx="594" cy="391.5" r="3.45"/>
<circle cx="595.5" cy="391.7" r="3.45"/>
<circle cx="596.9" cy="391" r="3.45"/>
<circle cx="598.5" cy="391.5" r="3.45"/>
<circle cx="600.2" cy="391.9" r="3.45"/>
<circle cx="602" cy="392.1" r="3.45"/>
<circle cx="603.5" cy="392.7" r="3.45"/>
<circle cx="605.3" cy="392.4" r="3.45"/>
<circle cx="606.8" cy="393.3" r="3.45"/>
<circle cx="608.4" cy="393.8" r="3.45"/>
<circle cx="610.1" cy="393.4" r="3.45"/>
<circle cx="611.6" cy="393.3" r="3.45"/>
<circle cx="613.6" cy="393.3" r="3.45"/>
<circle cx="615.1" cy="392.7" r="3.45"/>
<circle cx="616.9" cy="393.3" r="3.45"/>
<circle cx="618.2" cy="393.5" r="3.45"/>
<circle cx="620.1" cy="393.2" r="3.45"/>
<circle cx="621.5" cy="392.2" r="3.45"/>
<circle cx="622.7" cy="391.6" r="3.45"/>
<circle cx="624.3" cy="390.8" r="3.45"/>
<circle cx="625.8" cy="390.4" r="3.45"/>
<circle cx="627.5" cy="390.8" r="3.45"/>
<circle cx="629.1" cy="390.6" r="3.45"/>
<circle cx="630.8" cy="389.2" r="3.45"/>
<circle cx="632" cy="388.6" r="3.45"/>
<circle cx="633.8" cy="389.1" r="3.45"/>
<circle cx="634.9" cy="390.3" r="3.45"/>
<circle cx="636.1" cy="391.9" r="3.45"/>
<circle cx="637.7" cy="392.4" r="3.45"/>
<circle cx="639.2" cy="392.6" r="3.45"/>
<circle cx="640.9" cy="393.1" r="3.45"/>
<circle cx="642.8" cy="393.8" r="3.45"/>
<circle cx="644.3" cy="393.3" r="3.45"/>
<circle cx="645.9" cy="393.7" r="3.45"/>
<circle cx="647.5" cy="394.5" r="3.45"/>
<circle cx="648.6" cy="395.5" r="3.45"/>
<circle cx="649.5" cy="397.1" r="3.45"/>
<circle cx="649.9" cy="398.4" r="3.45"/>
<circle cx="650.7" cy="399.9" r="3.45"/>
<circle cx="652.5" cy="401.1" r="3.45"/>
<circle cx="653.4" cy="402.4" r="3.45"/>
</g>
<g fill="#bebebe" fill-opacity="0.8">
<circle cx="574" cy="387.6" r="3.45"/>
<circle cx="591.9" cy="389.1" r="3.45"/>
<circle cx="600" cy="387.6" r="3.45"/>
<circle cx="618.2" cy="390.2" r="3.45"/>
<circle cx="629.6" cy="382.5" r="3.45"/>
<circle cx="633.5" cy="384.1" r="3.45"/>
<circle cx="647.8" cy="389.1" r="3.45"/>
<circle cx="565.7" cy="390.2" r="3.45"/>
<circle cx="565.2" cy="391.9" r="3.45"/>
<circle cx="569.3" cy="388.8" r="3.45"/>
<circle cx="571.5" cy="389.9" r="3.45"/>
<circle cx="574.3" cy="389.2" r="3.45"/>
<circle cx="577.2" cy="390.7" r="3.45"/>
<circle cx="578.4" cy="393" r="3.45"/>
<circle cx="581.5" cy="392.8" r="3.45"/>
<circle cx="582.4" cy="392.6" r="3.45"/>
<circle cx="585.3" cy="393.4" r="3.45"/>
<circle cx="587.4" cy="390.8" r="3.45"/>
<circle cx="589.8" cy="391" r="3.45"/>
<circle cx="593.6" cy="388.4" r="3.45"/>
<circle cx="597.1" cy="389.5" r="3.45"/>
<circle cx="599.6" cy="390.3" r="3.45"/>
<circle cx="601.4" cy="390.7" r="3.45"/>
<circle cx="603.1" cy="390.3" r="3.45"/>
<circle cx="606" cy="391.3" r="3.45"/>
<circle cx="608" cy="392.4" r="3.45"/>
<circle cx="611.3" cy="391.3" r="3.45"/>
<circle cx="612.9" cy="389.7" r="3.45"/>
<circle cx="616.9" cy="390.4" r="3.45"/>
<circle cx="618.7" cy="390.7" r="3.45"/>
<circle cx="620.5" cy="391.9" r="3.45"/>
<circle cx="623.3" cy="389.7" r="3.45"/>
<circle cx="625.7" cy="387.6" r="3.45"/>
<circle cx="628.7" cy="387.5" r="3.45"/>
<circle cx="630.6" cy="387.1" r="3.45"/>
<circle cx="635.1" cy="388.5" r="3.45"/>
<circle cx="637.3" cy="388.9" r="3.45"/>
<circle cx="639.7" cy="390.1" r="3.45"/>
<circle cx="641.4" cy="389.9" r="3.45"/>
<circle cx="644.6" cy="392.2" r="3.45"/>
<circle cx="647.2" cy="390.8" r="3.45"/>
<circle cx="648.2" cy="393.9" r="3.45"/>
<circle cx="649.9" cy="397.8" r="3.45"/>
</g>
<circle cx="129.9" cy="354.1" r="2.8" fill="#f00"/>
<circle cx="234.6" cy="332.2" r="3.1" fill="#f00" stroke="#111" stroke-width="0.8"/>
<circle cx="372.3" cy="348.4" r="3.1" fill="#f00" stroke="#111" stroke-width="0.8"/>
<circle cx="401.4" cy="362.8" r="2.8" fill="#f00"/>
<circle cx="424.9" cy="361.3" r="3.1" fill="#f00" stroke="#111" stroke-width="0.8"/>
<circle cx="464.3" cy="344.7" r="3.1" fill="#f00" stroke="#111" stroke-width="0.8"/>
<circle cx="491" cy="354.3" r="3.1" fill="#f00" stroke="#111" stroke-width="0.8"/>
<circle cx="534.8" cy="317.9" r="2.8" fill="#f00"/>
<rect x="153.8" y="311.6" width="7.3" height="97.1" fill="#ffa500" fill-opacity="0.5"/>
<rect x="154.0" y="311.6" width="4.9" height="97.1" fill="#ffa500" fill-opacity="0.5"/>
<rect x="255.0" y="311.6" width="5.4" height="97.1" fill="#ffa500" fill-opacity="0.5"/>
<rect x="397.0" y="311.6" width="5.4" height="97.1" fill="#ffa500" fill-opacity="0.5"/>
<rect x="401.2" y="311.6" width="5.7" height="97.1" fill="#ffa500" fill-opacity="0.5"/>
<rect x="508.7" y="311.6" width="5.6" height="97.1" fill="#ffa500" fill-opacity="0.5"/>
<path d="M66 375.5H653.7" stroke="#000" stroke-width="1.25"/>
</g>
<g font-family="Liberation Sans, Arial, sans-serif" font-size="10.7" fill="#484848" text-anchor="end">
<path d="M33.3 408.60H37.9" stroke="#333" stroke-width="1.2"/>
<text x="30.4" y="412.90">0</text>
<path d="M33.3 385.76H37.9" stroke="#333" stroke-width="1.2"/>
<text x="30.4" y="390.06">2</text>
<path d="M33.3 362.92H37.9" stroke="#333" stroke-width="1.2"/>
<text x="30.4" y="367.22">4</text>
<path d="M33.3 340.08H37.9" stroke="#333" stroke-width="1.2"/>
<text x="30.4" y="344.38">6</text>
<path d="M33.3 317.24H37.9" stroke="#333" stroke-width="1.2"/>
<text x="30.4" y="321.54">8</text>
</g>
<text x="682.8" y="299.9" font-family="Liberation Sans, Arial, sans-serif" font-size="18.7" fill="#000" text-anchor="end">2018</text>
<g clip-path="url(#c3)">
<path d="M37.8 539.08H683" stroke="#f0f0f0" stroke-width="0.8"/>
<path d="M37.8 516.24H683" stroke="#f0f0f0" stroke-width="0.8"/>
<path d="M37.8 493.40H683" stroke="#f0f0f0" stroke-width="0.8"/>
<path d="M37.8 470.56H683" stroke="#f0f0f0" stroke-width="0.8"/>
<path d="M37.8 550.50H683" stroke="#e8e8e8" stroke-width="1.4"/>
<path d="M37.8 527.66H683" stroke="#e8e8e8" stroke-width="1.4"/>
<path d="M37.8 504.82H683" stroke="#e8e8e8" stroke-width="1.4"/>
<path d="M37.8 481.98H683" stroke="#e8e8e8" stroke-width="1.4"/>
<path d="M37.8 459.14H683" stroke="#e8e8e8" stroke-width="1.4"/>
<g fill="#000"><path d="M63.3 551.6L63.3 527.4L64.1 527.4L64.9 527.4L65.7 527.4L66.5 527L67.3 526.7L68.1 526.9L68.9 527.5L69.7 531.5L70.5 535.5L71.3 538L72.1 539.9L72.9 541.1L73.7 541.9L74.5 542.6L75.3 543.1L76.1 543.1L76.9 542.8L77.7 542.2L78.5 541.1L79.3 540L80.1 538.5L80.9 537.1L81.7 536.4L82.5 536.4L83.3 536.4L84.1 536.4L84.2 536.4L84.2 551.6Z"/>
</g>
<g fill="#000" fill-opacity="0.8">
<circle cx="65.7" cy="527.7" r="3.45"/>
<circle cx="67.4" cy="527.3" r="3.45"/>
<circle cx="68.9" cy="527.9" r="3.45"/>
<circle cx="69.1" cy="529.6" r="3.45"/>
<circle cx="69.7" cy="531.3" r="3.45"/>
<circle cx="69.7" cy="532.9" r="3.45"/>
<circle cx="70.2" cy="534.3" r="3.45"/>
<circle cx="70.8" cy="536.2" r="3.45"/>
<circle cx="71.2" cy="537.5" r="3.45"/>
<circle cx="71.8" cy="539.6" r="3.45"/>
<circle cx="72.7" cy="541" r="3.45"/>
<circle cx="73.8" cy="542.3" r="3.45"/>
<circle cx="74.9" cy="543.2" r="3.45"/>
<circle cx="76.7" cy="543.5" r="3.45"/>
<circle cx="78" cy="542" r="3.45"/>
<circle cx="79.1" cy="540.8" r="3.45"/>
<circle cx="80" cy="539.1" r="3.45"/>
<circle cx="80.8" cy="538" r="3.45"/>
</g>
<g fill="#000" fill-opacity="0.8">
<circle cx="67" cy="509.9" r="3.45"/>
<circle cx="67" cy="525.6" r="3.45"/>
<circle cx="85.7" cy="525.6" r="3.45"/>
</g>
<g fill="#bebebe"><path d="M84.1 551.6L84.1 527.6L84.9 527.6L85.7 527.6L86.5 527.6L87.3 527.5L88.1 527.2L88.9 527.4L89.7 529.8L90.5 531.9L91.3 533.3L92.1 534.5L92.9 535.8L93.7 537.2L94.5 538.2L95.3 538.8L96.1 539.3L96.9 540.2L97.7 540.8L98.5 541.1L99.3 541L100.1 540.6L100.9 539.9L101.7 539.2L102.5 538.8L103.3 538.1L104.1 536.8L104.9 534.8L105.7 533.8L106.5 533.4L107.3 533.4L108.1 533.4L108.7 533.4L108.7 551.6Z"/>
</g>
<g fill="#bebebe" fill-opacity="0.8">
<circle cx="86.5" cy="527.7" r="3.45"/>
<circle cx="88.1" cy="527.2" r="3.45"/>
<circle cx="89.2" cy="529" r="3.45"/>
<circle cx="89.9" cy="530.5" r="3.45"/>
<circle cx="90.4" cy="532.1" r="3.45"/>
<circle cx="91.3" cy="533.5" r="3.45"/>
<circle cx="92.3" cy="535" r="3.45"/>
<circle cx="93" cy="536" r="3.45"/>
<circle cx="94" cy="537.9" r="3.45"/>
<circle cx="95.1" cy="539" r="3.45"/>
<circle cx="96.6" cy="540.2" r="3.45"/>
<circle cx="97.5" cy="541.1" r="3.45"/>
<circle cx="99.2" cy="541" r="3.45"/>
<circle cx="100.9" cy="540.2" r="3.45"/>
<circle cx="102.2" cy="539.3" r="3.45"/>
<circle cx="103.4" cy="538" r="3.45"/>
<circle cx="104.2" cy="536.9" r="3.45"/>
<circle cx="105" cy="535" r="3.45"/>
<circle cx="105.9" cy="533.7" r="3.45"/>
</g>
<g fill="#bebebe" fill-opacity="0.8">
<circle cx="89.6" cy="525.2" r="3.45"/>
<circle cx="107.6" cy="528.3" r="3.45"/>
<circle cx="111.9" cy="507.5" r="3.45"/>
</g>
<g fill="#000"><path d="M108.7 551.6L108.7 527.7L109.5 527.7L110.3 527.7L111.1 527.7L111.9 528L112.7 528.2L113.5 528.2L114.3 530.2L115.1 534.1L115.9 536.5L116.7 538.1L117.5 539L118.3 539.7L119.1 540L119.9 539.9L120.7 539.7L121.5 539L122.3 537.3L123.1 536.1L123.9 534.8L124.7 534.8L125.5 534.8L126.3 534.8L126.3 534.8L126.3 551.6Z"/>
</g>
<g fill="#000" fill-opacity="0.8">
<circle cx="111.1" cy="528.2" r="3.45"/>
<circle cx="112.6" cy="528.6" r="3.45"/>
<circle cx="113.8" cy="529.9" r="3.45"/>
<circle cx="114.4" cy="531.2" r="3.45"/>
<circle cx="115" cy="532.9" r="3.45"/>
<circle cx="115.1" cy="534.9" r="3.45"/>
<circle cx="115.7" cy="536.5" r="3.45"/>
<circle cx="116.3" cy="537.8" r="3.45"/>
<circle cx="117.6" cy="539.2" r="3.45"/>
<circle cx="119" cy="540" r="3.45"/>
<circle cx="120.6" cy="540" r="3.45"/>
<circle cx="121.7" cy="538.7" r="3.45"/>
<circle cx="122.3" cy="537.7" r="3.45"/>
<circle cx="123.3" cy="536.2" r="3.45"/>
</g>
<g fill="#000" fill-opacity="0.8">
<circle cx="112.4" cy="525.6" r="3.45"/>
<circle cx="125.1" cy="526.7" r="3.45"/>
<circle cx="117.4" cy="533.3" r="3.45"/>
</g>
<g fill="#bebebe"><path d="M126.3 551.6L126.3 524.6L127.1 524.6L127.9 524.6L128.7 524.6L129.5 524.4L130.3 524.2L131.1 523.9L131.9 523.5L132.7 524.2L133.5 525.1L134.3 525.6L135.1 528.6L135.9 532.2L136.7 535.7L137.5 538.5L138.3 540.1L139.1 541.3L139.9 542L140.7 542.3L141.5 542.6L142.3 542.8L143.1 542.8L143.9 542.4L144.7 541.5L145.5 540.4L146.3 539.1L147.1 537.3L147.9 535.4L148.7 532.9L149.5 530.2L150.3 527.6L151.1 526.2L151.9 525.9L152.7 525.9L153.5 525.9L154 525.9L154 551.6Z"/>
</g>
<g fill="#bebebe" fill-opacity="0.8">
<circle cx="128.7" cy="524.9" r="3.45"/>
<circle cx="130.5" cy="524.5" r="3.45"/>
<circle cx="131.9" cy="524" r="3.45"/>
<circle cx="133.3" cy="525.1" r="3.45"/>
<circle cx="134.1" cy="526.3" r="3.45"/>
<circle cx="134.8" cy="528.1" r="3.45"/>
<circle cx="135.2" cy="529.6" r="3.45"/>
<circle cx="135.7" cy="531.1" r="3.45"/>
<circle cx="136" cy="532.9" r="3.45"/>
<circle cx="136.5" cy="534.5" r="3.45"/>
<circle cx="136.7" cy="536.4" r="3.45"/>
<circle cx="136.9" cy="538" r="3.45"/>
<circle cx="137.9" cy="539.4" r="3.45"/>
<circle cx="138.6" cy="541" r="3.45"/>
<circle cx="139.9" cy="542.3" r="3.45"/>
<circle cx="141.4" cy="542.5" r="3.45"/>
<circle cx="142.9" cy="542.8" r="3.45"/>
<circle cx="144.6" cy="542.4" r="3.45"/>
<circle cx="145.3" cy="540.8" r="3.45"/>
<circle cx="146.3" cy="539" r="3.45"/>
<circle cx="147" cy="537.9" r="3.45"/>
<circle cx="147.7" cy="536.1" r="3.45"/>
<circle cx="148.3" cy="534.5" r="3.45"/>
<circle cx="148.8" cy="532.9" r="3.45"/>
<circle cx="149.4" cy="531.4" r="3.45"/>
<circle cx="149.9" cy="529.8" r="3.45"/>
<circle cx="150.2" cy="528.4" r="3.45"/>
<circle cx="151.1" cy="526.7" r="3.45"/>
</g>
<g fill="#bebebe" fill-opacity="0.8">
<circle cx="132.1" cy="520.8" r="3.45"/>
<circle cx="150.7" cy="519.7" r="3.45"/>
<circle cx="148.1" cy="526.7" r="3.45"/>
<circle cx="129.5" cy="524.5" r="3.45"/>
</g>
<g fill="#000"><path d="M154 551.6L154 526.5L154.8 526.5L155.6 526.5L156.4 526.5L157.2 525.9L158 526L158.8 526L159.6 526.1L160.4 526L161.2 527.1L162 528.6L162.8 529.6L163.6 530.1L164.4 530.3L165.2 530.2L166 530.6L166.8 531.2L167.6 531.9L168.4 532.3L169.2 532.2L170 532L170.8 531.3L171.6 529.7L172.4 527.1L173.2 524.5L174 522.8L174.8 521.5L175.6 520L176.4 519.5L177.2 520.1L178 521.2L178.8 529.2L179.6 534.4L180.4 535.7L181.2 536.1L182 536.1L182.8 536.1L183.3 536.1L183.3 551.6Z"/>
</g>
<g fill="#000" fill-opacity="0.8">
<circle cx="156.4" cy="527" r="3.45"/>
<circle cx="158.1" cy="526.3" r="3.45"/>
<circle cx="159.6" cy="526.4" r="3.45"/>
<circle cx="161.3" cy="527.2" r="3.45"/>
<circle cx="162" cy="528.7" r="3.45"/>
<circle cx="163" cy="529.8" r="3.45"/>
<circle cx="164.7" cy="530.5" r="3.45"/>
<circle cx="166.6" cy="531.4" r="3.45"/>
<circle cx="167.5" cy="532.1" r="3.45"/>
<circle cx="169.5" cy="532.3" r="3.45"/>
<circle cx="170.7" cy="531.6" r="3.45"/>
<circle cx="171.4" cy="529.9" r="3.45"/>
<circle cx="172" cy="528.4" r="3.45"/>
<circle cx="172.7" cy="526.7" r="3.45"/>
<circle cx="172.9" cy="525.4" r="3.45"/>
<circle cx="173.7" cy="523.8" r="3.45"/>
<circle cx="174.6" cy="522.3" r="3.45"/>
<circle cx="175.3" cy="520.4" r="3.45"/>
<circle cx="177.1" cy="520.4" r="3.45"/>
<circle cx="177.6" cy="522.1" r="3.45"/>
<circle cx="178.1" cy="523.6" r="3.45"/>
<circle cx="178.3" cy="525.6" r="3.45"/>
<circle cx="178.5" cy="526.9" r="3.45"/>
<circle cx="178.8" cy="528.6" r="3.45"/>
<circle cx="179" cy="530.2" r="3.45"/>
<circle cx="179.2" cy="532.2" r="3.45"/>
<circle cx="179.2" cy="534.1" r="3.45"/>
<circle cx="179.8" cy="535.3" r="3.45"/>
</g>
<g fill="#000" fill-opacity="0.8">
<circle cx="161.9" cy="523.5" r="3.45"/>
<circle cx="176.5" cy="520.2" r="3.45"/>
<circle cx="166.7" cy="529.6" r="3.45"/>
<circle cx="182" cy="525.6" r="3.45"/>
<circle cx="177.2" cy="519.1" r="3.45"/>
<circle cx="182.7" cy="525.6" r="3.45"/>
</g>
<g fill="#bebebe"><path d="M182.8 551.6L182.8 529.7L183.6 529.7L184.4 529.7L185.2 529.7L186 529.2L186.8 529.1L187.6 531.1L188.4 532.4L189.2 533.2L190 534L190.8 534.9L191.6 535.9L192.4 536.5L193.2 536.9L194 537.2L194.8 537.6L195.6 537.9L196.4 538.2L197.2 538.5L198 538.9L198.8 539L199.6 538.9L200.4 538.6L201.2 537.9L202 537.4L202.8 537.5L203.6 537.8L204.4 537.8L205.2 537.8L205.7 537.8L205.7 551.6Z"/>
</g>
<g fill="#bebebe" fill-opacity="0.8">
<circle cx="185.2" cy="530.1" r="3.45"/>
<circle cx="186.5" cy="529.2" r="3.45"/>
<circle cx="187.1" cy="530.4" r="3.45"/>
<circle cx="188" cy="532.4" r="3.45"/>
<circle cx="189.2" cy="533.5" r="3.45"/>
<circle cx="190.5" cy="534.4" r="3.45"/>
<circle cx="191.5" cy="536" r="3.45"/>
<circle cx="192.6" cy="536.9" r="3.45"/>
<circle cx="194.4" cy="537.6" r="3.45"/>
<circle cx="195.7" cy="538.5" r="3.45"/>
<circle cx="197.4" cy="539" r="3.45"/>
<circle cx="199.1" cy="539.5" r="3.45"/>
<circle cx="200.5" cy="538.5" r="3.45"/>
<circle cx="201.9" cy="537.8" r="3.45"/>
</g>
<g fill="#bebebe" fill-opacity="0.8">
<circle cx="188.6" cy="508.8" r="3.45"/>
<circle cx="189" cy="519.5" r="3.45"/>
<circle cx="185.9" cy="526.7" r="3.45"/>
<circle cx="200.6" cy="523" r="3.45"/>
<circle cx="188.8" cy="519.5" r="3.45"/>
<circle cx="200.8" cy="523" r="3.45"/>
<circle cx="185.9" cy="526.7" r="3.45"/>
</g>
<g fill="#000"><path d="M205.7 551.6L205.7 526.9L206.5 526.9L207.3 526.9L208.1 526.9L208.9 526.5L209.7 525.9L210.5 525.1L211.3 525.2L212.1 525.2L212.9 525.1L213.7 525.5L214.5 525.9L215.3 529.7L216.1 533.5L216.9 536.8L217.7 537.9L218.5 538L219.3 538.2L220.1 537.7L220.9 536.9L221.7 535.9L222.5 534.7L223.3 533L224.1 531.3L224.9 526.4L225.7 520.1L226.5 515.7L227.3 515.4L228.1 514.7L228.9 513.9L229.7 515L230.5 515.7L231.3 515.7L232.1 515.7L232.4 515.7L232.4 551.6Z"/>
</g>
<g fill="#000" fill-opacity="0.8">
<circle cx="208.1" cy="527.3" r="3.45"/>
<circle cx="209.5" cy="526.3" r="3.45"/>
<circle cx="210.9" cy="525.7" r="3.45"/>
<circle cx="212.8" cy="525.6" r="3.45"/>
<circle cx="214.1" cy="526.2" r="3.45"/>
<circle cx="214.9" cy="527.7" r="3.45"/>
<circle cx="215.3" cy="529.6" r="3.45"/>
<circle cx="215.6" cy="531.3" r="3.45"/>
<circle cx="215.9" cy="532.9" r="3.45"/>
<circle cx="216" cy="534.5" r="3.45"/>
<circle cx="216.5" cy="536.1" r="3.45"/>
<circle cx="217.1" cy="537.3" r="3.45"/>
<circle cx="218.8" cy="538.5" r="3.45"/>
<circle cx="220.2" cy="537.7" r="3.45"/>
<circle cx="221.3" cy="536.3" r="3.45"/>
<circle cx="222.5" cy="535.4" r="3.45"/>
<circle cx="223.3" cy="533.5" r="3.45"/>
<circle cx="223.9" cy="531.8" r="3.45"/>
<circle cx="224.4" cy="530.3" r="3.45"/>
<circle cx="224.4" cy="528.8" r="3.45"/>
<circle cx="224.7" cy="526.9" r="3.45"/>
<circle cx="224.9" cy="525.3" r="3.45"/>
<circle cx="225.3" cy="523.9" r="3.45"/>
<circle cx="225.3" cy="522.2" r="3.45"/>
<circle cx="225.5" cy="520.1" r="3.45"/>
<circle cx="225.9" cy="518.5" r="3.45"/>
<circle cx="226.1" cy="517" r="3.45"/>
<circle cx="227.1" cy="515.8" r="3.45"/>
<circle cx="228.4" cy="514.7" r="3.45"/>
<circle cx="229.9" cy="515.6" r="3.45"/>
</g>
<g fill="#000" fill-opacity="0.8">
<circle cx="210" cy="524.5" r="3.45"/>
<circle cx="215.5" cy="524.1" r="3.45"/>
<circle cx="227.1" cy="510.3" r="3.45"/>
<circle cx="233.7" cy="508.8" r="3.45"/>
<circle cx="228.2" cy="514.7" r="3.45"/>
<circle cx="226.5" cy="521.3" r="3.45"/>
<circle cx="221" cy="531.1" r="3.45"/>
</g>
<g fill="#bebebe"><path d="M232.4 551.6L232.4 520.1L233.2 520.1L234 520.1L234.8 520.1L235.6 519.7L236.4 519.6L237.2 519.8L238 527.5L238.8 535.2L239.6 536.2L240.4 536.4L241.2 536.6L242 536.9L242.8 537L243.6 536.8L244.4 536.4L245.2 535.6L246 535.6L246.8 536.3L247.6 536.7L248.4 536.7L249.2 536.6L250 536.2L250.8 532.6L251.6 518L252.4 517.3L253.2 517.1L254 516.6L254.8 515.6L255.6 515.2L256.4 515.9L257.2 516.3L258 516.5L258.8 516.8L259.6 516.9L260.4 516.9L261.2 516.9L261.3 516.9L261.3 551.6Z"/>
</g>
<g fill="#bebebe" fill-opacity="0.8">
<circle cx="234.8" cy="520.4" r="3.45"/>
<circle cx="236.4" cy="519.8" r="3.45"/>
<circle cx="237.5" cy="521.5" r="3.45"/>
<circle cx="237.6" cy="523" r="3.45"/>
<circle cx="237.8" cy="524.8" r="3.45"/>
<circle cx="237.8" cy="526.7" r="3.45"/>
<circle cx="238.2" cy="528.4" r="3.45"/>
<circle cx="238.3" cy="529.8" r="3.45"/>
<circle cx="238.4" cy="531.3" r="3.45"/>
<circle cx="238.3" cy="533.1" r="3.45"/>
<circle cx="238.6" cy="535.1" r="3.45"/>
<circle cx="239.6" cy="536.4" r="3.45"/>
<circle cx="241.1" cy="536.7" r="3.45"/>
<circle cx="242.7" cy="537.1" r="3.45"/>
<circle cx="244.2" cy="536.8" r="3.45"/>
<circle cx="245.9" cy="535.9" r="3.45"/>
<circle cx="247.2" cy="537.1" r="3.45"/>
<circle cx="248.9" cy="536.8" r="3.45"/>
<circle cx="250.4" cy="536" r="3.45"/>
<circle cx="250.8" cy="534.3" r="3.45"/>
<circle cx="250.9" cy="532.7" r="3.45"/>
<circle cx="250.9" cy="530.9" r="3.45"/>
<circle cx="250.8" cy="528.9" r="3.45"/>
<circle cx="250.9" cy="527.6" r="3.45"/>
<circle cx="251.3" cy="525.8" r="3.45"/>
<circle cx="251.2" cy="523.9" r="3.45"/>
<circle cx="251.2" cy="522.4" r="3.45"/>
<circle cx="251.6" cy="520.5" r="3.45"/>
<circle cx="251.4" cy="518.7" r="3.45"/>
<circle cx="252.6" cy="517.9" r="3.45"/>
<circle cx="254.2" cy="516.7" r="3.45"/>
<circle cx="255" cy="515.2" r="3.45"/>
<circle cx="256.4" cy="516.5" r="3.45"/>
<circle cx="258.2" cy="517" r="3.45"/>
</g>
<g fill="#bebebe" fill-opacity="0.8">
<circle cx="235.9" cy="518.6" r="3.45"/>
<circle cx="244.4" cy="531.1" r="3.45"/>
<circle cx="253.4" cy="511" r="3.45"/>
</g>
<g fill="#000"><path d="M261.3 551.6L261.3 532.8L262.1 532.8L262.9 532.8L263.7 532.8L264.5 532.3L265.3 531.3L266.1 532.9L266.9 534.2L267.7 535L268.5 536.4L269.3 538.3L270.1 539.3L270.9 539.8L271.7 540.1L272.5 540.1L273.3 540.3L274.1 540.7L274.9 540.6L275.7 540.4L276.5 539.7L277.3 536.7L278.1 532.8L278.9 530.6L279.7 529.9L280.5 529L281.3 528.9L282.1 530.1L282.9 530.1L283.7 530.1L284.5 530.1L284.5 530.1L284.5 551.6Z"/>
</g>
<g fill="#000" fill-opacity="0.8">
<circle cx="263.7" cy="533.3" r="3.45"/>
<circle cx="264.8" cy="531.7" r="3.45"/>
<circle cx="266.1" cy="533.2" r="3.45"/>
<circle cx="266.9" cy="534.5" r="3.45"/>
<circle cx="267.9" cy="536.2" r="3.45"/>
<circle cx="268.9" cy="537.8" r="3.45"/>
<circle cx="269.8" cy="539" r="3.45"/>
<circle cx="271" cy="540.1" r="3.45"/>
<circle cx="272.7" cy="540.5" r="3.45"/>
<circle cx="274" cy="540.7" r="3.45"/>
<circle cx="275.7" cy="540.6" r="3.45"/>
<circle cx="276.7" cy="538.8" r="3.45"/>
<circle cx="277.3" cy="537.6" r="3.45"/>
<circle cx="277.5" cy="535.5" r="3.45"/>
<circle cx="278" cy="534.2" r="3.45"/>
<circle cx="278.1" cy="532.4" r="3.45"/>
<circle cx="279" cy="531.2" r="3.45"/>
<circle cx="280.1" cy="529.8" r="3.45"/>
<circle cx="281.6" cy="529.9" r="3.45"/>
</g>
<g fill="#000" fill-opacity="0.8">
<circle cx="268.1" cy="513.2" r="3.45"/>
<circle cx="268.1" cy="525.6" r="3.45"/>
<circle cx="279" cy="519.1" r="3.45"/>
<circle cx="279.7" cy="525.6" r="3.45"/>
<circle cx="269.2" cy="531.1" r="3.45"/>
</g>
<g fill="#bebebe"><path d="M284.5 551.6L284.5 530.4L285.3 530.4L286.1 530.4L286.9 530.4L287.7 529.2L288.5 528.8L289.3 530.5L290.1 531.7L290.9 534.4L291.7 537.1L292.5 539.7L293.3 541.7L294.1 542.5L294.9 542.3L295.7 542.6L296.5 541.8L297.3 541L298.1 543L298.9 543.7L299.7 543.9L300.5 543.8L301.3 543.5L302.1 542.7L302.9 541.8L303.7 540.9L304.5 539.8L305.3 538.2L306.1 537L306.9 529.6L307.7 528.4L308.5 528.4L309.3 528.4L309.8 528.4L309.8 551.6Z"/>
</g>
<g fill="#bebebe" fill-opacity="0.8">
<circle cx="286.9" cy="530.8" r="3.45"/>
<circle cx="287.7" cy="529.1" r="3.45"/>
<circle cx="289.1" cy="530.5" r="3.45"/>
<circle cx="290.1" cy="532" r="3.45"/>
<circle cx="290.5" cy="533.3" r="3.45"/>
<circle cx="291.1" cy="534.9" r="3.45"/>
<circle cx="291.5" cy="536.7" r="3.45"/>
<circle cx="292.1" cy="538.5" r="3.45"/>
<circle cx="292.4" cy="540.1" r="3.45"/>
<circle cx="293.1" cy="541.6" r="3.45"/>
<circle cx="294.1" cy="543.1" r="3.45"/>
<circle cx="296" cy="542.3" r="3.45"/>
<circle cx="297.1" cy="541.7" r="3.45"/>
<circle cx="297.8" cy="542.9" r="3.45"/>
<circle cx="299.4" cy="544.2" r="3.45"/>
<circle cx="301" cy="544" r="3.45"/>
<circle cx="302.1" cy="542.5" r="3.45"/>
<circle cx="303.6" cy="541.7" r="3.45"/>
<circle cx="304.2" cy="539.9" r="3.45"/>
<circle cx="305.1" cy="538.9" r="3.45"/>
<circle cx="305.9" cy="537.2" r="3.45"/>
<circle cx="306.4" cy="535.6" r="3.45"/>
<circle cx="306.7" cy="533.6" r="3.45"/>
<circle cx="306.6" cy="531.8" r="3.45"/>
<circle cx="306.9" cy="530.2" r="3.45"/>
<circle cx="307.5" cy="528.9" r="3.45"/>
</g>
<g fill="#bebebe" fill-opacity="0.8">
<circle cx="287.3" cy="518.6" r="3.45"/>
<circle cx="287.8" cy="525" r="3.45"/>
<circle cx="293.2" cy="531.8" r="3.45"/>
<circle cx="301.6" cy="535.9" r="3.45"/>
<circle cx="307.9" cy="526.7" r="3.45"/>
<circle cx="301.6" cy="535.9" r="3.45"/>
<circle cx="307.5" cy="526.7" r="3.45"/>
</g>
<g fill="#000"><path d="M309.8 551.6L309.8 529.7L310.6 529.7L311.4 529.7L312.2 529.7L313 529.8L313.8 530L314.6 530L315.4 529.8L316.2 531.3L317 534.4L317.8 535.3L318.6 535.8L319.4 536.1L320.2 536.2L321 536.1L321.8 536.1L322.6 536.5L323.4 536.7L324.2 536.6L325 536.7L325.8 537.4L326.6 538.2L327.4 538.5L328.2 538.4L329 538.3L329.8 537.3L330.6 535.3L331.4 532.6L332.2 530.3L333 530.3L333.8 530.3L334.6 532.9L335.4 532.9L336.2 532.9L336.6 532.9L336.6 551.6Z"/>
</g>
<g fill="#000" fill-opacity="0.8">
<circle cx="312.2" cy="530" r="3.45"/>
<circle cx="313.7" cy="530.5" r="3.45"/>
<circle cx="315.7" cy="530.2" r="3.45"/>
<circle cx="316" cy="531.8" r="3.45"/>
<circle cx="316.6" cy="533.4" r="3.45"/>
<circle cx="317.2" cy="534.9" r="3.45"/>
<circle cx="318.4" cy="536.2" r="3.45"/>
<circle cx="319.8" cy="536.2" r="3.45"/>
<circle cx="321.7" cy="536.3" r="3.45"/>
<circle cx="323.3" cy="536.7" r="3.45"/>
<circle cx="325.1" cy="536.8" r="3.45"/>
<circle cx="326.4" cy="538.4" r="3.45"/>
<circle cx="327.9" cy="538.5" r="3.45"/>
<circle cx="329.5" cy="537.8" r="3.45"/>
<circle cx="330.2" cy="536.3" r="3.45"/>
<circle cx="331" cy="534.9" r="3.45"/>
<circle cx="331.2" cy="533" r="3.45"/>
<circle cx="331.8" cy="531.8" r="3.45"/>
<circle cx="333.2" cy="530.4" r="3.45"/>
</g>
<g fill="#000" fill-opacity="0.8">
<circle cx="313.6" cy="527.2" r="3.45"/>
<circle cx="321.3" cy="534" r="3.45"/>
<circle cx="332.7" cy="528.3" r="3.45"/>
<circle cx="336.6" cy="534.4" r="3.45"/>
</g>
<g fill="#bebebe"><path d="M335.5 551.6L335.5 537L336.3 537L337.1 537L337.9 537L338.7 535.5L339.5 533.2L340.3 530.6L341.1 529.2L341.9 529.5L342.7 529.6L343.5 529.4L344.3 530.6L345.1 531.9L345.9 533.1L346.7 533.7L347.5 534.1L348.3 534.3L349.1 535.1L349.9 536.3L350.7 536.4L351.5 536.4L352.3 536.4L352.4 536.4L352.4 551.6Z"/>
</g>
<g fill="#bebebe" fill-opacity="0.8">
<circle cx="337.9" cy="537.1" r="3.45"/>
<circle cx="338.7" cy="536.1" r="3.45"/>
<circle cx="339.4" cy="533.9" r="3.45"/>
<circle cx="339.6" cy="532.3" r="3.45"/>
<circle cx="340.4" cy="531" r="3.45"/>
<circle cx="341.5" cy="529.7" r="3.45"/>
<circle cx="343.2" cy="529.9" r="3.45"/>
<circle cx="344.4" cy="531.3" r="3.45"/>
<circle cx="345.4" cy="532.6" r="3.45"/>
<circle cx="346.6" cy="534" r="3.45"/>
<circle cx="348" cy="534.2" r="3.45"/>
<circle cx="349.3" cy="535.8" r="3.45"/>
</g>
<g fill="#bebebe" fill-opacity="0.8">
<circle cx="341.4" cy="515.4" r="3.45"/>
<circle cx="341.4" cy="526.7" r="3.45"/>
<circle cx="348.6" cy="531.8" r="3.45"/>
</g>
<g fill="#000"><path d="M352.4 551.6L352.4 534.7L353.2 534.7L354 534.7L354.8 534.7L355.6 535L356.4 536L357.2 538.7L358 540.4L358.8 540.9L359.6 541.3L360.4 542.1L361.2 542.6L362 542.8L362.8 542.8L363.6 542.8L364.4 542.8L365.2 542.5L366 542L366.8 541.4L367.6 540.5L368.4 539L369.2 537.4L370 536L370.8 534.2L371.6 532.8L372.4 532.3L373.2 531.4L374 530L374.8 529.1L375.6 528.7L376.4 528.1L377.2 527.4L378 526.4L378.8 520.9L379.6 516.5L380.4 522.6L381.2 522.6L382 522.6L382.6 522.6L382.6 551.6Z"/>
</g>
<g fill="#000" fill-opacity="0.8">
<circle cx="354.8" cy="535.3" r="3.45"/>
<circle cx="356.1" cy="536.2" r="3.45"/>
<circle cx="356.7" cy="537.5" r="3.45"/>
<circle cx="357.2" cy="539.2" r="3.45"/>
<circle cx="358" cy="540.7" r="3.45"/>
<circle cx="359.8" cy="541.7" r="3.45"/>
<circle cx="361.1" cy="542.9" r="3.45"/>
<circle cx="362.7" cy="543.4" r="3.45"/>
<circle cx="364.3" cy="542.9" r="3.45"/>
<circle cx="365.7" cy="542.3" r="3.45"/>
<circle cx="366.9" cy="541.2" r="3.45"/>
<circle cx="368.2" cy="540.2" r="3.45"/>
<circle cx="368.8" cy="538.6" r="3.45"/>
<circle cx="369.7" cy="537.1" r="3.45"/>
<circle cx="370.5" cy="535.4" r="3.45"/>
<circle cx="370.9" cy="534" r="3.45"/>
<circle cx="372.2" cy="532.7" r="3.45"/>
<circle cx="373.3" cy="531.3" r="3.45"/>
<circle cx="374.4" cy="529.7" r="3.45"/>
<circle cx="375.7" cy="529" r="3.45"/>
<circle cx="377" cy="528.1" r="3.45"/>
<circle cx="377.8" cy="526.6" r="3.45"/>
<circle cx="378.3" cy="525" r="3.45"/>
<circle cx="378.4" cy="522.9" r="3.45"/>
<circle cx="378.7" cy="521.6" r="3.45"/>
<circle cx="378.7" cy="519.5" r="3.45"/>
<circle cx="379.2" cy="518.3" r="3.45"/>
<circle cx="379.2" cy="516.3" r="3.45"/>
<circle cx="379.7" cy="518.1" r="3.45"/>
<circle cx="379.9" cy="519.8" r="3.45"/>
</g>
<g fill="#000" fill-opacity="0.8">
<circle cx="358.1" cy="520.6" r="3.45"/>
<circle cx="365.5" cy="530" r="3.45"/>
<circle cx="379.3" cy="514.3" r="3.45"/>
<circle cx="379.3" cy="520.2" r="3.45"/>
<circle cx="355.9" cy="532.2" r="3.45"/>
<circle cx="372.7" cy="528.9" r="3.45"/>
</g>
<g fill="#bebebe"><path d="M378.2 551.6L378.2 527.8L379 527.8L379.8 527.8L380.6 527.8L381.4 529.5L382.2 532.6L383 535.1L383.8 536.1L384.6 537.3L385.4 538.1L386.2 538.5L387 538.6L387.8 538.8L388.6 539.1L389.4 539.2L390.2 539L391 538.5L391.8 537.8L392.6 536.9L393.4 536.2L394.2 535.2L395 533.8L395.8 531.7L396.6 528.7L397.4 526.5L398.2 525.3L399 525.1L399.8 524.9L400.6 525.2L401.4 525.3L402.2 525.3L403 525.3L403.4 525.3L403.4 551.6Z"/>
</g>
<g fill="#bebebe" fill-opacity="0.8">
<circle cx="380.6" cy="528.2" r="3.45"/>
<circle cx="381.2" cy="529.5" r="3.45"/>
<circle cx="382" cy="531.4" r="3.45"/>
<circle cx="382.2" cy="533.1" r="3.45"/>
<circle cx="382.7" cy="534.7" r="3.45"/>
<circle cx="383.5" cy="535.8" r="3.45"/>
<circle cx="384.3" cy="537.2" r="3.45"/>
<circle cx="385.7" cy="538.4" r="3.45"/>
<circle cx="387.3" cy="538.9" r="3.45"/>
<circle cx="389.2" cy="539.6" r="3.45"/>
<circle cx="390.6" cy="539.1" r="3.45"/>
<circle cx="391.9" cy="537.7" r="3.45"/>
<circle cx="393.1" cy="536.6" r="3.45"/>
<circle cx="394.3" cy="535.3" r="3.45"/>
<circle cx="395.2" cy="533.6" r="3.45"/>
<circle cx="395.9" cy="532.2" r="3.45"/>
<circle cx="396.3" cy="530.4" r="3.45"/>
<circle cx="396.7" cy="528.8" r="3.45"/>
<circle cx="397.3" cy="527.6" r="3.45"/>
<circle cx="398" cy="525.8" r="3.45"/>
<circle cx="399.3" cy="525.1" r="3.45"/>
</g>
<g fill="#bebebe" fill-opacity="0.8">
<circle cx="380.8" cy="525.6" r="3.45"/>
<circle cx="393.5" cy="513.2" r="3.45"/>
<circle cx="399.5" cy="509.2" r="3.45"/>
<circle cx="389.2" cy="536.6" r="3.45"/>
</g>
<g fill="#000"><path d="M402 551.6L402 540.9L402.8 540.9L403.6 540.9L404.4 540.9L405.2 540.3L406 540.5L406.8 540.6L407.6 540.7L408.4 540.7L409.2 540.5L410 540L410.8 539.2L411.6 538.8L412.4 538.5L413.2 538L414 537.1L414.8 535.9L415.6 535L416.4 534.4L417.2 533.8L418 533.4L418.8 532.9L419.6 531.9L420.4 531.9L421.2 531.9L422 531.9L422 531.9L422 551.6Z"/>
</g>
<g fill="#000" fill-opacity="0.8">
<circle cx="404.4" cy="541.3" r="3.45"/>
<circle cx="406.1" cy="540.6" r="3.45"/>
<circle cx="407.6" cy="540.8" r="3.45"/>
<circle cx="409.6" cy="540.6" r="3.45"/>
<circle cx="410.8" cy="539.6" r="3.45"/>
<circle cx="412.2" cy="538.6" r="3.45"/>
<circle cx="413.4" cy="538" r="3.45"/>
<circle cx="414.5" cy="536.7" r="3.45"/>
<circle cx="415.7" cy="535.3" r="3.45"/>
<circle cx="417" cy="534.3" r="3.45"/>
<circle cx="418.5" cy="533.3" r="3.45"/>
</g>
<g fill="#000" fill-opacity="0.8">
<circle cx="406" cy="532.2" r="3.45"/>
<circle cx="420.3" cy="528.3" r="3.45"/>
<circle cx="414.3" cy="536.6" r="3.45"/>
<circle cx="406" cy="539.9" r="3.45"/>
<circle cx="419.8" cy="528.3" r="3.45"/>
<circle cx="417.2" cy="533.3" r="3.45"/>
</g>
<g fill="#bebebe"><path d="M422 551.6L422 530.2L422.8 530.2L423.6 530.2L424.4 530.2L425.2 530.1L426 529.8L426.8 529.1L427.6 528.8L428.4 528.7L429.2 528.5L430 528.2L430.8 528.2L431.6 529.1L432.4 530.3L433.2 531L434 531.9L434.8 533.5L435.6 534.2L436.4 534.7L437.2 534.5L438 534.4L438.8 533.4L439.6 529L440.4 521.8L441.2 519.3L442 519.8L442.8 520L443.6 520L444.4 519.7L445.2 519.1L446 518.6L446.8 518.4L447.6 518.6L448.4 518.6L449.2 518.6L450 518.6L450 518.6L450 551.6Z"/>
</g>
<g fill="#bebebe" fill-opacity="0.8">
<circle cx="424.4" cy="530.7" r="3.45"/>
<circle cx="425.9" cy="529.9" r="3.45"/>
<circle cx="427.6" cy="529" r="3.45"/>
<circle cx="429" cy="528.7" r="3.45"/>
<circle cx="430.8" cy="528.6" r="3.45"/>
<circle cx="432" cy="530" r="3.45"/>
<circle cx="433.3" cy="531" r="3.45"/>
<circle cx="434.2" cy="532.8" r="3.45"/>
<circle cx="434.9" cy="533.8" r="3.45"/>
<circle cx="436.4" cy="534.8" r="3.45"/>
<circle cx="438" cy="534.7" r="3.45"/>
<circle cx="438.8" cy="532.9" r="3.45"/>
<circle cx="439.3" cy="531.3" r="3.45"/>
<circle cx="439.4" cy="529.8" r="3.45"/>
<circle cx="439.6" cy="527.9" r="3.45"/>
<circle cx="439.9" cy="526.4" r="3.45"/>
<circle cx="440.3" cy="524.8" r="3.45"/>
<circle cx="440.1" cy="522.9" r="3.45"/>
<circle cx="440.6" cy="521.4" r="3.45"/>
<circle cx="440.9" cy="520" r="3.45"/>
<circle cx="442.5" cy="520" r="3.45"/>
<circle cx="444.2" cy="520.1" r="3.45"/>
<circle cx="445.4" cy="518.9" r="3.45"/>
<circle cx="447.3" cy="518.6" r="3.45"/>
</g>
<g fill="#bebebe" fill-opacity="0.8">
<circle cx="441.3" cy="517.3" r="3.45"/>
<circle cx="447.4" cy="516.4" r="3.45"/>
<circle cx="427" cy="527.4" r="3.45"/>
<circle cx="432.5" cy="526.7" r="3.45"/>
</g>
<g fill="#000"><path d="M444.6 551.6L444.6 527.4L445.4 527.4L446.2 527.4L447 527.4L447.8 527L448.6 526.6L449.4 526.9L450.2 527L451 526.9L451.8 526.9L452.6 527.1L453.4 527.4L454.2 530.3L455 533.8L455.8 537.4L456.6 538.9L457.4 540L458.2 540.6L459 541.1L459.8 541.4L460.6 541.6L461.4 541.7L462.2 541.4L463 540.5L463.8 538.7L464.6 536.5L465.4 534.8L466.2 534L467 533L467.8 531.5L468.6 530.5L469.4 530.3L470.2 530.4L471 530.4L471.8 530.4L471.9 530.4L471.9 551.6Z"/>
</g>
<g fill="#000" fill-opacity="0.8">
<circle cx="447" cy="527.7" r="3.45"/>
<circle cx="448.6" cy="526.7" r="3.45"/>
<circle cx="450.2" cy="527.2" r="3.45"/>
<circle cx="451.8" cy="527.3" r="3.45"/>
<circle cx="453.3" cy="527.8" r="3.45"/>
<circle cx="454.1" cy="529.6" r="3.45"/>
<circle cx="454.2" cy="531" r="3.45"/>
<circle cx="454.8" cy="533" r="3.45"/>
<circle cx="454.9" cy="534.6" r="3.45"/>
<circle cx="455.5" cy="536.3" r="3.45"/>
<circle cx="455.8" cy="537.9" r="3.45"/>
<circle cx="456.8" cy="539.5" r="3.45"/>
<circle cx="457.7" cy="540.8" r="3.45"/>
<circle cx="459.5" cy="541.6" r="3.45"/>
<circle cx="461.1" cy="541.9" r="3.45"/>
<circle cx="462.7" cy="541.2" r="3.45"/>
<circle cx="463.2" cy="540" r="3.45"/>
<circle cx="464.2" cy="538.1" r="3.45"/>
<circle cx="464.5" cy="536.5" r="3.45"/>
<circle cx="465.3" cy="535" r="3.45"/>
<circle cx="466.3" cy="534.1" r="3.45"/>
<circle cx="467.4" cy="532.8" r="3.45"/>
<circle cx="468.1" cy="531.1" r="3.45"/>
</g>
<g fill="#000" fill-opacity="0.8">
<circle cx="450" cy="525.6" r="3.45"/>
<circle cx="472.4" cy="519.7" r="3.45"/>
<circle cx="469.3" cy="527.4" r="3.45"/>
<circle cx="465.8" cy="529.6" r="3.45"/>
</g>
<g fill="#bebebe"><path d="M469.7 551.6L469.7 536.6L470.5 536.6L471.3 536.6L472.1 536.6L472.9 535.9L473.7 535.7L474.5 535.3L475.3 535.2L476.1 535.7L476.9 537.2L477.7 538.1L478.5 538.7L479.3 539L480.1 539.3L480.9 539.4L481.7 539.2L482.5 538.7L483.3 538.1L484.1 537.6L484.9 537.5L485.7 537.2L486.5 536.6L487.3 534.9L488.1 522.5L488.9 519.6L489.7 519.5L490.5 519.4L491.3 519.4L492.1 519.4L492.7 519.4L492.7 551.6Z"/>
</g>
<g fill="#bebebe" fill-opacity="0.8">
<circle cx="472.1" cy="536.9" r="3.45"/>
<circle cx="473.6" cy="536.3" r="3.45"/>
<circle cx="475.2" cy="535.8" r="3.45"/>
<circle cx="476.4" cy="536.5" r="3.45"/>
<circle cx="477.5" cy="537.9" r="3.45"/>
<circle cx="479" cy="539.1" r="3.45"/>
<circle cx="480.2" cy="539.9" r="3.45"/>
<circle cx="481.9" cy="539.2" r="3.45"/>
<circle cx="483.3" cy="538.4" r="3.45"/>
<circle cx="484.8" cy="537.7" r="3.45"/>
<circle cx="486.3" cy="537.1" r="3.45"/>
<circle cx="487" cy="535.4" r="3.45"/>
<circle cx="487.3" cy="533.7" r="3.45"/>
<circle cx="487.5" cy="532.1" r="3.45"/>
<circle cx="487.5" cy="530.1" r="3.45"/>
<circle cx="487.6" cy="528.9" r="3.45"/>
<circle cx="487.7" cy="526.7" r="3.45"/>
<circle cx="488" cy="525.3" r="3.45"/>
<circle cx="488.2" cy="523.2" r="3.45"/>
<circle cx="488.1" cy="521.6" r="3.45"/>
<circle cx="488.3" cy="520.1" r="3.45"/>
<circle cx="489.9" cy="520" r="3.45"/>
</g>
<g fill="#bebebe" fill-opacity="0.8">
<circle cx="489.5" cy="517.3" r="3.45"/>
<circle cx="473.7" cy="533.3" r="3.45"/>
</g>
<g fill="#000"><path d="M486.2 551.6L486.2 532.9L487 532.9L487.8 532.9L488.6 532.9L489.4 531.4L490.2 530.5L491 529.7L491.8 529.8L492.6 529.9L493.4 530.8L494.2 531.3L495 531.5L495.8 531.8L496.6 532.2L497.4 532.3L498.2 532.4L499 532.8L499.8 533L500.6 533L501.4 532.8L502.2 532.3L503 531.4L503.8 530.3L504.6 530.2L505.4 530.1L506.2 529.8L507 529.4L507.8 528.8L508.6 527.8L509.4 526.8L510.2 526.9L511 526.7L511.8 526.2L512.6 526.2L513.4 526.2L514.2 526.2L514.3 526.2L514.3 551.6Z"/>
</g>
<g fill="#000" fill-opacity="0.8">
<circle cx="488.6" cy="533.1" r="3.45"/>
<circle cx="489.6" cy="531.7" r="3.45"/>
<circle cx="490.3" cy="530.7" r="3.45"/>
<circle cx="492" cy="529.7" r="3.45"/>
<circle cx="493.3" cy="531" r="3.45"/>
<circle cx="495.2" cy="532.1" r="3.45"/>
<circle cx="496.5" cy="532.5" r="3.45"/>
<circle cx="498.4" cy="532.9" r="3.45"/>
<circle cx="499.9" cy="533.3" r="3.45"/>
<circle cx="501.4" cy="532.9" r="3.45"/>
<circle cx="502.8" cy="531.9" r="3.45"/>
<circle cx="504.1" cy="530.9" r="3.45"/>
<circle cx="505.8" cy="530.1" r="3.45"/>
<circle cx="507" cy="529.8" r="3.45"/>
<circle cx="508.4" cy="528.2" r="3.45"/>
<circle cx="509.7" cy="527" r="3.45"/>
<circle cx="511.1" cy="526.7" r="3.45"/>
</g>
<g fill="#000" fill-opacity="0.8">
<circle cx="491.6" cy="526.3" r="3.45"/>
<circle cx="499.3" cy="529.6" r="3.45"/>
<circle cx="502.6" cy="528.9" r="3.45"/>
<circle cx="508.5" cy="523.9" r="3.45"/>
<circle cx="515.1" cy="528.9" r="3.45"/>
</g>
<g fill="#bebebe"><path d="M514.2 551.6L514.2 531.4L515 531.4L515.8 531.4L516.6 531.4L517.4 531L518.2 532L519 533.7L519.8 534.7L520.6 535.4L521.4 537.1L522.2 538.1L523 538.8L523.8 539.2L524.6 539.4L525.4 539.5L526.2 539.7L527 539.7L527.8 539.5L528.6 539.1L529.4 538.4L530.2 536.4L531 533.8L531.8 531.7L532.6 529L533.4 527.6L534.2 528L535 528.3L535.8 528.3L536.6 528.2L537.4 527.8L538.2 527.8L539 527.8L539.8 527.8L539.8 527.8L539.8 551.6Z"/>
</g>
<g fill="#bebebe" fill-opacity="0.8">
<circle cx="516.6" cy="531.8" r="3.45"/>
<circle cx="518.2" cy="532.3" r="3.45"/>
<circle cx="519" cy="534" r="3.45"/>
<circle cx="519.8" cy="535.2" r="3.45"/>
<circle cx="521" cy="536.7" r="3.45"/>
<circle cx="521.9" cy="537.8" r="3.45"/>
<circle cx="523.3" cy="539.3" r="3.45"/>
<circle cx="524.6" cy="539.7" r="3.45"/>
<circle cx="526.6" cy="539.8" r="3.45"/>
<circle cx="528" cy="539.9" r="3.45"/>
<circle cx="529.6" cy="538.4" r="3.45"/>
<circle cx="530.2" cy="536.9" r="3.45"/>
<circle cx="530.6" cy="535.6" r="3.45"/>
<circle cx="531" cy="533.6" r="3.45"/>
<circle cx="531.6" cy="532.1" r="3.45"/>
<circle cx="532" cy="530.4" r="3.45"/>
<circle cx="532.6" cy="528.9" r="3.45"/>
<circle cx="534.1" cy="528.5" r="3.45"/>
<circle cx="536.2" cy="528.6" r="3.45"/>
</g>
<g fill="#bebebe" fill-opacity="0.8">
<circle cx="518.4" cy="527.8" r="3.45"/>
<circle cx="533.2" cy="525.6" r="3.45"/>
<circle cx="540.3" cy="525.6" r="3.45"/>
</g>
<g fill="#000"><path d="M539.4 551.6L539.4 531.3L540.2 531.3L541 531.3L541.8 531.3L542.6 531.1L543.4 532.4L544.2 533.7L545 534.8L545.8 535.5L546.6 535.9L547.4 535.9L548.2 536.5L549 537.1L549.8 537.5L550.6 537.6L551.4 537.9L552.2 538.6L553 539.3L553.8 540.2L554.6 540.8L555.4 541L556.2 541.1L557 540.9L557.8 540.6L558.6 539.9L559.4 538.6L560.2 538.6L561 538.6L561.8 538.6L561.8 538.6L561.8 551.6Z"/>
</g>
<g fill="#000" fill-opacity="0.8">
<circle cx="541.8" cy="531.4" r="3.45"/>
<circle cx="543.2" cy="532.3" r="3.45"/>
<circle cx="544.2" cy="533.8" r="3.45"/>
<circle cx="545.1" cy="535.6" r="3.45"/>
<circle cx="546.8" cy="536.3" r="3.45"/>
<circle cx="548.2" cy="537" r="3.45"/>
<circle cx="549.8" cy="538" r="3.45"/>
<circle cx="551.2" cy="538.4" r="3.45"/>
<circle cx="552.6" cy="539.1" r="3.45"/>
<circle cx="553.9" cy="540.5" r="3.45"/>
<circle cx="555.4" cy="541.5" r="3.45"/>
<circle cx="557" cy="541" r="3.45"/>
<circle cx="558.2" cy="540.3" r="3.45"/>
</g>
<g fill="#000" fill-opacity="0.8">
<circle cx="549.7" cy="514.3" r="3.45"/>
<circle cx="564.6" cy="523" r="3.45"/>
<circle cx="545.9" cy="530.5" r="3.45"/>
</g>
<g fill="#bebebe"><path d="M561.7 551.6L561.7 531.8L562.5 531.8L563.3 531.8L564.1 531.8L564.9 531.5L565.7 531.7L566.5 531.8L567.3 531.8L568.1 531.9L568.9 531.9L569.7 531.6L570.5 531.1L571.3 531.4L572.1 531.6L572.9 531.6L573.7 531.4L574.5 531.2L575.3 531.1L576.1 530.8L576.9 531L577.7 531L578.5 530.9L579.3 530.5L580.1 529.8L580.9 530.1L581.7 530.3L582.5 530.4L583.3 530.5L584.1 530.4L584.9 530.1L585.7 529.5L586.5 529.7L587.3 529.7L588.1 529.5L588.9 529L589.7 529.4L590.5 530L591.3 530.5L592.1 530.8L592.9 530.9L593.7 530.7L594.5 530.3L595.3 530.3L596.1 530.5L596.9 530.4L597.7 530.1L598.5 529.6L599.3 529.5L600.1 529.6L600.9 530L601.7 530.1L602.5 530L603.3 529.6L604.1 528.9L604.9 527.9L605.7 527.9L606.5 528.2L607.3 528.4L608.1 528.3L608.9 528.2L609.7 528.8L610.5 529.1L611.3 529.1L612.1 529L612.9 528.5L613.7 527.8L614.5 528.3L615.3 529L616.1 529.4L616.9 529.5L617.7 529.4L618.5 529.8L619.3 530.2L620.1 530.4L620.9 530.4L621.7 530.3L622.5 530.2L623.3 530.1L624.1 529.6L624.9 530L625.7 530.2L626.5 530.2L627.3 529.9L628.1 529.3L628.9 529L629.7 528.9L630.5 528.6L631.3 528.5L632.1 528.3L632.9 528.2L633.7 529L634.5 529.4L635.3 529.6L636.1 529.5L636.9 529.4L637.7 529.5L638.5 530.3L639.3 531L640.1 531.4L640.9 531.5L641.7 532L642.5 533.1L643.3 533.8L644.1 534.1L644.9 534.2L645.7 534.3L646.5 534.3L647.3 534.1L648.1 533.7L648.9 533.8L649.7 533.9L650.5 533.9L651.3 533.6L652.1 534.3L652.9 536.1L653.7 537.5L654.5 538L655.3 538L656.1 538L656.5 538L656.5 551.6Z"/>
</g>
<g fill="#bebebe" fill-opacity="0.8">
<circle cx="564.1" cy="531.8" r="3.45"/>
<circle cx="565.7" cy="532.2" r="3.45"/>
<circle cx="567.3" cy="532" r="3.45"/>
<circle cx="569.1" cy="532.2" r="3.45"/>
<circle cx="571" cy="531.2" r="3.45"/>
<circle cx="572.3" cy="532.2" r="3.45"/>
<circle cx="574.3" cy="531.3" r="3.45"/>
<circle cx="575.8" cy="531.2" r="3.45"/>
<circle cx="577.4" cy="531.3" r="3.45"/>
<circle cx="579.1" cy="530.7" r="3.45"/>
<circle cx="580.6" cy="530.2" r="3.45"/>
<circle cx="582.4" cy="530.4" r="3.45"/>
<circle cx="584.2" cy="530.7" r="3.45"/>
<circle cx="585.6" cy="530" r="3.45"/>
<circle cx="587.5" cy="529.9" r="3.45"/>
<circle cx="589" cy="529.3" r="3.45"/>
<circle cx="590.7" cy="530.3" r="3.45"/>
<circle cx="591.8" cy="530.9" r="3.45"/>
<circle cx="593.8" cy="530.9" r="3.45"/>
<circle cx="595.5" cy="530.6" r="3.45"/>
<circle cx="597.2" cy="530.8" r="3.45"/>
<circle cx="598.5" cy="530" r="3.45"/>
<circle cx="600.2" cy="530.1" r="3.45"/>
<circle cx="602.1" cy="530.5" r="3.45"/>
<circle cx="603.4" cy="529.4" r="3.45"/>
<circle cx="604.7" cy="528.4" r="3.45"/>
<circle cx="606.2" cy="528.3" r="3.45"/>
<circle cx="608.1" cy="528.4" r="3.45"/>
<circle cx="609.8" cy="529" r="3.45"/>
<circle cx="611.3" cy="529.3" r="3.45"/>
<circle cx="613" cy="528.9" r="3.45"/>
<circle cx="614.5" cy="528.9" r="3.45"/>
<circle cx="616" cy="529.5" r="3.45"/>
<circle cx="617.9" cy="529.8" r="3.45"/>
<circle cx="619.3" cy="530.8" r="3.45"/>
<circle cx="620.9" cy="530.6" r="3.45"/>
<circle cx="622.7" cy="530.4" r="3.45"/>
<circle cx="624.2" cy="529.9" r="3.45"/>
<circle cx="626" cy="530.7" r="3.45"/>
<circle cx="627.6" cy="530.3" r="3.45"/>
<circle cx="629.2" cy="529.2" r="3.45"/>
<circle cx="630.6" cy="529" r="3.45"/>
<circle cx="632.2" cy="528.6" r="3.45"/>
<circle cx="633.7" cy="529.1" r="3.45"/>
<circle cx="635.5" cy="529.6" r="3.45"/>
<circle cx="637.4" cy="530" r="3.45"/>
<circle cx="638.6" cy="530.5" r="3.45"/>
<circle cx="639.9" cy="531.6" r="3.45"/>
<circle cx="641.6" cy="532.2" r="3.45"/>
<circle cx="642.8" cy="533.6" r="3.45"/>
<circle cx="644.3" cy="534.1" r="3.45"/>
<circle cx="645.7" cy="534.6" r="3.45"/>
<circle cx="647.5" cy="534.1" r="3.45"/>
<circle cx="649.3" cy="534" r="3.45"/>
<circle cx="650.9" cy="534" r="3.45"/>
<circle cx="652.4" cy="535.2" r="3.45"/>
<circle cx="653" cy="536.5" r="3.45"/>
<circle cx="654.1" cy="538.3" r="3.45"/>
</g>
<g fill="#bebebe" fill-opacity="0.8">
<circle cx="581.4" cy="518.6" r="3.45"/>
<circle cx="576.2" cy="523.5" r="3.45"/>
<circle cx="613.4" cy="519.5" r="3.45"/>
<circle cx="629.6" cy="519.5" r="3.45"/>
<circle cx="634.6" cy="523.5" r="3.45"/>
<circle cx="584.3" cy="526.7" r="3.45"/>
<circle cx="590.8" cy="526.7" r="3.45"/>
<circle cx="601.8" cy="525.2" r="3.45"/>
<circle cx="636.8" cy="527.4" r="3.45"/>
<circle cx="653.2" cy="531.1" r="3.45"/>
<circle cx="566.4" cy="531" r="3.45"/>
<circle cx="568.9" cy="530.6" r="3.45"/>
<circle cx="571.1" cy="528.2" r="3.45"/>
<circle cx="571.8" cy="529.2" r="3.45"/>
<circle cx="573.1" cy="528.5" r="3.45"/>
<circle cx="576.9" cy="530.2" r="3.45"/>
<circle cx="578.5" cy="527.1" r="3.45"/>
<circle cx="580.5" cy="527.3" r="3.45"/>
<circle cx="581.9" cy="529.7" r="3.45"/>
<circle cx="584.6" cy="527.2" r="3.45"/>
<circle cx="585.7" cy="526.9" r="3.45"/>
<circle cx="588.4" cy="528.3" r="3.45"/>
<circle cx="591.7" cy="529.3" r="3.45"/>
<circle cx="593.2" cy="527.7" r="3.45"/>
<circle cx="596" cy="527.1" r="3.45"/>
<circle cx="598.3" cy="527.7" r="3.45"/>
<circle cx="602.2" cy="529.2" r="3.45"/>
<circle cx="604.5" cy="528.6" r="3.45"/>
<circle cx="606.4" cy="527" r="3.45"/>
<circle cx="608.6" cy="524.7" r="3.45"/>
<circle cx="611.2" cy="527.6" r="3.45"/>
<circle cx="612.8" cy="527.3" r="3.45"/>
<circle cx="614.1" cy="525" r="3.45"/>
<circle cx="617.6" cy="528.9" r="3.45"/>
<circle cx="620.7" cy="527.3" r="3.45"/>
<circle cx="623.5" cy="526.7" r="3.45"/>
<circle cx="626.6" cy="528.4" r="3.45"/>
<circle cx="629" cy="527.4" r="3.45"/>
<circle cx="630.4" cy="525.3" r="3.45"/>
<circle cx="633.6" cy="525.5" r="3.45"/>
<circle cx="635.8" cy="526.2" r="3.45"/>
<circle cx="640.4" cy="528.4" r="3.45"/>
<circle cx="643.1" cy="531.7" r="3.45"/>
<circle cx="645" cy="531.2" r="3.45"/>
<circle cx="647.1" cy="532.7" r="3.45"/>
<circle cx="649.9" cy="530.9" r="3.45"/>
</g>
<circle cx="155.9" cy="490.4" r="2.8" fill="#f00"/>
<circle cx="157.9" cy="504.6" r="3.1" fill="#f00" stroke="#111" stroke-width="0.8"/>
<circle cx="257.3" cy="473.1" r="2.8" fill="#f00"/>
<circle cx="403.8" cy="496.3" r="2.8" fill="#f00"/>
<circle cx="511.4" cy="457.8" r="3.1" fill="#f00" stroke="#111" stroke-width="0.8"/>
<rect x="153.8" y="453.4" width="7.3" height="97.2" fill="#ffa500" fill-opacity="0.5"/>
<rect x="154.0" y="453.4" width="4.9" height="97.2" fill="#ffa500" fill-opacity="0.5"/>
<rect x="255.0" y="453.4" width="5.4" height="97.2" fill="#ffa500" fill-opacity="0.5"/>
<rect x="397.0" y="453.4" width="5.4" height="97.2" fill="#ffa500" fill-opacity="0.5"/>
<rect x="401.2" y="453.4" width="5.7" height="97.2" fill="#ffa500" fill-opacity="0.5"/>
<rect x="508.7" y="453.4" width="5.6" height="97.2" fill="#ffa500" fill-opacity="0.5"/>
<path d="M66 514.85H653.7" stroke="#333" stroke-width="1.7"/>
</g>
<g font-family="Liberation Sans, Arial, sans-serif" font-size="10.7" fill="#484848" text-anchor="end">
<path d="M33.3 550.50H37.9" stroke="#333" stroke-width="1.2"/>
<text x="30.4" y="554.80">0</text>
<path d="M33.3 527.66H37.9" stroke="#333" stroke-width="1.2"/>
<text x="30.4" y="531.96">2</text>
<path d="M33.3 504.82H37.9" stroke="#333" stroke-width="1.2"/>
<text x="30.4" y="509.12">4</text>
<path d="M33.3 481.98H37.9" stroke="#333" stroke-width="1.2"/>
<text x="30.4" y="486.28">6</text>
<path d="M33.3 459.14H37.9" stroke="#333" stroke-width="1.2"/>
<text x="30.4" y="463.44">8</text>
</g>
<text x="682.8" y="441.9" font-family="Liberation Sans, Arial, sans-serif" font-size="18.7" fill="#000" text-anchor="end">Mean of three years</text>
<g font-family="Liberation Sans, Arial, sans-serif" font-size="10.6" fill="#484848" text-anchor="middle">
<text x="71.1" y="568">1A</text>
<text x="93.1" y="568">1B</text>
<text x="114.5" y="568">1D</text>
<text x="136.8" y="568">2A</text>
<text x="164.2" y="568">2B</text>
<text x="190.1" y="568">2D</text>
<text x="215" y="568">3A</text>
<text x="243.2" y="568">3B</text>
<text x="269.1" y="568">3D</text>
<text x="293" y="568">4A</text>
<text x="317.5" y="568">4B</text>
<text x="339" y="568">4D</text>
<text x="360.5" y="568">5A</text>
<text x="385.7" y="568">5B</text>
<text x="408.2" y="568">5D</text>
<text x="429.7" y="568">6A</text>
<text x="452.8" y="568">6B</text>
<text x="473.5" y="568">6D</text>
<text x="495.6" y="568">7A</text>
<text x="522.2" y="568">7B</text>
<text x="546.7" y="568">7D</text>
<text x="602.1" y="568">unmapped</text>
</g>
<text x="353.6" y="586" font-family="Liberation Sans, Arial, sans-serif" font-size="16.85" font-weight="bold" fill="#000" text-anchor="middle">Chromosome</text>
<text transform="translate(11.5 291.6) rotate(-90)" font-family="Liberation Sans, Arial, sans-serif" font-size="14.3" font-weight="bold" fill="#000" text-anchor="middle">-log10(p)</text>
</svg>
</body></html>
